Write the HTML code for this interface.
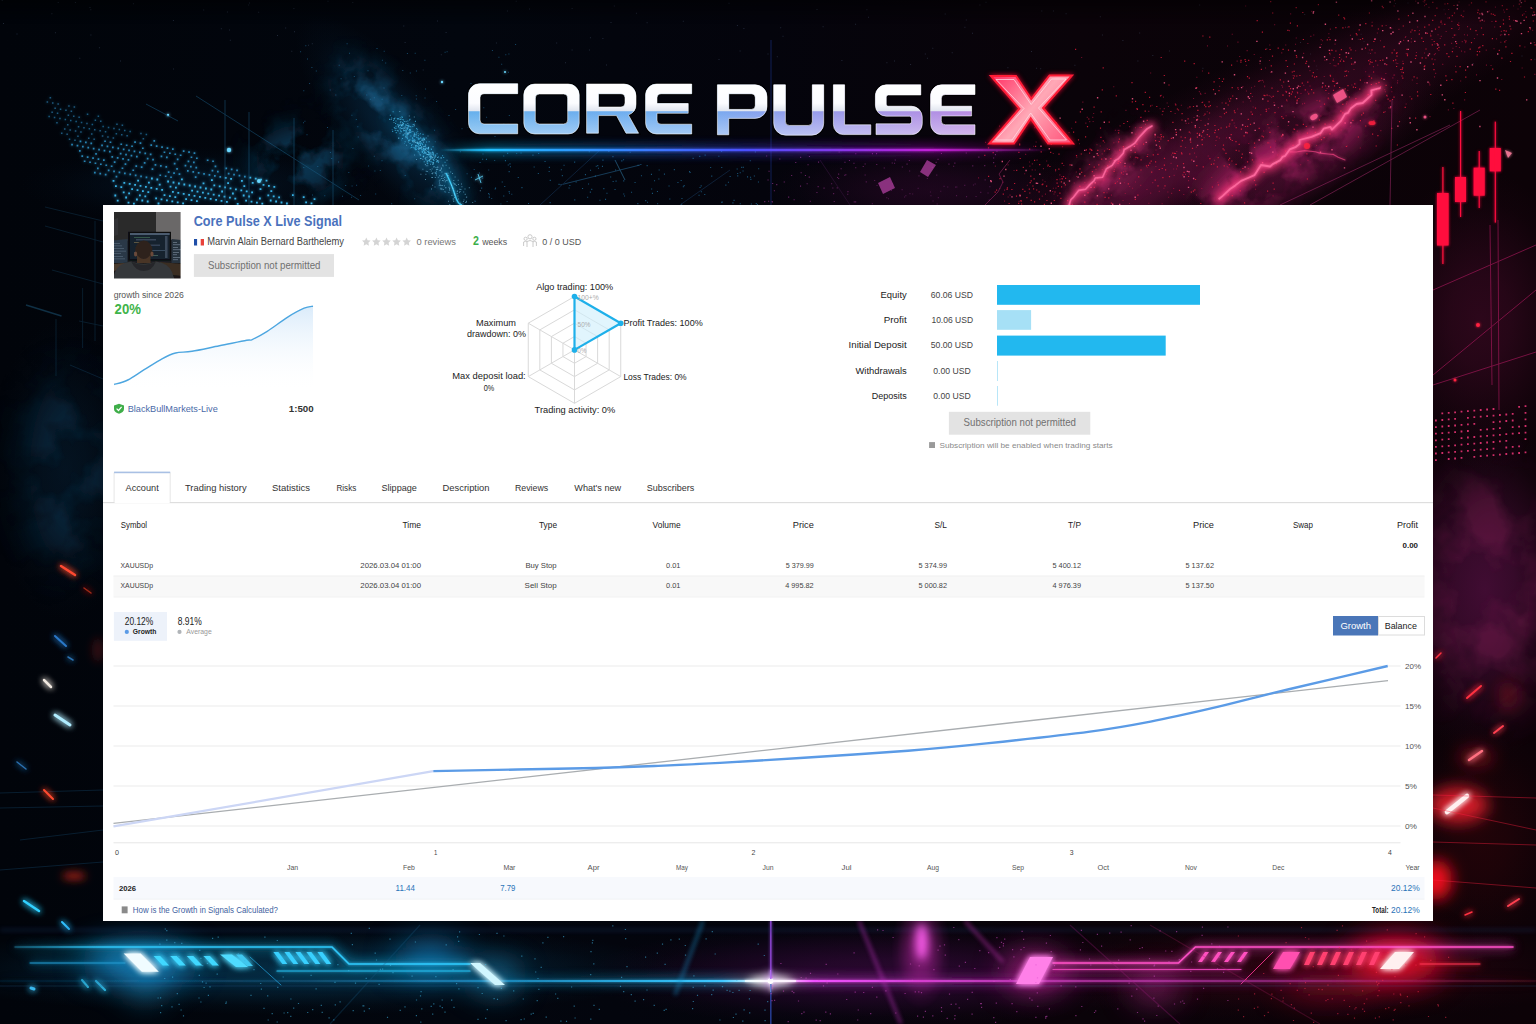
<!DOCTYPE html>
<html><head><meta charset="utf-8"><title>Core Pulse X</title>
<style>
html,body{margin:0;padding:0;width:1536px;height:1024px;overflow:hidden;background:#03050a;}
body{position:relative;font-family:"Liberation Sans", sans-serif;}
#bg{position:absolute;left:0;top:0;width:1536px;height:1024px;display:block;}
#fg{position:absolute;left:0;top:0;width:1536px;height:1024px;}
svg text{font-family:"Liberation Sans", sans-serif;}
</style></head><body>

<svg id="bg" width="1536" height="1024" viewBox="0 0 1536 1024">
<defs>
<linearGradient id="base" x1="0" y1="0" x2="1" y2="0">
 <stop offset="0" stop-color="#01040a"/><stop offset="0.3" stop-color="#02060e"/>
 <stop offset="0.5" stop-color="#04040c"/><stop offset="0.7" stop-color="#0a0309"/><stop offset="1" stop-color="#0c0207"/>
</linearGradient>
<linearGradient id="topdark" x1="0" y1="0" x2="0" y2="1">
 <stop offset="0" stop-color="#000" stop-opacity="0.45"/><stop offset="0.12" stop-color="#000" stop-opacity="0"/>
</linearGradient>
<filter id="b1" x="0" y="0" width="1536" height="1024" filterUnits="userSpaceOnUse"><feGaussianBlur stdDeviation="1"/></filter>
<filter id="b2" x="0" y="0" width="1536" height="1024" filterUnits="userSpaceOnUse"><feGaussianBlur stdDeviation="2"/></filter>
<filter id="b4" x="0" y="0" width="1536" height="1024" filterUnits="userSpaceOnUse"><feGaussianBlur stdDeviation="4"/></filter>
<filter id="b8" x="0" y="0" width="1536" height="1024" filterUnits="userSpaceOnUse"><feGaussianBlur stdDeviation="8"/></filter>
<filter id="b16" x="0" y="0" width="1536" height="1024" filterUnits="userSpaceOnUse"><feGaussianBlur stdDeviation="16"/></filter>
<filter id="b30" x="0" y="0" width="1536" height="1024" filterUnits="userSpaceOnUse"><feGaussianBlur stdDeviation="30"/></filter>
<filter id="glow" x="0" y="0" width="1536" height="1024" filterUnits="userSpaceOnUse"><feGaussianBlur stdDeviation="3" result="g"/><feMerge><feMergeNode in="g"/><feMergeNode in="g"/><feMergeNode in="SourceGraphic"/></feMerge></filter>
<filter id="glowB" x="0" y="0" width="1536" height="1024" filterUnits="userSpaceOnUse"><feGaussianBlur stdDeviation="6" result="g"/><feGaussianBlur in="SourceGraphic" stdDeviation="1.5" result="h"/><feMerge><feMergeNode in="g"/><feMergeNode in="g"/><feMergeNode in="h"/><feMergeNode in="SourceGraphic"/></feMerge></filter>
<filter id="glow2" x="0" y="0" width="1536" height="1024" filterUnits="userSpaceOnUse"><feGaussianBlur stdDeviation="1.5" result="g"/><feMerge><feMergeNode in="g"/><feMergeNode in="SourceGraphic"/></feMerge></filter>
<filter id="cloud" x="0" y="0" width="1536" height="1024" filterUnits="userSpaceOnUse">
 <feGaussianBlur in="SourceGraphic" stdDeviation="22" result="s"/>
 <feTurbulence type="fractalNoise" baseFrequency="0.018" numOctaves="4" seed="5" result="n"/>
 <feColorMatrix in="n" type="matrix" values="0 0 0 0 1  0 0 0 0 1  0 0 0 0 1  3.2 0 0 0 -1.15" result="na"/>
 <feComposite in="na" in2="s" operator="arithmetic" k1="1" k2="0" k3="0" k4="0"/>
</filter>
<filter id="cloud2" x="0" y="0" width="1536" height="1024" filterUnits="userSpaceOnUse">
 <feGaussianBlur in="SourceGraphic" stdDeviation="14" result="s"/>
 <feTurbulence type="fractalNoise" baseFrequency="0.03" numOctaves="4" seed="9" result="n"/>
 <feColorMatrix in="n" type="matrix" values="0 0 0 0 1  0 0 0 0 1  0 0 0 0 1  3.5 0 0 0 -1.3" result="na"/>
 <feComposite in="na" in2="s" operator="arithmetic" k1="1" k2="0" k3="0" k4="0"/>
</filter>
</defs>
<rect width="1536" height="1024" fill="url(#base)"/>
<radialGradient id="hz1"><stop offset="0" stop-color="#06263e" stop-opacity="0.8"/><stop offset="0.3" stop-color="#06263e" stop-opacity="0.640"/><stop offset="0.6" stop-color="#06263e" stop-opacity="0.320"/><stop offset="0.8" stop-color="#06263e" stop-opacity="0.104"/><stop offset="1" stop-color="#06263e" stop-opacity="0"/></radialGradient><ellipse cx="400" cy="135" rx="150" ry="52" fill="url(#hz1)" transform="rotate(50 400 135)"/>
<radialGradient id="hz2"><stop offset="0" stop-color="#04182a" stop-opacity="0.6"/><stop offset="0.3" stop-color="#04182a" stop-opacity="0.480"/><stop offset="0.6" stop-color="#04182a" stop-opacity="0.240"/><stop offset="0.8" stop-color="#04182a" stop-opacity="0.078"/><stop offset="1" stop-color="#04182a" stop-opacity="0"/></radialGradient><ellipse cx="200" cy="185" rx="180" ry="38" fill="url(#hz2)"/>
<radialGradient id="hz3"><stop offset="0" stop-color="#05192a" stop-opacity="0.7"/><stop offset="0.3" stop-color="#05192a" stop-opacity="0.560"/><stop offset="0.6" stop-color="#05192a" stop-opacity="0.280"/><stop offset="0.8" stop-color="#05192a" stop-opacity="0.091"/><stop offset="1" stop-color="#05192a" stop-opacity="0"/></radialGradient><ellipse cx="65" cy="470" rx="75" ry="150" fill="url(#hz3)"/>
<g filter="url(#cloud2)" opacity="0.75"><ellipse cx="395" cy="130" rx="85" ry="22" fill="#1a6a98" transform="rotate(50 395 130)"/><ellipse cx="300" cy="160" rx="45" ry="35" fill="#0e4466"/></g>
<g filter="url(#cloud)" opacity="0.5"><ellipse cx="70" cy="470" rx="40" ry="95" fill="#0c3a58"/></g>
<g filter="url(#b8)"><path d="M390,115 L434,161 Q445,172 452,185 T462,205" stroke="#1a8ac0" stroke-width="9" fill="none" opacity="0.45"/></g>
<g filter="url(#glow2)"><path d="M446,173 Q452,185 455,195 T462,205" stroke="#40d0ff" stroke-width="1.4" fill="none" opacity="0.9"/><path d="M475,180 L483,176 M478,174 L481,183" stroke="#60d8ff" stroke-width="1" opacity="0.8"/></g>
<path d="M402.5 134.6h1.1v1.1h-1.1zM407.0 138.2h1.1v1.1h-1.1zM395.4 125.7h1.1v1.1h-1.1zM430.2 154.8h1.1v1.1h-1.1zM401.4 116.3h1.1v1.1h-1.1zM409.5 118.7h1.1v1.1h-1.1zM419.0 145.2h1.1v1.1h-1.1zM393.9 118.4h1.1v1.1h-1.1zM402.7 127.4h1.1v1.1h-1.1zM404.6 141.2h1.1v1.1h-1.1zM412.0 137.2h1.1v1.1h-1.1zM417.6 148.0h1.1v1.1h-1.1zM444.5 161.7h1.1v1.1h-1.1zM421.9 151.8h1.1v1.1h-1.1zM414.3 133.6h1.1v1.1h-1.1zM413.8 132.4h1.1v1.1h-1.1zM433.4 160.0h1.1v1.1h-1.1zM408.2 124.8h1.1v1.1h-1.1zM432.7 162.1h1.1v1.1h-1.1zM420.9 142.6h1.1v1.1h-1.1zM392.1 130.8h1.1v1.1h-1.1zM428.1 153.4h1.1v1.1h-1.1zM407.3 125.1h1.1v1.1h-1.1zM397.0 124.2h1.1v1.1h-1.1zM402.3 124.3h1.1v1.1h-1.1zM424.6 149.1h1.1v1.1h-1.1zM401.9 137.9h1.1v1.1h-1.1zM423.7 161.2h1.1v1.1h-1.1zM395.7 132.1h1.1v1.1h-1.1zM432.8 153.3h1.1v1.1h-1.1zM403.1 134.3h1.1v1.1h-1.1zM407.6 134.0h1.1v1.1h-1.1zM395.4 120.5h1.1v1.1h-1.1zM415.2 147.6h1.1v1.1h-1.1zM426.9 160.7h1.1v1.1h-1.1zM430.8 158.2h1.1v1.1h-1.1zM432.9 155.2h1.1v1.1h-1.1zM401.8 116.9h1.1v1.1h-1.1zM412.7 124.1h1.1v1.1h-1.1zM417.1 145.4h1.1v1.1h-1.1zM400.1 119.0h1.1v1.1h-1.1zM422.8 156.4h1.1v1.1h-1.1zM418.0 146.6h1.1v1.1h-1.1zM427.1 150.9h1.1v1.1h-1.1zM421.5 138.2h1.1v1.1h-1.1zM409.1 129.0h1.1v1.1h-1.1zM395.0 123.0h1.1v1.1h-1.1zM399.6 124.1h1.1v1.1h-1.1zM421.1 146.0h1.1v1.1h-1.1zM437.9 156.5h1.1v1.1h-1.1zM420.3 147.3h1.1v1.1h-1.1zM407.3 120.5h1.1v1.1h-1.1zM424.0 148.7h1.1v1.1h-1.1zM412.4 146.7h1.1v1.1h-1.1zM409.7 132.0h1.1v1.1h-1.1zM416.0 133.5h1.1v1.1h-1.1zM421.9 143.6h1.1v1.1h-1.1zM427.1 163.1h1.1v1.1h-1.1zM434.6 154.6h1.1v1.1h-1.1zM430.9 148.8h1.1v1.1h-1.1zM415.1 149.1h1.1v1.1h-1.1zM425.6 147.5h1.1v1.1h-1.1zM440.6 157.3h1.1v1.1h-1.1zM409.9 129.8h1.1v1.1h-1.1zM413.7 136.0h1.1v1.1h-1.1zM431.7 152.0h1.1v1.1h-1.1zM415.2 145.3h1.1v1.1h-1.1zM406.4 133.9h1.1v1.1h-1.1zM409.5 129.5h1.1v1.1h-1.1zM423.0 150.2h1.1v1.1h-1.1zM428.3 154.2h1.1v1.1h-1.1zM427.2 162.5h1.1v1.1h-1.1zM394.7 129.8h1.1v1.1h-1.1zM435.2 155.5h1.1v1.1h-1.1zM417.2 145.6h1.1v1.1h-1.1zM419.9 133.2h1.1v1.1h-1.1zM427.3 148.3h1.1v1.1h-1.1zM397.9 126.4h1.1v1.1h-1.1zM397.6 130.3h1.1v1.1h-1.1zM410.9 146.7h1.1v1.1h-1.1zM432.4 161.7h1.1v1.1h-1.1zM397.3 118.6h1.1v1.1h-1.1zM419.5 147.7h1.1v1.1h-1.1zM429.3 153.1h1.1v1.1h-1.1zM422.5 139.2h1.1v1.1h-1.1zM405.5 129.4h1.1v1.1h-1.1zM413.5 147.5h1.1v1.1h-1.1zM425.7 137.4h1.1v1.1h-1.1zM424.2 152.4h1.1v1.1h-1.1zM407.8 126.2h1.1v1.1h-1.1zM425.3 152.3h1.1v1.1h-1.1zM406.9 128.6h1.1v1.1h-1.1zM419.8 141.0h1.1v1.1h-1.1zM428.5 151.9h1.1v1.1h-1.1zM431.8 157.0h1.1v1.1h-1.1zM405.4 131.7h1.1v1.1h-1.1zM400.7 131.1h1.1v1.1h-1.1zM432.1 151.5h1.1v1.1h-1.1zM423.3 152.8h1.1v1.1h-1.1zM422.7 149.1h1.1v1.1h-1.1zM414.9 120.8h1.1v1.1h-1.1zM425.5 159.4h1.1v1.1h-1.1zM416.1 127.9h1.1v1.1h-1.1zM413.6 135.5h1.1v1.1h-1.1zM417.7 137.6h1.1v1.1h-1.1zM396.8 117.9h1.1v1.1h-1.1zM429.1 156.4h1.1v1.1h-1.1zM428.3 154.4h1.1v1.1h-1.1zM414.1 133.2h1.1v1.1h-1.1zM428.1 146.8h1.1v1.1h-1.1zM436.0 161.2h1.1v1.1h-1.1zM414.0 147.4h1.1v1.1h-1.1zM411.0 145.0h1.1v1.1h-1.1zM415.5 146.3h1.1v1.1h-1.1zM431.6 153.6h1.1v1.1h-1.1zM435.0 154.5h1.1v1.1h-1.1zM419.8 147.9h1.1v1.1h-1.1zM414.2 139.6h1.1v1.1h-1.1zM428.7 160.2h1.1v1.1h-1.1zM421.7 151.5h1.1v1.1h-1.1zM428.3 150.4h1.1v1.1h-1.1zM422.5 133.8h1.1v1.1h-1.1zM403.2 130.2h1.1v1.1h-1.1zM416.7 129.2h1.1v1.1h-1.1zM412.7 141.3h1.1v1.1h-1.1zM422.1 144.2h1.1v1.1h-1.1zM429.4 152.7h1.1v1.1h-1.1zM402.4 124.7h1.1v1.1h-1.1zM407.5 132.3h1.1v1.1h-1.1zM428.5 153.5h1.1v1.1h-1.1zM407.0 133.7h1.1v1.1h-1.1zM408.8 140.1h1.1v1.1h-1.1zM418.0 143.6h1.1v1.1h-1.1zM416.3 142.0h1.1v1.1h-1.1zM421.5 150.4h1.1v1.1h-1.1zM403.8 121.0h1.1v1.1h-1.1zM429.4 160.9h1.1v1.1h-1.1zM435.5 172.6h1.1v1.1h-1.1zM433.0 159.3h1.1v1.1h-1.1zM423.9 151.8h1.1v1.1h-1.1zM420.5 158.0h1.1v1.1h-1.1zM393.8 127.0h1.1v1.1h-1.1zM398.0 124.6h1.1v1.1h-1.1zM433.9 157.7h1.1v1.1h-1.1zM415.5 135.5h1.1v1.1h-1.1zM423.1 149.6h1.1v1.1h-1.1zM405.4 123.9h1.1v1.1h-1.1zM413.0 139.7h1.1v1.1h-1.1zM405.1 133.5h1.1v1.1h-1.1zM436.6 160.8h1.1v1.1h-1.1zM402.8 119.4h1.1v1.1h-1.1zM423.0 155.6h1.1v1.1h-1.1zM409.5 143.0h1.1v1.1h-1.1zM392.6 111.2h1.1v1.1h-1.1zM394.4 127.8h1.1v1.1h-1.1zM412.2 138.1h1.1v1.1h-1.1zM426.0 141.4h1.1v1.1h-1.1zM424.3 145.7h1.1v1.1h-1.1zM414.6 148.7h1.1v1.1h-1.1zM424.2 139.4h1.1v1.1h-1.1zM412.3 125.9h1.1v1.1h-1.1zM428.1 148.5h1.1v1.1h-1.1zM436.5 153.2h1.1v1.1h-1.1zM426.2 147.7h1.1v1.1h-1.1zM428.0 151.4h1.1v1.1h-1.1zM418.4 138.9h1.1v1.1h-1.1zM418.0 144.1h1.1v1.1h-1.1zM430.5 156.4h1.1v1.1h-1.1zM415.8 144.9h1.1v1.1h-1.1zM417.8 135.1h1.1v1.1h-1.1zM424.1 137.7h1.1v1.1h-1.1zM389.8 114.7h1.1v1.1h-1.1zM404.0 130.0h1.1v1.1h-1.1zM401.2 127.9h1.1v1.1h-1.1zM410.3 126.2h1.1v1.1h-1.1zM421.7 139.3h1.1v1.1h-1.1zM428.9 156.2h1.1v1.1h-1.1zM391.1 117.5h1.1v1.1h-1.1zM399.5 119.0h1.1v1.1h-1.1zM416.7 142.8h1.1v1.1h-1.1zM430.7 148.4h1.1v1.1h-1.1zM405.2 135.6h1.1v1.1h-1.1zM408.0 139.8h1.1v1.1h-1.1zM415.8 148.9h1.1v1.1h-1.1zM410.6 131.3h1.1v1.1h-1.1zM401.4 125.5h1.1v1.1h-1.1zM417.2 131.2h1.1v1.1h-1.1zM409.0 119.5h1.1v1.1h-1.1zM402.3 118.9h1.1v1.1h-1.1zM417.8 138.5h1.1v1.1h-1.1zM423.3 138.6h1.1v1.1h-1.1zM422.9 137.6h1.1v1.1h-1.1zM424.4 148.3h1.1v1.1h-1.1zM413.7 139.3h1.1v1.1h-1.1zM420.0 144.3h1.1v1.1h-1.1zM418.0 148.2h1.1v1.1h-1.1zM410.7 147.0h1.1v1.1h-1.1zM428.6 141.2h1.1v1.1h-1.1zM424.6 152.3h1.1v1.1h-1.1zM432.2 151.8h1.1v1.1h-1.1zM408.3 139.8h1.1v1.1h-1.1zM411.7 139.8h1.1v1.1h-1.1zM426.5 154.0h1.1v1.1h-1.1zM443.1 157.0h1.1v1.1h-1.1zM400.3 120.9h1.1v1.1h-1.1zM410.3 135.4h1.1v1.1h-1.1zM418.6 142.6h1.1v1.1h-1.1zM415.3 146.0h1.1v1.1h-1.1zM406.5 134.8h1.1v1.1h-1.1zM408.4 125.5h1.1v1.1h-1.1zM404.6 126.2h1.1v1.1h-1.1zM420.4 142.7h1.1v1.1h-1.1zM411.5 144.0h1.1v1.1h-1.1zM401.2 124.3h1.1v1.1h-1.1zM400.1 130.3h1.1v1.1h-1.1zM427.5 160.2h1.1v1.1h-1.1zM400.3 121.1h1.1v1.1h-1.1zM393.0 119.8h1.1v1.1h-1.1zM419.8 154.7h1.1v1.1h-1.1zM399.7 127.1h1.1v1.1h-1.1zM395.6 127.7h1.1v1.1h-1.1zM422.2 150.7h1.1v1.1h-1.1zM408.6 130.0h1.1v1.1h-1.1zM398.1 118.1h1.1v1.1h-1.1zM442.0 155.2h1.1v1.1h-1.1zM413.9 134.0h1.1v1.1h-1.1zM398.3 137.5h1.1v1.1h-1.1zM430.8 161.2h1.1v1.1h-1.1zM406.3 137.1h1.1v1.1h-1.1zM412.7 139.9h1.1v1.1h-1.1zM417.7 151.2h1.1v1.1h-1.1zM421.3 148.8h1.1v1.1h-1.1zM430.0 157.6h1.1v1.1h-1.1zM409.4 139.3h1.1v1.1h-1.1zM428.4 154.6h1.1v1.1h-1.1zM389.1 118.8h1.1v1.1h-1.1zM405.5 124.9h1.1v1.1h-1.1zM437.1 160.4h1.1v1.1h-1.1zM400.6 118.5h1.1v1.1h-1.1zM406.4 135.5h1.1v1.1h-1.1zM416.3 137.0h1.1v1.1h-1.1zM415.8 131.7h1.1v1.1h-1.1zM407.0 138.2h1.1v1.1h-1.1zM427.8 147.1h1.1v1.1h-1.1zM423.2 147.6h1.1v1.1h-1.1zM432.5 146.2h1.1v1.1h-1.1zM429.4 156.4h1.1v1.1h-1.1zM425.1 145.3h1.1v1.1h-1.1zM416.8 141.7h1.1v1.1h-1.1zM432.5 163.3h1.1v1.1h-1.1zM399.5 128.5h1.1v1.1h-1.1zM437.8 161.9h1.1v1.1h-1.1zM394.4 117.5h1.1v1.1h-1.1zM407.3 127.6h1.1v1.1h-1.1zM419.5 143.1h1.1v1.1h-1.1zM400.7 125.3h1.1v1.1h-1.1zM403.0 123.1h1.1v1.1h-1.1zM405.6 130.8h1.1v1.1h-1.1zM402.1 122.1h1.1v1.1h-1.1zM419.3 138.0h1.1v1.1h-1.1z" fill="#40b8e8" opacity="0.7"/>
<path d="M413.8 123.7h1.0v1.0h-1.0zM396.7 130.1h1.0v1.0h-1.0zM414.6 140.5h1.0v1.0h-1.0zM434.5 156.0h1.0v1.0h-1.0zM412.1 140.9h1.0v1.0h-1.0zM432.6 159.1h1.0v1.0h-1.0zM390.7 119.1h1.0v1.0h-1.0zM425.3 147.7h1.0v1.0h-1.0zM403.7 127.9h1.0v1.0h-1.0zM409.5 125.9h1.0v1.0h-1.0zM424.4 145.9h1.0v1.0h-1.0zM421.4 147.1h1.0v1.0h-1.0zM399.3 111.1h1.0v1.0h-1.0zM431.3 155.7h1.0v1.0h-1.0zM428.3 152.1h1.0v1.0h-1.0zM420.1 137.2h1.0v1.0h-1.0zM426.4 162.4h1.0v1.0h-1.0zM413.6 135.5h1.0v1.0h-1.0zM429.7 159.2h1.0v1.0h-1.0zM421.2 147.4h1.0v1.0h-1.0zM406.7 133.2h1.0v1.0h-1.0zM399.5 132.7h1.0v1.0h-1.0zM408.5 132.1h1.0v1.0h-1.0zM398.1 137.8h1.0v1.0h-1.0zM427.7 154.0h1.0v1.0h-1.0zM409.2 131.7h1.0v1.0h-1.0zM416.9 143.0h1.0v1.0h-1.0zM435.7 159.0h1.0v1.0h-1.0zM418.4 148.9h1.0v1.0h-1.0zM415.2 145.2h1.0v1.0h-1.0zM408.8 132.6h1.0v1.0h-1.0zM402.5 123.2h1.0v1.0h-1.0zM425.4 157.1h1.0v1.0h-1.0zM409.3 131.0h1.0v1.0h-1.0zM406.9 127.6h1.0v1.0h-1.0zM425.5 152.8h1.0v1.0h-1.0zM426.7 153.9h1.0v1.0h-1.0zM405.5 129.7h1.0v1.0h-1.0zM421.4 139.9h1.0v1.0h-1.0zM404.9 136.4h1.0v1.0h-1.0zM427.8 148.2h1.0v1.0h-1.0zM407.5 133.0h1.0v1.0h-1.0zM406.6 124.9h1.0v1.0h-1.0zM422.9 148.1h1.0v1.0h-1.0zM393.5 122.0h1.0v1.0h-1.0zM424.9 149.0h1.0v1.0h-1.0zM417.6 133.2h1.0v1.0h-1.0zM424.1 150.6h1.0v1.0h-1.0zM426.7 156.6h1.0v1.0h-1.0zM420.0 144.9h1.0v1.0h-1.0zM426.6 160.8h1.0v1.0h-1.0zM432.3 163.9h1.0v1.0h-1.0zM420.8 147.2h1.0v1.0h-1.0zM397.9 125.9h1.0v1.0h-1.0zM412.4 130.9h1.0v1.0h-1.0zM423.1 146.0h1.0v1.0h-1.0zM405.6 121.1h1.0v1.0h-1.0zM413.8 141.5h1.0v1.0h-1.0zM440.6 157.6h1.0v1.0h-1.0zM425.8 149.7h1.0v1.0h-1.0zM409.5 128.9h1.0v1.0h-1.0zM419.5 141.0h1.0v1.0h-1.0zM418.0 142.6h1.0v1.0h-1.0zM414.0 125.2h1.0v1.0h-1.0zM418.7 152.5h1.0v1.0h-1.0zM419.6 154.1h1.0v1.0h-1.0zM430.5 153.6h1.0v1.0h-1.0zM416.8 141.7h1.0v1.0h-1.0zM420.6 147.4h1.0v1.0h-1.0zM401.5 128.1h1.0v1.0h-1.0zM427.9 147.6h1.0v1.0h-1.0zM407.3 123.0h1.0v1.0h-1.0zM407.9 141.6h1.0v1.0h-1.0zM423.0 141.7h1.0v1.0h-1.0zM424.0 139.1h1.0v1.0h-1.0zM424.7 157.9h1.0v1.0h-1.0zM422.7 140.2h1.0v1.0h-1.0zM406.1 144.7h1.0v1.0h-1.0zM415.4 134.3h1.0v1.0h-1.0zM430.2 152.2h1.0v1.0h-1.0zM422.8 156.1h1.0v1.0h-1.0zM401.7 124.1h1.0v1.0h-1.0zM413.8 140.9h1.0v1.0h-1.0zM419.1 148.1h1.0v1.0h-1.0zM404.3 133.3h1.0v1.0h-1.0zM408.8 115.5h1.0v1.0h-1.0zM425.1 144.2h1.0v1.0h-1.0zM428.7 160.0h1.0v1.0h-1.0zM419.5 141.9h1.0v1.0h-1.0zM431.1 156.4h1.0v1.0h-1.0zM436.8 159.9h1.0v1.0h-1.0zM406.2 132.5h1.0v1.0h-1.0zM432.8 153.7h1.0v1.0h-1.0zM407.9 133.1h1.0v1.0h-1.0zM399.7 117.3h1.0v1.0h-1.0zM427.5 135.5h1.0v1.0h-1.0zM415.0 142.0h1.0v1.0h-1.0zM434.5 157.0h1.0v1.0h-1.0zM425.1 158.5h1.0v1.0h-1.0zM413.8 116.6h1.0v1.0h-1.0zM400.9 125.0h1.0v1.0h-1.0zM432.5 157.3h1.0v1.0h-1.0zM419.9 157.9h1.0v1.0h-1.0zM429.2 154.2h1.0v1.0h-1.0zM427.9 147.0h1.0v1.0h-1.0zM398.9 124.9h1.0v1.0h-1.0zM424.5 151.6h1.0v1.0h-1.0zM399.9 122.3h1.0v1.0h-1.0zM404.4 127.3h1.0v1.0h-1.0zM419.2 147.3h1.0v1.0h-1.0zM430.1 156.0h1.0v1.0h-1.0zM432.7 152.3h1.0v1.0h-1.0zM406.6 136.5h1.0v1.0h-1.0zM393.5 118.1h1.0v1.0h-1.0zM405.7 127.4h1.0v1.0h-1.0zM406.5 127.5h1.0v1.0h-1.0zM403.1 129.5h1.0v1.0h-1.0zM432.2 157.4h1.0v1.0h-1.0zM413.5 134.4h1.0v1.0h-1.0zM429.0 158.9h1.0v1.0h-1.0zM444.8 181.3h1.0v1.0h-1.0zM455.0 183.7h1.0v1.0h-1.0zM454.6 176.5h1.0v1.0h-1.0zM452.9 182.5h1.0v1.0h-1.0zM462.9 201.0h1.0v1.0h-1.0zM425.4 173.7h1.0v1.0h-1.0zM459.0 191.8h1.0v1.0h-1.0zM449.0 188.5h1.0v1.0h-1.0zM458.0 183.9h1.0v1.0h-1.0zM440.4 187.7h1.0v1.0h-1.0zM437.2 168.9h1.0v1.0h-1.0zM439.4 184.5h1.0v1.0h-1.0zM440.1 170.0h1.0v1.0h-1.0zM452.7 198.2h1.0v1.0h-1.0zM458.0 198.4h1.0v1.0h-1.0zM447.6 175.1h1.0v1.0h-1.0zM445.5 187.3h1.0v1.0h-1.0zM463.2 191.4h1.0v1.0h-1.0zM435.9 170.7h1.0v1.0h-1.0zM461.0 183.4h1.0v1.0h-1.0zM425.7 165.3h1.0v1.0h-1.0zM439.9 169.5h1.0v1.0h-1.0zM448.8 167.4h1.0v1.0h-1.0zM422.4 168.8h1.0v1.0h-1.0zM432.4 172.3h1.0v1.0h-1.0zM429.7 169.0h1.0v1.0h-1.0zM446.7 179.7h1.0v1.0h-1.0zM465.9 196.7h1.0v1.0h-1.0zM437.8 176.7h1.0v1.0h-1.0zM420.4 173.7h1.0v1.0h-1.0zM431.0 188.4h1.0v1.0h-1.0zM459.3 188.7h1.0v1.0h-1.0zM459.6 190.9h1.0v1.0h-1.0zM461.4 186.2h1.0v1.0h-1.0zM453.2 201.1h1.0v1.0h-1.0zM449.3 203.9h1.0v1.0h-1.0zM434.6 172.3h1.0v1.0h-1.0zM452.0 187.6h1.0v1.0h-1.0zM430.8 170.5h1.0v1.0h-1.0zM457.7 179.8h1.0v1.0h-1.0zM462.4 203.5h1.0v1.0h-1.0zM429.8 158.8h1.0v1.0h-1.0zM444.6 172.7h1.0v1.0h-1.0zM425.0 178.9h1.0v1.0h-1.0zM454.1 196.9h1.0v1.0h-1.0zM442.3 165.1h1.0v1.0h-1.0zM453.9 183.7h1.0v1.0h-1.0zM427.3 165.3h1.0v1.0h-1.0zM438.2 160.8h1.0v1.0h-1.0zM454.3 194.5h1.0v1.0h-1.0zM444.0 179.2h1.0v1.0h-1.0zM433.6 166.1h1.0v1.0h-1.0zM432.0 176.9h1.0v1.0h-1.0zM433.1 162.4h1.0v1.0h-1.0zM453.1 190.2h1.0v1.0h-1.0zM434.8 177.0h1.0v1.0h-1.0zM432.1 184.8h1.0v1.0h-1.0zM436.0 174.6h1.0v1.0h-1.0zM439.3 170.0h1.0v1.0h-1.0zM438.7 184.7h1.0v1.0h-1.0zM468.8 187.2h1.0v1.0h-1.0zM435.9 169.0h1.0v1.0h-1.0zM442.8 180.3h1.0v1.0h-1.0zM439.0 182.4h1.0v1.0h-1.0zM444.2 176.9h1.0v1.0h-1.0zM452.5 187.8h1.0v1.0h-1.0zM444.5 173.3h1.0v1.0h-1.0zM451.0 184.4h1.0v1.0h-1.0zM442.8 189.0h1.0v1.0h-1.0zM424.9 164.0h1.0v1.0h-1.0zM430.0 163.8h1.0v1.0h-1.0zM439.6 179.4h1.0v1.0h-1.0zM441.4 175.7h1.0v1.0h-1.0zM450.2 171.6h1.0v1.0h-1.0zM436.6 169.0h1.0v1.0h-1.0zM431.5 172.9h1.0v1.0h-1.0zM425.7 170.8h1.0v1.0h-1.0zM449.2 189.7h1.0v1.0h-1.0zM438.8 180.5h1.0v1.0h-1.0zM464.7 194.0h1.0v1.0h-1.0zM466.0 201.6h1.0v1.0h-1.0zM445.0 187.2h1.0v1.0h-1.0zM435.5 167.0h1.0v1.0h-1.0zM422.3 158.7h1.0v1.0h-1.0zM426.8 171.1h1.0v1.0h-1.0zM441.9 180.1h1.0v1.0h-1.0zM466.2 196.5h1.0v1.0h-1.0zM447.4 172.8h1.0v1.0h-1.0zM451.0 185.0h1.0v1.0h-1.0zM465.9 200.7h1.0v1.0h-1.0zM441.5 188.4h1.0v1.0h-1.0zM440.0 184.7h1.0v1.0h-1.0zM449.2 187.8h1.0v1.0h-1.0zM445.6 180.0h1.0v1.0h-1.0zM437.2 166.4h1.0v1.0h-1.0zM432.5 162.3h1.0v1.0h-1.0zM447.1 174.7h1.0v1.0h-1.0zM446.5 159.8h1.0v1.0h-1.0zM431.6 168.4h1.0v1.0h-1.0zM448.0 200.8h1.0v1.0h-1.0zM437.3 167.0h1.0v1.0h-1.0zM442.6 165.4h1.0v1.0h-1.0zM451.4 195.1h1.0v1.0h-1.0zM443.9 185.2h1.0v1.0h-1.0zM463.5 199.5h1.0v1.0h-1.0zM454.0 193.3h1.0v1.0h-1.0zM414.1 154.5h1.0v1.0h-1.0zM439.2 175.2h1.0v1.0h-1.0zM465.2 201.9h1.0v1.0h-1.0zM456.7 193.1h1.0v1.0h-1.0zM437.0 157.1h1.0v1.0h-1.0zM433.3 166.4h1.0v1.0h-1.0zM441.3 184.9h1.0v1.0h-1.0zM445.6 164.8h1.0v1.0h-1.0zM431.3 177.1h1.0v1.0h-1.0zM464.7 193.8h1.0v1.0h-1.0zM440.5 188.7h1.0v1.0h-1.0zM436.9 168.7h1.0v1.0h-1.0zM433.5 166.3h1.0v1.0h-1.0zM456.8 191.0h1.0v1.0h-1.0zM440.9 178.0h1.0v1.0h-1.0zM442.6 178.1h1.0v1.0h-1.0zM437.6 160.2h1.0v1.0h-1.0zM436.5 168.8h1.0v1.0h-1.0zM434.5 186.4h1.0v1.0h-1.0zM453.3 180.1h1.0v1.0h-1.0zM448.4 186.7h1.0v1.0h-1.0zM479.8 190.2h1.0v1.0h-1.0zM452.0 173.0h1.0v1.0h-1.0zM441.0 168.4h1.0v1.0h-1.0zM440.9 167.5h1.0v1.0h-1.0zM452.8 199.5h1.0v1.0h-1.0zM435.4 172.7h1.0v1.0h-1.0zM416.0 158.9h1.0v1.0h-1.0zM457.0 190.6h1.0v1.0h-1.0zM464.5 188.6h1.0v1.0h-1.0zM442.4 174.5h1.0v1.0h-1.0zM472.2 201.9h1.0v1.0h-1.0zM432.1 173.3h1.0v1.0h-1.0zM455.8 185.1h1.0v1.0h-1.0zM448.4 191.9h1.0v1.0h-1.0zM460.1 202.7h1.0v1.0h-1.0zM441.4 171.6h1.0v1.0h-1.0zM444.4 191.3h1.0v1.0h-1.0zM439.7 169.7h1.0v1.0h-1.0zM441.3 176.1h1.0v1.0h-1.0zM441.8 185.1h1.0v1.0h-1.0zM454.0 183.2h1.0v1.0h-1.0zM442.3 164.5h1.0v1.0h-1.0zM457.5 195.4h1.0v1.0h-1.0zM460.4 189.1h1.0v1.0h-1.0z" fill="#8adcff" opacity="0.5"/>
<g filter="url(#glow2)">
<path d="M48.4 115.8h1.5v1.5h-1.5zM46.6 101.2h1.5v1.5h-1.5zM51.4 111.6h1.5v1.5h-1.5zM53.8 116.8h1.5v1.5h-1.5zM56.2 122.0h1.5v1.5h-1.5zM61.0 132.4h1.5v1.5h-1.5zM49.6 97.0h1.5v1.5h-1.5zM52.0 102.2h1.5v1.5h-1.5zM54.4 107.4h1.5v1.5h-1.5zM56.8 112.6h1.5v1.5h-1.5zM59.2 117.8h1.5v1.5h-1.5zM64.0 128.2h1.5v1.5h-1.5zM66.4 133.4h1.5v1.5h-1.5zM68.8 138.6h1.5v1.5h-1.5zM57.4 103.2h1.5v1.5h-1.5zM59.8 108.4h1.5v1.5h-1.5zM64.6 118.8h1.5v1.5h-1.5zM67.0 124.0h1.5v1.5h-1.5zM69.4 129.2h1.5v1.5h-1.5zM74.2 139.6h1.5v1.5h-1.5zM65.2 109.4h1.5v1.5h-1.5zM67.6 114.6h1.5v1.5h-1.5zM70.0 119.8h1.5v1.5h-1.5zM74.8 130.2h1.5v1.5h-1.5zM77.2 135.4h1.5v1.5h-1.5zM68.2 105.2h1.5v1.5h-1.5zM70.6 110.4h1.5v1.5h-1.5zM73.0 115.6h1.5v1.5h-1.5zM75.4 120.8h1.5v1.5h-1.5zM77.8 126.0h1.5v1.5h-1.5zM80.2 131.2h1.5v1.5h-1.5zM73.6 106.2h1.5v1.5h-1.5zM78.4 116.6h1.5v1.5h-1.5zM80.8 121.8h1.5v1.5h-1.5zM83.2 127.0h1.5v1.5h-1.5zM88.0 137.4h1.5v1.5h-1.5zM86.2 122.8h1.5v1.5h-1.5zM88.6 128.0h1.5v1.5h-1.5zM91.0 133.2h1.5v1.5h-1.5zM93.4 138.4h1.5v1.5h-1.5zM86.8 113.4h1.5v1.5h-1.5zM91.6 123.8h1.5v1.5h-1.5zM94.0 129.0h1.5v1.5h-1.5zM94.6 119.6h1.5v1.5h-1.5zM99.4 130.0h1.5v1.5h-1.5zM101.8 135.2h1.5v1.5h-1.5zM97.6 115.4h1.5v1.5h-1.5zM100.0 120.6h1.5v1.5h-1.5zM102.4 125.8h1.5v1.5h-1.5zM104.8 131.0h1.5v1.5h-1.5zM107.2 136.2h1.5v1.5h-1.5zM107.8 126.8h1.5v1.5h-1.5zM112.6 137.2h1.5v1.5h-1.5zM113.2 127.8h1.5v1.5h-1.5zM115.6 133.0h1.5v1.5h-1.5zM116.2 123.6h1.5v1.5h-1.5zM118.6 128.8h1.5v1.5h-1.5zM121.0 134.0h1.5v1.5h-1.5zM121.6 124.6h1.5v1.5h-1.5zM124.0 129.8h1.5v1.5h-1.5zM126.4 135.0h1.5v1.5h-1.5zM129.4 130.8h1.5v1.5h-1.5zM140.2 132.8h1.5v1.5h-1.5zM142.6 138.0h1.5v1.5h-1.5zM145.6 133.8h1.5v1.5h-1.5z" fill="#2a88c0" opacity="0.6"/>
<path d="M71.2 143.8h1.7v1.7h-1.7zM76.6 144.8h1.7v1.7h-1.7zM79.0 150.0h1.7v1.7h-1.7zM81.4 155.2h1.7v1.7h-1.7zM83.8 160.4h1.7v1.7h-1.7zM79.6 140.6h1.7v1.7h-1.7zM82.0 145.8h1.7v1.7h-1.7zM86.8 156.2h1.7v1.7h-1.7zM89.2 161.4h1.7v1.7h-1.7zM94.0 171.8h1.7v1.7h-1.7zM85.0 141.6h1.7v1.7h-1.7zM87.4 146.8h1.7v1.7h-1.7zM92.2 157.2h1.7v1.7h-1.7zM94.6 162.4h1.7v1.7h-1.7zM97.0 167.6h1.7v1.7h-1.7zM99.4 172.8h1.7v1.7h-1.7zM90.4 142.6h1.7v1.7h-1.7zM92.8 147.8h1.7v1.7h-1.7zM95.2 153.0h1.7v1.7h-1.7zM97.6 158.2h1.7v1.7h-1.7zM100.0 163.4h1.7v1.7h-1.7zM104.8 173.8h1.7v1.7h-1.7zM98.2 148.8h1.7v1.7h-1.7zM103.0 159.2h1.7v1.7h-1.7zM105.4 164.4h1.7v1.7h-1.7zM107.8 169.6h1.7v1.7h-1.7zM101.2 144.6h1.7v1.7h-1.7zM103.6 149.8h1.7v1.7h-1.7zM110.8 165.4h1.7v1.7h-1.7zM113.2 170.6h1.7v1.7h-1.7zM115.6 175.8h1.7v1.7h-1.7zM104.2 140.4h1.7v1.7h-1.7zM106.6 145.6h1.7v1.7h-1.7zM109.0 150.8h1.7v1.7h-1.7zM111.4 156.0h1.7v1.7h-1.7zM113.8 161.2h1.7v1.7h-1.7zM118.6 171.6h1.7v1.7h-1.7zM109.6 141.4h1.7v1.7h-1.7zM112.0 146.6h1.7v1.7h-1.7zM116.8 157.0h1.7v1.7h-1.7zM121.6 167.4h1.7v1.7h-1.7zM124.0 172.6h1.7v1.7h-1.7zM117.4 147.6h1.7v1.7h-1.7zM119.8 152.8h1.7v1.7h-1.7zM122.2 158.0h1.7v1.7h-1.7zM124.6 163.2h1.7v1.7h-1.7zM129.4 173.6h1.7v1.7h-1.7zM120.4 143.4h1.7v1.7h-1.7zM122.8 148.6h1.7v1.7h-1.7zM125.2 153.8h1.7v1.7h-1.7zM127.6 159.0h1.7v1.7h-1.7zM132.4 169.4h1.7v1.7h-1.7zM134.8 174.6h1.7v1.7h-1.7zM125.8 144.4h1.7v1.7h-1.7zM128.2 149.6h1.7v1.7h-1.7zM130.6 154.8h1.7v1.7h-1.7zM135.4 165.2h1.7v1.7h-1.7zM140.2 175.6h1.7v1.7h-1.7zM131.2 145.4h1.7v1.7h-1.7zM133.6 150.6h1.7v1.7h-1.7zM136.0 155.8h1.7v1.7h-1.7zM140.8 166.2h1.7v1.7h-1.7zM145.6 176.6h1.7v1.7h-1.7zM134.2 141.2h1.7v1.7h-1.7zM139.0 151.6h1.7v1.7h-1.7zM143.8 162.0h1.7v1.7h-1.7zM139.6 142.2h1.7v1.7h-1.7zM142.0 147.4h1.7v1.7h-1.7zM144.4 152.6h1.7v1.7h-1.7zM146.8 157.8h1.7v1.7h-1.7zM151.6 168.2h1.7v1.7h-1.7zM149.8 153.6h1.7v1.7h-1.7zM152.2 158.8h1.7v1.7h-1.7zM154.6 164.0h1.7v1.7h-1.7zM159.4 174.4h1.7v1.7h-1.7zM150.4 144.2h1.7v1.7h-1.7zM160.0 165.0h1.7v1.7h-1.7zM164.8 175.4h1.7v1.7h-1.7zM153.4 140.0h1.7v1.7h-1.7zM155.8 145.2h1.7v1.7h-1.7zM160.6 155.6h1.7v1.7h-1.7zM165.4 166.0h1.7v1.7h-1.7zM167.8 171.2h1.7v1.7h-1.7zM170.2 176.4h1.7v1.7h-1.7zM161.2 146.2h1.7v1.7h-1.7zM163.6 151.4h1.7v1.7h-1.7zM166.0 156.6h1.7v1.7h-1.7zM173.2 172.2h1.7v1.7h-1.7zM166.6 147.2h1.7v1.7h-1.7zM169.0 152.4h1.7v1.7h-1.7zM173.8 162.8h1.7v1.7h-1.7zM176.2 168.0h1.7v1.7h-1.7zM178.6 173.2h1.7v1.7h-1.7zM172.0 148.2h1.7v1.7h-1.7zM174.4 153.4h1.7v1.7h-1.7zM176.8 158.6h1.7v1.7h-1.7zM179.8 154.4h1.7v1.7h-1.7zM184.6 164.8h1.7v1.7h-1.7zM187.0 170.0h1.7v1.7h-1.7zM182.8 150.2h1.7v1.7h-1.7zM187.6 160.6h1.7v1.7h-1.7zM190.0 165.8h1.7v1.7h-1.7zM192.4 171.0h1.7v1.7h-1.7zM194.8 176.2h1.7v1.7h-1.7zM188.2 151.2h1.7v1.7h-1.7zM190.6 156.4h1.7v1.7h-1.7zM193.0 161.6h1.7v1.7h-1.7zM195.4 166.8h1.7v1.7h-1.7zM197.8 172.0h1.7v1.7h-1.7zM193.6 152.2h1.7v1.7h-1.7zM196.0 157.4h1.7v1.7h-1.7zM203.2 173.0h1.7v1.7h-1.7zM208.6 174.0h1.7v1.7h-1.7zM206.8 159.4h1.7v1.7h-1.7zM211.6 169.8h1.7v1.7h-1.7zM214.0 175.0h1.7v1.7h-1.7zM212.2 160.4h1.7v1.7h-1.7zM214.6 165.6h1.7v1.7h-1.7zM217.0 170.8h1.7v1.7h-1.7zM219.4 176.0h1.7v1.7h-1.7zM225.4 167.6h1.7v1.7h-1.7zM227.8 172.8h1.7v1.7h-1.7zM230.8 168.6h1.7v1.7h-1.7zM233.2 173.8h1.7v1.7h-1.7zM236.2 169.6h1.7v1.7h-1.7zM238.6 174.8h1.7v1.7h-1.7zM244.0 175.8h1.7v1.7h-1.7z" fill="#30a0d8" opacity="0.8"/>
<path d="M114.4 194.6h1.8v1.8h-1.8zM116.8 199.8h1.8v1.8h-1.8zM112.6 180.0h1.8v1.8h-1.8zM115.0 185.2h1.8v1.8h-1.8zM120.4 186.2h1.8v1.8h-1.8zM122.8 191.4h1.8v1.8h-1.8zM125.2 196.6h1.8v1.8h-1.8zM127.6 201.8h1.8v1.8h-1.8zM123.4 182.0h1.8v1.8h-1.8zM128.2 192.4h1.8v1.8h-1.8zM133.0 202.8h1.8v1.8h-1.8zM128.8 183.0h1.8v1.8h-1.8zM131.2 188.2h1.8v1.8h-1.8zM136.0 198.6h1.8v1.8h-1.8zM134.2 184.0h1.8v1.8h-1.8zM136.6 189.2h1.8v1.8h-1.8zM139.0 194.4h1.8v1.8h-1.8zM141.4 199.6h1.8v1.8h-1.8zM137.2 179.8h1.8v1.8h-1.8zM139.6 185.0h1.8v1.8h-1.8zM142.0 190.2h1.8v1.8h-1.8zM144.4 195.4h1.8v1.8h-1.8zM146.8 200.6h1.8v1.8h-1.8zM145.0 186.0h1.8v1.8h-1.8zM147.4 191.2h1.8v1.8h-1.8zM148.0 181.8h1.8v1.8h-1.8zM150.4 187.0h1.8v1.8h-1.8zM155.2 197.4h1.8v1.8h-1.8zM157.6 202.6h1.8v1.8h-1.8zM151.0 177.6h1.8v1.8h-1.8zM155.8 188.0h1.8v1.8h-1.8zM160.6 198.4h1.8v1.8h-1.8zM156.4 178.6h1.8v1.8h-1.8zM158.8 183.8h1.8v1.8h-1.8zM161.2 189.0h1.8v1.8h-1.8zM163.6 194.2h1.8v1.8h-1.8zM166.0 199.4h1.8v1.8h-1.8zM169.0 195.2h1.8v1.8h-1.8zM171.4 200.4h1.8v1.8h-1.8zM167.2 180.6h1.8v1.8h-1.8zM169.6 185.8h1.8v1.8h-1.8zM172.0 191.0h1.8v1.8h-1.8zM174.4 196.2h1.8v1.8h-1.8zM176.8 201.4h1.8v1.8h-1.8zM172.6 181.6h1.8v1.8h-1.8zM175.0 186.8h1.8v1.8h-1.8zM177.4 192.0h1.8v1.8h-1.8zM182.2 202.4h1.8v1.8h-1.8zM178.0 182.6h1.8v1.8h-1.8zM182.8 193.0h1.8v1.8h-1.8zM185.2 198.2h1.8v1.8h-1.8zM181.0 178.4h1.8v1.8h-1.8zM183.4 183.6h1.8v1.8h-1.8zM188.2 194.0h1.8v1.8h-1.8zM190.6 199.2h1.8v1.8h-1.8zM188.8 184.6h1.8v1.8h-1.8zM191.2 189.8h1.8v1.8h-1.8zM193.6 195.0h1.8v1.8h-1.8zM196.0 200.2h1.8v1.8h-1.8zM194.2 185.6h1.8v1.8h-1.8zM196.6 190.8h1.8v1.8h-1.8zM199.0 196.0h1.8v1.8h-1.8zM199.6 186.6h1.8v1.8h-1.8zM202.0 191.8h1.8v1.8h-1.8zM204.4 197.0h1.8v1.8h-1.8zM202.6 182.4h1.8v1.8h-1.8zM205.0 187.6h1.8v1.8h-1.8zM207.4 192.8h1.8v1.8h-1.8zM209.8 198.0h1.8v1.8h-1.8zM210.4 188.6h1.8v1.8h-1.8zM212.8 193.8h1.8v1.8h-1.8zM215.2 199.0h1.8v1.8h-1.8zM211.0 179.2h1.8v1.8h-1.8zM213.4 184.4h1.8v1.8h-1.8zM218.2 194.8h1.8v1.8h-1.8zM220.6 200.0h1.8v1.8h-1.8zM218.8 185.4h1.8v1.8h-1.8zM221.2 190.6h1.8v1.8h-1.8zM223.6 195.8h1.8v1.8h-1.8zM226.0 201.0h1.8v1.8h-1.8zM224.2 186.4h1.8v1.8h-1.8zM229.0 196.8h1.8v1.8h-1.8zM224.8 177.0h1.8v1.8h-1.8zM227.2 182.2h1.8v1.8h-1.8zM229.6 187.4h1.8v1.8h-1.8zM232.0 192.6h1.8v1.8h-1.8zM234.4 197.8h1.8v1.8h-1.8zM236.8 203.0h1.8v1.8h-1.8zM230.2 178.0h1.8v1.8h-1.8zM235.0 188.4h1.8v1.8h-1.8zM240.4 189.4h1.8v1.8h-1.8zM242.8 194.6h1.8v1.8h-1.8zM245.2 199.8h1.8v1.8h-1.8zM241.0 180.0h1.8v1.8h-1.8zM243.4 185.2h1.8v1.8h-1.8zM245.8 190.4h1.8v1.8h-1.8zM248.2 195.6h1.8v1.8h-1.8zM250.6 200.8h1.8v1.8h-1.8zM251.2 191.4h1.8v1.8h-1.8zM256.0 201.8h1.8v1.8h-1.8zM249.4 176.8h1.8v1.8h-1.8zM251.8 182.0h1.8v1.8h-1.8zM259.0 197.6h1.8v1.8h-1.8zM261.4 202.8h1.8v1.8h-1.8zM254.8 177.8h1.8v1.8h-1.8zM259.6 188.2h1.8v1.8h-1.8zM260.2 178.8h1.8v1.8h-1.8zM262.6 184.0h1.8v1.8h-1.8zM267.4 194.4h1.8v1.8h-1.8zM269.8 199.6h1.8v1.8h-1.8zM265.6 179.8h1.8v1.8h-1.8zM268.0 185.0h1.8v1.8h-1.8zM270.4 190.2h1.8v1.8h-1.8zM272.8 195.4h1.8v1.8h-1.8zM275.2 200.6h1.8v1.8h-1.8zM273.4 186.0h1.8v1.8h-1.8zM278.2 196.4h1.8v1.8h-1.8zM280.6 201.6h1.8v1.8h-1.8zM286.0 202.6h1.8v1.8h-1.8zM292.0 194.2h1.8v1.8h-1.8zM302.8 196.2h1.8v1.8h-1.8zM305.2 201.4h1.8v1.8h-1.8zM310.6 202.4h1.8v1.8h-1.8zM313.6 198.2h1.8v1.8h-1.8z" fill="#3ab8ee" opacity="0.95"/>
</g>
<g filter="url(#glow2)" fill="#6ad8ff"><circle cx="229" cy="150" r="2.2"/><circle cx="259" cy="181" r="2"/><circle cx="168" cy="115" r="1.2"/><circle cx="442" cy="82" r="1.2"/><circle cx="505" cy="72" r="1"/></g>
<g stroke="#1c6088" stroke-width="0.8" fill="none" opacity="0.6"><path d="M196,96 L359,200"/><path d="M146,104 L178,121"/><path d="M225,100 L225,205"/><path d="M249,112 L249,205"/><path d="M294,118 L294,205"/><path d="M333,130 L333,205"/></g><g stroke="#1c5a80" stroke-width="0.8" fill="none" opacity="0.35"><path d="M45,207 L103,221"/><path d="M45,226 L103,242"/><path d="M52,270 L103,284"/><path d="M79,321 L103,326"/><path d="M70,365 L103,379"/><path d="M56,319 L56,376"/><path d="M82.6,288 L82.6,348"/><path d="M95,221 L95,341"/><path d="M26,305 L61.5,316" stroke="#2a80b0" stroke-width="1.4"/></g>
<g stroke="#103a58" stroke-width="0.8" opacity="0.6"><path d="M0,793 L103,790"/><path d="M0,808 L103,806"/><path d="M20,840 L103,830"/><path d="M0,870 L103,862"/></g>
<path d="M434.1 129.7h1.0v1.0h-1.0zM461.5 128.2h1.0v1.0h-1.0zM445.2 191.7h1.0v1.0h-1.0zM470.5 82.9h1.0v1.0h-1.0zM312.0 194.5h1.0v1.0h-1.0zM379.8 169.9h1.0v1.0h-1.0zM351.4 114.7h1.0v1.0h-1.0zM381.5 160.3h1.0v1.0h-1.0zM507.6 123.4h1.0v1.0h-1.0zM424.5 97.5h1.0v1.0h-1.0zM351.1 196.7h1.0v1.0h-1.0zM324.3 195.2h1.0v1.0h-1.0zM444.6 51.8h1.0v1.0h-1.0zM498.4 56.8h1.0v1.0h-1.0zM424.4 59.8h1.0v1.0h-1.0zM517.5 91.0h1.0v1.0h-1.0zM491.9 50.1h1.0v1.0h-1.0zM446.6 51.2h1.0v1.0h-1.0zM306.5 134.2h1.0v1.0h-1.0zM516.2 153.0h1.0v1.0h-1.0zM488.2 169.5h1.0v1.0h-1.0zM414.7 52.7h1.0v1.0h-1.0zM415.9 70.5h1.0v1.0h-1.0zM415.9 98.4h1.0v1.0h-1.0zM409.8 72.6h1.0v1.0h-1.0zM455.1 108.9h1.0v1.0h-1.0zM406.9 53.0h1.0v1.0h-1.0zM407.1 132.0h1.0v1.0h-1.0zM514.0 132.6h1.0v1.0h-1.0zM329.7 89.5h1.0v1.0h-1.0zM373.8 155.8h1.0v1.0h-1.0zM506.6 201.0h1.0v1.0h-1.0zM509.0 192.7h1.0v1.0h-1.0zM488.9 194.3h1.0v1.0h-1.0zM304.4 120.8h1.0v1.0h-1.0zM429.9 153.1h1.0v1.0h-1.0zM434.8 141.2h1.0v1.0h-1.0zM505.3 54.3h1.0v1.0h-1.0zM414.2 198.3h1.0v1.0h-1.0zM307.0 58.4h1.0v1.0h-1.0zM491.2 197.9h1.0v1.0h-1.0zM305.3 45.3h1.0v1.0h-1.0zM482.5 153.6h1.0v1.0h-1.0zM414.3 135.7h1.0v1.0h-1.0zM466.6 173.3h1.0v1.0h-1.0zM300.1 51.2h1.0v1.0h-1.0zM474.7 200.9h1.0v1.0h-1.0zM483.3 107.3h1.0v1.0h-1.0zM373.8 97.2h1.0v1.0h-1.0zM303.3 167.1h1.0v1.0h-1.0zM357.7 136.6h1.0v1.0h-1.0zM415.7 95.3h1.0v1.0h-1.0zM448.5 115.1h1.0v1.0h-1.0zM351.6 185.5h1.0v1.0h-1.0zM338.7 64.7h1.0v1.0h-1.0zM355.8 119.0h1.0v1.0h-1.0zM472.4 94.9h1.0v1.0h-1.0zM352.4 148.0h1.0v1.0h-1.0zM357.3 126.3h1.0v1.0h-1.0zM356.1 184.7h1.0v1.0h-1.0zM340.6 78.3h1.0v1.0h-1.0zM366.3 94.4h1.0v1.0h-1.0zM459.8 151.2h1.0v1.0h-1.0zM473.9 129.1h1.0v1.0h-1.0zM317.3 166.0h1.0v1.0h-1.0zM353.8 75.9h1.0v1.0h-1.0zM391.2 203.3h1.0v1.0h-1.0zM381.6 98.8h1.0v1.0h-1.0zM500.4 203.4h1.0v1.0h-1.0zM385.2 62.4h1.0v1.0h-1.0zM473.7 169.1h1.0v1.0h-1.0zM374.4 170.4h1.0v1.0h-1.0zM383.5 87.4h1.0v1.0h-1.0zM430.5 162.3h1.0v1.0h-1.0zM404.7 175.0h1.0v1.0h-1.0zM303.0 122.3h1.0v1.0h-1.0zM383.7 50.7h1.0v1.0h-1.0zM501.2 63.7h1.0v1.0h-1.0zM345.2 184.9h1.0v1.0h-1.0zM511.3 193.7h1.0v1.0h-1.0zM375.2 193.6h1.0v1.0h-1.0zM331.2 157.9h1.0v1.0h-1.0zM508.0 71.8h1.0v1.0h-1.0zM329.9 151.9h1.0v1.0h-1.0zM494.2 159.9h1.0v1.0h-1.0zM508.8 114.9h1.0v1.0h-1.0zM381.9 59.8h1.0v1.0h-1.0zM360.1 194.9h1.0v1.0h-1.0zM315.8 70.5h1.0v1.0h-1.0zM376.5 48.1h1.0v1.0h-1.0zM367.5 70.2h1.0v1.0h-1.0zM327.0 126.9h1.0v1.0h-1.0zM418.9 133.7h1.0v1.0h-1.0zM467.7 126.9h1.0v1.0h-1.0zM508.4 53.4h1.0v1.0h-1.0zM349.0 52.7h1.0v1.0h-1.0zM368.1 165.5h1.0v1.0h-1.0zM503.3 123.1h1.0v1.0h-1.0zM335.3 94.5h1.0v1.0h-1.0zM425.1 88.6h1.0v1.0h-1.0zM474.4 200.5h1.0v1.0h-1.0zM401.1 139.5h1.0v1.0h-1.0zM486.1 116.7h1.0v1.0h-1.0zM342.0 195.8h1.0v1.0h-1.0zM515.1 44.0h1.0v1.0h-1.0zM467.8 106.1h1.0v1.0h-1.0zM311.4 66.9h1.0v1.0h-1.0zM338.1 161.5h1.0v1.0h-1.0zM346.6 43.2h1.0v1.0h-1.0zM348.3 171.9h1.0v1.0h-1.0zM409.8 147.7h1.0v1.0h-1.0zM402.3 70.1h1.0v1.0h-1.0zM303.3 90.2h1.0v1.0h-1.0zM309.1 83.0h1.0v1.0h-1.0zM436.1 100.9h1.0v1.0h-1.0zM404.0 142.9h1.0v1.0h-1.0zM369.8 98.8h1.0v1.0h-1.0zM494.5 135.9h1.0v1.0h-1.0zM391.7 129.1h1.0v1.0h-1.0zM401.3 94.9h1.0v1.0h-1.0z" fill="#2a8ac0" opacity="0.5"/>
<path d="M739.7 203.2h1.1v1.1h-1.1zM623.0 159.2h1.1v1.1h-1.1zM521.4 187.1h1.1v1.1h-1.1zM654.0 180.2h1.1v1.1h-1.1zM733.5 199.8h1.1v1.1h-1.1zM742.5 170.5h1.1v1.1h-1.1zM470.9 176.8h1.1v1.1h-1.1zM612.6 181.0h1.1v1.1h-1.1zM517.7 176.9h1.1v1.1h-1.1zM725.3 184.6h1.1v1.1h-1.1zM704.6 154.6h1.1v1.1h-1.1zM605.0 198.8h1.1v1.1h-1.1zM737.1 173.0h1.1v1.1h-1.1zM729.6 176.0h1.1v1.1h-1.1zM624.0 195.4h1.1v1.1h-1.1zM736.6 168.5h1.1v1.1h-1.1zM574.1 161.6h1.1v1.1h-1.1zM599.4 199.7h1.1v1.1h-1.1zM482.1 177.6h1.1v1.1h-1.1zM651.9 192.8h1.1v1.1h-1.1zM504.2 186.0h1.1v1.1h-1.1zM528.0 203.0h1.1v1.1h-1.1zM568.5 187.5h1.1v1.1h-1.1zM673.8 169.1h1.1v1.1h-1.1zM482.1 158.7h1.1v1.1h-1.1zM637.5 164.7h1.1v1.1h-1.1zM569.3 185.0h1.1v1.1h-1.1zM645.2 200.1h1.1v1.1h-1.1zM646.6 165.1h1.1v1.1h-1.1zM747.0 176.3h1.1v1.1h-1.1zM488.8 196.6h1.1v1.1h-1.1zM753.8 175.5h1.1v1.1h-1.1zM575.6 181.4h1.1v1.1h-1.1zM597.9 167.7h1.1v1.1h-1.1zM507.1 152.8h1.1v1.1h-1.1zM658.3 178.5h1.1v1.1h-1.1zM689.6 172.0h1.1v1.1h-1.1zM594.8 175.6h1.1v1.1h-1.1zM699.5 187.0h1.1v1.1h-1.1zM756.8 203.9h1.1v1.1h-1.1zM749.7 160.2h1.1v1.1h-1.1zM549.7 179.8h1.1v1.1h-1.1zM614.5 188.9h1.1v1.1h-1.1zM699.2 155.8h1.1v1.1h-1.1zM721.7 201.6h1.1v1.1h-1.1zM507.7 164.5h1.1v1.1h-1.1zM537.8 173.0h1.1v1.1h-1.1zM683.6 185.1h1.1v1.1h-1.1zM494.6 188.4h1.1v1.1h-1.1zM538.1 153.0h1.1v1.1h-1.1zM721.0 150.9h1.1v1.1h-1.1zM508.6 171.1h1.1v1.1h-1.1zM718.3 155.7h1.1v1.1h-1.1zM727.9 181.7h1.1v1.1h-1.1zM637.3 203.1h1.1v1.1h-1.1zM533.6 166.4h1.1v1.1h-1.1zM587.1 196.7h1.1v1.1h-1.1zM739.7 172.2h1.1v1.1h-1.1zM681.4 197.9h1.1v1.1h-1.1zM606.4 192.7h1.1v1.1h-1.1zM663.9 173.6h1.1v1.1h-1.1zM710.1 167.0h1.1v1.1h-1.1zM631.0 191.7h1.1v1.1h-1.1zM711.2 175.6h1.1v1.1h-1.1zM669.3 198.5h1.1v1.1h-1.1zM682.8 186.2h1.1v1.1h-1.1zM700.6 185.3h1.1v1.1h-1.1zM589.8 191.6h1.1v1.1h-1.1zM755.7 202.9h1.1v1.1h-1.1zM651.1 188.4h1.1v1.1h-1.1zM478.9 172.5h1.1v1.1h-1.1zM681.1 203.7h1.1v1.1h-1.1zM574.2 199.3h1.1v1.1h-1.1zM501.7 181.5h1.1v1.1h-1.1zM677.4 181.9h1.1v1.1h-1.1zM603.3 188.1h1.1v1.1h-1.1zM615.5 180.6h1.1v1.1h-1.1zM750.0 176.7h1.1v1.1h-1.1zM558.5 183.8h1.1v1.1h-1.1zM623.2 193.5h1.1v1.1h-1.1zM692.6 157.8h1.1v1.1h-1.1zM750.8 203.5h1.1v1.1h-1.1zM656.9 191.0h1.1v1.1h-1.1zM509.9 166.2h1.1v1.1h-1.1zM615.0 169.4h1.1v1.1h-1.1zM754.8 151.3h1.1v1.1h-1.1zM668.5 185.5h1.1v1.1h-1.1zM548.8 166.8h1.1v1.1h-1.1zM602.4 159.6h1.1v1.1h-1.1zM532.4 154.6h1.1v1.1h-1.1zM610.1 176.4h1.1v1.1h-1.1zM582.0 188.0h1.1v1.1h-1.1zM721.2 166.9h1.1v1.1h-1.1zM704.2 193.9h1.1v1.1h-1.1zM588.0 183.5h1.1v1.1h-1.1zM549.6 202.1h1.1v1.1h-1.1zM650.9 173.8h1.1v1.1h-1.1zM698.5 194.7h1.1v1.1h-1.1zM560.8 169.2h1.1v1.1h-1.1zM590.0 169.7h1.1v1.1h-1.1zM591.2 188.8h1.1v1.1h-1.1zM495.0 187.6h1.1v1.1h-1.1zM503.2 195.4h1.1v1.1h-1.1zM757.9 181.5h1.1v1.1h-1.1zM520.5 152.4h1.1v1.1h-1.1zM657.1 203.2h1.1v1.1h-1.1zM503.2 155.5h1.1v1.1h-1.1zM481.1 187.6h1.1v1.1h-1.1zM563.5 164.7h1.1v1.1h-1.1zM640.9 175.2h1.1v1.1h-1.1zM623.2 180.3h1.1v1.1h-1.1zM658.6 169.4h1.1v1.1h-1.1zM601.9 165.8h1.1v1.1h-1.1zM608.3 150.9h1.1v1.1h-1.1zM634.5 182.0h1.1v1.1h-1.1zM612.4 156.1h1.1v1.1h-1.1zM741.2 166.8h1.1v1.1h-1.1zM689.0 171.1h1.1v1.1h-1.1zM737.2 175.3h1.1v1.1h-1.1zM750.3 178.8h1.1v1.1h-1.1zM588.7 151.2h1.1v1.1h-1.1zM629.6 151.7h1.1v1.1h-1.1zM621.3 160.3h1.1v1.1h-1.1zM680.6 179.9h1.1v1.1h-1.1zM509.4 163.3h1.1v1.1h-1.1zM742.9 166.7h1.1v1.1h-1.1zM548.6 171.0h1.1v1.1h-1.1zM700.8 191.2h1.1v1.1h-1.1zM561.8 175.1h1.1v1.1h-1.1zM584.9 174.1h1.1v1.1h-1.1zM758.1 168.2h1.1v1.1h-1.1zM479.5 161.9h1.1v1.1h-1.1zM508.6 191.1h1.1v1.1h-1.1zM647.0 201.7h1.1v1.1h-1.1zM488.1 193.1h1.1v1.1h-1.1zM544.5 160.9h1.1v1.1h-1.1zM485.9 158.8h1.1v1.1h-1.1zM721.0 201.7h1.1v1.1h-1.1zM640.3 164.0h1.1v1.1h-1.1zM732.4 202.3h1.1v1.1h-1.1zM597.2 165.1h1.1v1.1h-1.1zM504.9 160.1h1.1v1.1h-1.1zM595.7 165.7h1.1v1.1h-1.1z" fill="#2a90c8" opacity="0.55"/>
<path d="M954.3 162.6h1.1v1.1h-1.1zM966.0 196.1h1.1v1.1h-1.1zM937.5 158.8h1.1v1.1h-1.1zM853.4 162.7h1.1v1.1h-1.1zM779.3 158.5h1.1v1.1h-1.1zM972.2 165.3h1.1v1.1h-1.1zM804.9 175.0h1.1v1.1h-1.1zM984.2 165.1h1.1v1.1h-1.1zM894.0 162.7h1.1v1.1h-1.1zM909.4 193.1h1.1v1.1h-1.1zM764.2 201.1h1.1v1.1h-1.1zM912.1 193.4h1.1v1.1h-1.1zM988.7 199.5h1.1v1.1h-1.1zM833.1 193.1h1.1v1.1h-1.1zM847.2 193.7h1.1v1.1h-1.1zM894.7 159.5h1.1v1.1h-1.1zM901.8 166.4h1.1v1.1h-1.1zM793.6 199.2h1.1v1.1h-1.1zM964.2 184.8h1.1v1.1h-1.1zM931.8 166.8h1.1v1.1h-1.1zM871.8 203.2h1.1v1.1h-1.1zM800.1 156.8h1.1v1.1h-1.1zM855.2 153.2h1.1v1.1h-1.1zM929.9 191.5h1.1v1.1h-1.1zM886.2 197.2h1.1v1.1h-1.1zM771.6 200.9h1.1v1.1h-1.1zM808.7 176.6h1.1v1.1h-1.1zM891.7 162.4h1.1v1.1h-1.1zM816.4 191.9h1.1v1.1h-1.1zM838.1 177.9h1.1v1.1h-1.1zM833.7 200.9h1.1v1.1h-1.1zM953.1 165.7h1.1v1.1h-1.1zM974.6 183.4h1.1v1.1h-1.1zM980.2 191.8h1.1v1.1h-1.1zM864.6 163.5h1.1v1.1h-1.1zM972.9 184.5h1.1v1.1h-1.1zM978.3 156.6h1.1v1.1h-1.1zM874.1 180.0h1.1v1.1h-1.1zM809.8 200.7h1.1v1.1h-1.1zM948.4 163.6h1.1v1.1h-1.1zM876.0 153.1h1.1v1.1h-1.1zM855.2 167.2h1.1v1.1h-1.1zM876.5 185.0h1.1v1.1h-1.1zM844.2 174.7h1.1v1.1h-1.1zM940.9 153.0h1.1v1.1h-1.1zM838.1 173.6h1.1v1.1h-1.1zM773.8 190.2h1.1v1.1h-1.1zM831.1 183.2h1.1v1.1h-1.1zM975.5 196.0h1.1v1.1h-1.1zM845.3 174.2h1.1v1.1h-1.1zM800.6 172.2h1.1v1.1h-1.1zM936.2 174.6h1.1v1.1h-1.1zM987.5 192.4h1.1v1.1h-1.1zM862.7 166.0h1.1v1.1h-1.1zM853.7 201.3h1.1v1.1h-1.1zM817.6 186.1h1.1v1.1h-1.1zM876.2 164.0h1.1v1.1h-1.1zM795.2 161.9h1.1v1.1h-1.1zM905.3 195.2h1.1v1.1h-1.1zM847.4 191.1h1.1v1.1h-1.1zM865.7 181.3h1.1v1.1h-1.1zM767.5 179.4h1.1v1.1h-1.1zM993.1 157.4h1.1v1.1h-1.1zM883.7 167.5h1.1v1.1h-1.1zM855.1 201.3h1.1v1.1h-1.1zM943.5 185.8h1.1v1.1h-1.1zM791.1 174.9h1.1v1.1h-1.1zM771.8 201.5h1.1v1.1h-1.1zM836.7 187.3h1.1v1.1h-1.1zM909.1 170.5h1.1v1.1h-1.1zM932.5 200.4h1.1v1.1h-1.1zM890.9 189.9h1.1v1.1h-1.1zM838.6 151.5h1.1v1.1h-1.1zM904.0 196.4h1.1v1.1h-1.1zM840.6 168.2h1.1v1.1h-1.1zM935.6 161.8h1.1v1.1h-1.1zM772.1 182.9h1.1v1.1h-1.1zM993.1 162.1h1.1v1.1h-1.1zM955.1 186.6h1.1v1.1h-1.1zM844.4 161.7h1.1v1.1h-1.1zM937.8 197.1h1.1v1.1h-1.1zM788.1 196.6h1.1v1.1h-1.1zM823.5 187.6h1.1v1.1h-1.1zM918.4 175.3h1.1v1.1h-1.1zM940.2 190.7h1.1v1.1h-1.1zM800.0 185.6h1.1v1.1h-1.1zM837.0 177.0h1.1v1.1h-1.1zM887.9 198.2h1.1v1.1h-1.1zM892.1 183.5h1.1v1.1h-1.1zM930.4 195.2h1.1v1.1h-1.1zM832.3 187.4h1.1v1.1h-1.1zM864.6 174.5h1.1v1.1h-1.1zM936.6 203.5h1.1v1.1h-1.1zM956.0 195.1h1.1v1.1h-1.1zM984.6 179.3h1.1v1.1h-1.1zM926.8 177.9h1.1v1.1h-1.1zM994.9 154.1h1.1v1.1h-1.1zM996.4 150.7h1.1v1.1h-1.1zM808.9 156.0h1.1v1.1h-1.1zM768.1 200.7h1.1v1.1h-1.1zM783.7 181.4h1.1v1.1h-1.1zM947.2 186.4h1.1v1.1h-1.1zM776.2 184.1h1.1v1.1h-1.1zM818.0 161.6h1.1v1.1h-1.1zM766.1 155.5h1.1v1.1h-1.1zM807.5 164.2h1.1v1.1h-1.1zM901.6 189.1h1.1v1.1h-1.1zM871.9 153.1h1.1v1.1h-1.1zM908.8 160.0h1.1v1.1h-1.1zM806.6 183.2h1.1v1.1h-1.1zM965.7 152.4h1.1v1.1h-1.1zM768.5 170.7h1.1v1.1h-1.1zM906.5 163.6h1.1v1.1h-1.1zM848.9 160.0h1.1v1.1h-1.1zM956.3 186.4h1.1v1.1h-1.1zM917.6 187.8h1.1v1.1h-1.1zM989.3 186.2h1.1v1.1h-1.1z" fill="#c040b0" opacity="0.55"/>
<path d="M964.4 26.8h1.0v1.0h-1.0zM1101.9 34.5h1.0v1.0h-1.0zM90.4 34.4h1.0v1.0h-1.0zM589.9 37.2h1.0v1.0h-1.0zM74.9 2.0h1.0v1.0h-1.0zM1509.7 26.0h1.0v1.0h-1.0zM506.9 10.4h1.0v1.0h-1.0zM910.1 64.0h1.0v1.0h-1.0zM277.0 35.0h1.0v1.0h-1.0zM767.5 53.6h1.0v1.0h-1.0zM868.0 16.7h1.0v1.0h-1.0zM291.3 50.7h1.0v1.0h-1.0zM120.0 60.5h1.0v1.0h-1.0zM51.4 13.3h1.0v1.0h-1.0zM718.5 59.1h1.0v1.0h-1.0zM951.7 52.2h1.0v1.0h-1.0zM1168.9 50.6h1.0v1.0h-1.0zM79.3 57.8h1.0v1.0h-1.0zM226.9 11.4h1.0v1.0h-1.0zM57.7 2.0h1.0v1.0h-1.0zM1347.0 26.7h1.0v1.0h-1.0zM132.9 3.3h1.0v1.0h-1.0zM1300.0 42.1h1.0v1.0h-1.0zM1407.5 2.6h1.0v1.0h-1.0zM172.9 20.1h1.0v1.0h-1.0zM293.4 7.9h1.0v1.0h-1.0zM308.0 44.8h1.0v1.0h-1.0zM258.2 11.8h1.0v1.0h-1.0zM822.6 26.3h1.0v1.0h-1.0zM229.8 39.8h1.0v1.0h-1.0zM780.2 27.2h1.0v1.0h-1.0zM728.5 2.8h1.0v1.0h-1.0zM944.7 13.5h1.0v1.0h-1.0zM515.7 0.7h1.0v1.0h-1.0zM1363.5 41.1h1.0v1.0h-1.0zM602.4 37.9h1.0v1.0h-1.0zM1443.6 9.2h1.0v1.0h-1.0zM588.9 49.6h1.0v1.0h-1.0zM571.6 49.5h1.0v1.0h-1.0zM1395.0 2.9h1.0v1.0h-1.0zM437.0 20.5h1.0v1.0h-1.0zM1152.3 54.9h1.0v1.0h-1.0zM1074.4 64.7h1.0v1.0h-1.0zM285.2 27.5h1.0v1.0h-1.0zM1310.1 53.6h1.0v1.0h-1.0zM173.1 68.6h1.0v1.0h-1.0zM1137.4 60.6h1.0v1.0h-1.0zM556.2 42.4h1.0v1.0h-1.0zM1472.6 62.9h1.0v1.0h-1.0zM886.4 62.3h1.0v1.0h-1.0zM1534.4 58.7h1.0v1.0h-1.0zM1007.4 67.2h1.0v1.0h-1.0zM220.8 28.3h1.0v1.0h-1.0zM866.4 9.2h1.0v1.0h-1.0zM1199.2 4.4h1.0v1.0h-1.0zM965.8 19.6h1.0v1.0h-1.0zM495.9 42.5h1.0v1.0h-1.0zM294.0 31.3h1.0v1.0h-1.0zM1316.7 69.1h1.0v1.0h-1.0zM403.3 25.6h1.0v1.0h-1.0zM1065.6 13.3h1.0v1.0h-1.0zM1304.2 13.9h1.0v1.0h-1.0zM855.1 23.8h1.0v1.0h-1.0zM1.7 0.1h1.0v1.0h-1.0zM3.0 23.0h1.0v1.0h-1.0zM422.7 69.4h1.0v1.0h-1.0zM979.4 4.6h1.0v1.0h-1.0zM1099.8 16.3h1.0v1.0h-1.0zM739.6 50.6h1.0v1.0h-1.0zM1315.9 65.5h1.0v1.0h-1.0zM646.6 22.2h1.0v1.0h-1.0zM610.5 21.9h1.0v1.0h-1.0zM1139.2 32.4h1.0v1.0h-1.0zM1052.9 10.6h1.0v1.0h-1.0zM1202.4 67.7h1.0v1.0h-1.0zM311.8 43.2h1.0v1.0h-1.0zM249.0 2.5h1.0v1.0h-1.0zM635.9 12.8h1.0v1.0h-1.0zM1122.4 40.1h1.0v1.0h-1.0zM1036.1 67.8h1.0v1.0h-1.0zM89.5 6.9h1.0v1.0h-1.0zM54.9 32.2h1.0v1.0h-1.0zM1266.4 47.9h1.0v1.0h-1.0zM841.4 59.9h1.0v1.0h-1.0zM571.6 7.9h1.0v1.0h-1.0zM985.5 1.8h1.0v1.0h-1.0zM352.3 2.1h1.0v1.0h-1.0zM248.2 4.5h1.0v1.0h-1.0zM816.5 9.0h1.0v1.0h-1.0zM926.9 57.7h1.0v1.0h-1.0zM529.0 8.4h1.0v1.0h-1.0zM1031.0 51.0h1.0v1.0h-1.0zM1357.8 38.8h1.0v1.0h-1.0zM894.0 60.4h1.0v1.0h-1.0zM1040.2 68.2h1.0v1.0h-1.0zM440.8 54.2h1.0v1.0h-1.0zM972.0 32.8h1.0v1.0h-1.0zM16.5 33.4h1.0v1.0h-1.0zM404.6 42.1h1.0v1.0h-1.0zM782.5 35.7h1.0v1.0h-1.0zM90.3 9.2h1.0v1.0h-1.0zM932.3 47.7h1.0v1.0h-1.0zM1521.5 55.5h1.0v1.0h-1.0zM445.6 31.9h1.0v1.0h-1.0zM776.8 56.3h1.0v1.0h-1.0zM606.0 64.4h1.0v1.0h-1.0zM743.4 27.9h1.0v1.0h-1.0zM736.9 25.0h1.0v1.0h-1.0zM1535.4 3.2h1.0v1.0h-1.0zM613.8 5.6h1.0v1.0h-1.0zM1041.3 10.5h1.0v1.0h-1.0zM229.1 29.6h1.0v1.0h-1.0zM924.8 53.5h1.0v1.0h-1.0zM682.8 20.7h1.0v1.0h-1.0zM565.0 62.2h1.0v1.0h-1.0zM327.5 0.8h1.0v1.0h-1.0zM1360.6 33.8h1.0v1.0h-1.0zM203.2 9.5h1.0v1.0h-1.0zM1367.7 52.4h1.0v1.0h-1.0zM98.9 47.3h1.0v1.0h-1.0z" fill="#5a6a8a" opacity="0.35"/>
<g stroke-width="1" fill="none" opacity="0.5"><path d="M560,185 L640,165" stroke="#2a70a0"/><path d="M615,160 L625,180" stroke="#3a90c0"/><path d="M540,205 L600,150" stroke="#183a60"/><path d="M680,205 L730,170" stroke="#183a60"/><path d="M850,205 L820,160" stroke="#40184a"/></g>
<rect x="770.5" y="40" width="1" height="165" fill="#2040b0" opacity="0.45"/>
<radialGradient id="hz4"><stop offset="0" stop-color="#3a0a24" stop-opacity="0.8"/><stop offset="0.3" stop-color="#3a0a24" stop-opacity="0.640"/><stop offset="0.6" stop-color="#3a0a24" stop-opacity="0.320"/><stop offset="0.8" stop-color="#3a0a24" stop-opacity="0.104"/><stop offset="1" stop-color="#3a0a24" stop-opacity="0"/></radialGradient><ellipse cx="1250" cy="130" rx="420" ry="68" fill="url(#hz4)" transform="rotate(-26 1250 130)"/>
<radialGradient id="hz5"><stop offset="0" stop-color="#5a1038" stop-opacity="0.7"/><stop offset="0.3" stop-color="#5a1038" stop-opacity="0.560"/><stop offset="0.6" stop-color="#5a1038" stop-opacity="0.280"/><stop offset="0.8" stop-color="#5a1038" stop-opacity="0.091"/><stop offset="1" stop-color="#5a1038" stop-opacity="0"/></radialGradient><ellipse cx="1150" cy="185" rx="180" ry="42" fill="url(#hz5)" transform="rotate(-35 1150 185)"/>
<radialGradient id="hz6"><stop offset="0" stop-color="#5a1038" stop-opacity="0.7"/><stop offset="0.3" stop-color="#5a1038" stop-opacity="0.560"/><stop offset="0.6" stop-color="#5a1038" stop-opacity="0.280"/><stop offset="0.8" stop-color="#5a1038" stop-opacity="0.091"/><stop offset="1" stop-color="#5a1038" stop-opacity="0"/></radialGradient><ellipse cx="1300" cy="165" rx="165" ry="45" fill="url(#hz6)" transform="rotate(-30 1300 165)"/>
<radialGradient id="hz7"><stop offset="0" stop-color="#2a0828" stop-opacity="0.6"/><stop offset="0.3" stop-color="#2a0828" stop-opacity="0.480"/><stop offset="0.6" stop-color="#2a0828" stop-opacity="0.240"/><stop offset="0.8" stop-color="#2a0828" stop-opacity="0.078"/><stop offset="1" stop-color="#2a0828" stop-opacity="0"/></radialGradient><ellipse cx="930" cy="190" rx="165" ry="45" fill="url(#hz7)"/>
<radialGradient id="hz8"><stop offset="0" stop-color="#4a0e3a" stop-opacity="0.85"/><stop offset="0.3" stop-color="#4a0e3a" stop-opacity="0.680"/><stop offset="0.6" stop-color="#4a0e3a" stop-opacity="0.340"/><stop offset="0.8" stop-color="#4a0e3a" stop-opacity="0.111"/><stop offset="1" stop-color="#4a0e3a" stop-opacity="0"/></radialGradient><ellipse cx="1485" cy="590" rx="100" ry="170" fill="url(#hz8)"/>
<radialGradient id="hz9"><stop offset="0" stop-color="#32081e" stop-opacity="0.85"/><stop offset="0.3" stop-color="#32081e" stop-opacity="0.680"/><stop offset="0.6" stop-color="#32081e" stop-opacity="0.340"/><stop offset="0.8" stop-color="#32081e" stop-opacity="0.111"/><stop offset="1" stop-color="#32081e" stop-opacity="0"/></radialGradient><ellipse cx="1480" cy="320" rx="100" ry="150" fill="url(#hz9)"/>
<radialGradient id="hz10"><stop offset="0" stop-color="#2a0409" stop-opacity="0.7"/><stop offset="0.3" stop-color="#2a0409" stop-opacity="0.560"/><stop offset="0.6" stop-color="#2a0409" stop-opacity="0.280"/><stop offset="0.8" stop-color="#2a0409" stop-opacity="0.091"/><stop offset="1" stop-color="#2a0409" stop-opacity="0"/></radialGradient><ellipse cx="1480" cy="840" rx="90" ry="120" fill="url(#hz10)"/>
<g filter="url(#cloud2)" opacity="0.85"><ellipse cx="1110" cy="170" rx="60" ry="16" fill="#c02a70" transform="rotate(-45 1110 170)"/><ellipse cx="1290" cy="150" rx="110" ry="26" fill="#b02468" transform="rotate(-33 1290 150)"/></g>
<g filter="url(#cloud)" opacity="0.45"><ellipse cx="1490" cy="590" rx="60" ry="120" fill="#7a1a50"/></g>
<path d="M1108.6 121.5h1.2v1.2h-1.2zM1242.3 167.9h1.2v1.2h-1.2zM999.4 178.1h1.2v1.2h-1.2zM1525.7 16.5h1.2v1.2h-1.2zM1511.3 52.7h1.2v1.2h-1.2zM1389.7 107.2h1.2v1.2h-1.2zM1494.3 14.7h1.2v1.2h-1.2zM1060.8 181.3h1.2v1.2h-1.2zM1208.5 101.3h1.2v1.2h-1.2zM1104.5 196.8h1.2v1.2h-1.2zM1107.1 165.2h1.2v1.2h-1.2zM1173.9 152.8h1.2v1.2h-1.2zM1438.4 26.5h1.2v1.2h-1.2zM1329.7 74.7h1.2v1.2h-1.2zM1455.4 71.3h1.2v1.2h-1.2zM1378.5 88.8h1.2v1.2h-1.2zM1433.6 40.9h1.2v1.2h-1.2zM1446.1 79.7h1.2v1.2h-1.2zM1451.8 51.0h1.2v1.2h-1.2zM1261.5 135.5h1.2v1.2h-1.2zM1339.1 54.1h1.2v1.2h-1.2zM1246.9 76.0h1.2v1.2h-1.2zM1189.2 153.4h1.2v1.2h-1.2zM1524.4 0.6h1.2v1.2h-1.2zM1470.9 2.3h1.2v1.2h-1.2zM1395.9 52.9h1.2v1.2h-1.2zM1146.7 155.9h1.2v1.2h-1.2zM1091.5 183.0h1.2v1.2h-1.2zM1223.6 149.4h1.2v1.2h-1.2zM1491.8 38.0h1.2v1.2h-1.2zM1321.7 86.6h1.2v1.2h-1.2zM1410.2 31.4h1.2v1.2h-1.2zM1016.1 169.8h1.2v1.2h-1.2zM1175.2 104.3h1.2v1.2h-1.2zM1018.1 202.7h1.2v1.2h-1.2zM1325.3 89.9h1.2v1.2h-1.2zM1157.3 153.7h1.2v1.2h-1.2zM1393.4 96.5h1.2v1.2h-1.2zM1011.3 188.9h1.2v1.2h-1.2zM1529.7 28.2h1.2v1.2h-1.2zM1375.7 89.0h1.2v1.2h-1.2zM1509.9 60.9h1.2v1.2h-1.2zM1182.3 174.4h1.2v1.2h-1.2zM1469.6 48.6h1.2v1.2h-1.2zM1431.5 58.4h1.2v1.2h-1.2zM1135.0 100.7h1.2v1.2h-1.2zM1372.0 133.5h1.2v1.2h-1.2zM1244.0 202.2h1.2v1.2h-1.2zM1358.6 29.2h1.2v1.2h-1.2zM1447.1 3.1h1.2v1.2h-1.2zM1373.3 40.9h1.2v1.2h-1.2zM1217.9 129.0h1.2v1.2h-1.2zM1398.3 18.5h1.2v1.2h-1.2zM1210.8 163.8h1.2v1.2h-1.2zM1385.5 84.7h1.2v1.2h-1.2zM1150.0 105.4h1.2v1.2h-1.2zM1293.9 128.7h1.2v1.2h-1.2zM1479.2 13.2h1.2v1.2h-1.2zM1134.7 198.7h1.2v1.2h-1.2zM1375.1 60.3h1.2v1.2h-1.2zM1041.6 184.1h1.2v1.2h-1.2zM1032.3 185.4h1.2v1.2h-1.2zM1160.3 138.4h1.2v1.2h-1.2zM1432.1 19.7h1.2v1.2h-1.2zM1323.9 103.6h1.2v1.2h-1.2zM1317.8 4.0h1.2v1.2h-1.2zM1120.9 172.2h1.2v1.2h-1.2zM1151.1 171.6h1.2v1.2h-1.2zM984.2 154.8h1.2v1.2h-1.2zM1505.3 46.2h1.2v1.2h-1.2zM1191.9 147.7h1.2v1.2h-1.2zM1033.0 188.3h1.2v1.2h-1.2zM1019.1 143.5h1.2v1.2h-1.2zM1022.2 188.8h1.2v1.2h-1.2zM1055.0 169.3h1.2v1.2h-1.2zM1042.2 183.5h1.2v1.2h-1.2zM1064.8 184.2h1.2v1.2h-1.2zM1448.3 56.1h1.2v1.2h-1.2zM1253.9 142.6h1.2v1.2h-1.2zM1063.0 176.1h1.2v1.2h-1.2zM1225.4 152.7h1.2v1.2h-1.2zM1348.8 96.4h1.2v1.2h-1.2zM1465.0 69.5h1.2v1.2h-1.2zM1101.5 176.7h1.2v1.2h-1.2zM1444.1 44.3h1.2v1.2h-1.2zM1426.7 32.8h1.2v1.2h-1.2zM1332.1 80.5h1.2v1.2h-1.2zM1054.4 191.4h1.2v1.2h-1.2zM1176.8 108.4h1.2v1.2h-1.2zM1340.3 110.5h1.2v1.2h-1.2zM1368.8 12.4h1.2v1.2h-1.2zM1144.6 110.5h1.2v1.2h-1.2zM1079.3 185.7h1.2v1.2h-1.2zM1147.9 164.7h1.2v1.2h-1.2zM1344.0 18.2h1.2v1.2h-1.2zM1434.9 28.6h1.2v1.2h-1.2zM1343.2 60.9h1.2v1.2h-1.2zM1286.9 65.9h1.2v1.2h-1.2zM1269.3 131.8h1.2v1.2h-1.2zM1075.0 48.8h1.2v1.2h-1.2zM1231.6 87.0h1.2v1.2h-1.2zM1193.6 63.0h1.2v1.2h-1.2zM1131.4 82.1h1.2v1.2h-1.2zM1356.4 34.3h1.2v1.2h-1.2zM1190.1 141.6h1.2v1.2h-1.2zM1396.4 55.5h1.2v1.2h-1.2zM1457.1 24.1h1.2v1.2h-1.2zM1265.6 108.8h1.2v1.2h-1.2zM1314.7 131.7h1.2v1.2h-1.2zM1136.3 143.5h1.2v1.2h-1.2zM1088.2 118.4h1.2v1.2h-1.2zM1209.3 158.0h1.2v1.2h-1.2zM1162.3 110.7h1.2v1.2h-1.2zM1057.7 185.8h1.2v1.2h-1.2zM1214.2 132.0h1.2v1.2h-1.2zM1053.7 199.9h1.2v1.2h-1.2zM1504.2 41.3h1.2v1.2h-1.2zM1329.1 52.7h1.2v1.2h-1.2zM1086.9 126.0h1.2v1.2h-1.2zM1343.3 17.0h1.2v1.2h-1.2zM1377.8 28.4h1.2v1.2h-1.2zM1335.3 50.4h1.2v1.2h-1.2zM1378.4 81.7h1.2v1.2h-1.2zM1245.0 60.9h1.2v1.2h-1.2zM1282.5 94.6h1.2v1.2h-1.2zM1143.0 143.5h1.2v1.2h-1.2zM1323.5 137.0h1.2v1.2h-1.2zM1311.0 89.1h1.2v1.2h-1.2zM1181.4 119.4h1.2v1.2h-1.2zM1390.8 86.8h1.2v1.2h-1.2zM1209.8 105.0h1.2v1.2h-1.2zM1216.8 166.3h1.2v1.2h-1.2zM1157.4 185.2h1.2v1.2h-1.2zM1269.5 48.9h1.2v1.2h-1.2zM1373.0 71.4h1.2v1.2h-1.2zM1163.8 164.5h1.2v1.2h-1.2zM992.6 152.1h1.2v1.2h-1.2zM1030.6 199.8h1.2v1.2h-1.2zM1201.7 138.9h1.2v1.2h-1.2zM1234.4 112.0h1.2v1.2h-1.2zM1034.0 201.2h1.2v1.2h-1.2zM1432.2 1.8h1.2v1.2h-1.2zM1288.6 85.8h1.2v1.2h-1.2zM1342.3 27.2h1.2v1.2h-1.2zM1371.0 77.6h1.2v1.2h-1.2zM1379.7 59.9h1.2v1.2h-1.2zM1207.2 128.9h1.2v1.2h-1.2zM1279.7 79.2h1.2v1.2h-1.2zM1085.0 136.3h1.2v1.2h-1.2zM1140.4 169.4h1.2v1.2h-1.2zM1233.8 110.3h1.2v1.2h-1.2zM1337.7 63.2h1.2v1.2h-1.2zM1406.9 55.1h1.2v1.2h-1.2zM1402.8 72.0h1.2v1.2h-1.2zM1102.7 140.3h1.2v1.2h-1.2zM1056.4 179.0h1.2v1.2h-1.2zM1270.0 146.6h1.2v1.2h-1.2zM1433.4 69.0h1.2v1.2h-1.2zM1402.2 77.6h1.2v1.2h-1.2zM1290.0 88.1h1.2v1.2h-1.2zM1202.0 131.8h1.2v1.2h-1.2zM1180.5 136.4h1.2v1.2h-1.2zM1029.1 148.5h1.2v1.2h-1.2zM1424.2 0.0h1.2v1.2h-1.2zM1099.9 127.6h1.2v1.2h-1.2zM1194.9 178.9h1.2v1.2h-1.2zM1324.9 85.3h1.2v1.2h-1.2zM1178.9 189.8h1.2v1.2h-1.2zM1247.0 161.2h1.2v1.2h-1.2zM1059.4 141.7h1.2v1.2h-1.2zM1332.8 59.4h1.2v1.2h-1.2zM1110.3 158.0h1.2v1.2h-1.2zM1292.9 77.6h1.2v1.2h-1.2zM1465.3 40.6h1.2v1.2h-1.2zM1308.1 93.3h1.2v1.2h-1.2zM1342.2 112.3h1.2v1.2h-1.2zM1162.3 177.0h1.2v1.2h-1.2zM1167.6 140.1h1.2v1.2h-1.2zM1414.3 30.0h1.2v1.2h-1.2zM1038.5 191.2h1.2v1.2h-1.2zM1165.0 169.2h1.2v1.2h-1.2zM1393.7 49.4h1.2v1.2h-1.2zM1348.3 26.2h1.2v1.2h-1.2zM1019.6 157.9h1.2v1.2h-1.2zM1272.5 182.5h1.2v1.2h-1.2zM1306.3 153.2h1.2v1.2h-1.2zM1404.6 106.8h1.2v1.2h-1.2zM1316.0 76.0h1.2v1.2h-1.2zM1402.6 63.1h1.2v1.2h-1.2zM1225.7 111.8h1.2v1.2h-1.2zM1101.1 158.5h1.2v1.2h-1.2zM1355.3 98.1h1.2v1.2h-1.2zM1091.8 171.1h1.2v1.2h-1.2zM1100.6 111.3h1.2v1.2h-1.2zM1136.8 108.7h1.2v1.2h-1.2zM1251.7 113.8h1.2v1.2h-1.2zM1093.6 166.5h1.2v1.2h-1.2zM1499.7 26.1h1.2v1.2h-1.2zM1229.0 157.7h1.2v1.2h-1.2zM1495.3 20.8h1.2v1.2h-1.2zM1479.0 51.1h1.2v1.2h-1.2zM1140.5 159.2h1.2v1.2h-1.2zM1275.9 163.0h1.2v1.2h-1.2zM1482.7 34.1h1.2v1.2h-1.2zM1531.4 7.9h1.2v1.2h-1.2zM1124.3 165.6h1.2v1.2h-1.2zM1225.3 102.6h1.2v1.2h-1.2zM1424.1 26.5h1.2v1.2h-1.2zM1097.2 149.8h1.2v1.2h-1.2zM1039.1 164.1h1.2v1.2h-1.2zM1350.4 49.3h1.2v1.2h-1.2zM1216.3 136.2h1.2v1.2h-1.2zM1448.8 17.3h1.2v1.2h-1.2zM1407.8 15.1h1.2v1.2h-1.2zM1183.5 171.7h1.2v1.2h-1.2zM1100.3 136.7h1.2v1.2h-1.2zM1019.1 144.2h1.2v1.2h-1.2zM1214.3 124.9h1.2v1.2h-1.2zM1421.6 57.3h1.2v1.2h-1.2zM1282.6 117.7h1.2v1.2h-1.2zM1181.5 113.1h1.2v1.2h-1.2zM1530.6 59.0h1.2v1.2h-1.2zM1406.9 53.6h1.2v1.2h-1.2zM1306.8 132.5h1.2v1.2h-1.2zM1228.1 159.3h1.2v1.2h-1.2zM1229.2 123.4h1.2v1.2h-1.2zM1354.2 83.3h1.2v1.2h-1.2zM1469.9 28.6h1.2v1.2h-1.2zM1359.8 120.1h1.2v1.2h-1.2zM1293.3 128.4h1.2v1.2h-1.2zM1227.6 194.3h1.2v1.2h-1.2zM1446.3 53.0h1.2v1.2h-1.2zM1453.8 34.6h1.2v1.2h-1.2zM1188.0 175.9h1.2v1.2h-1.2zM1022.7 166.7h1.2v1.2h-1.2zM1453.9 12.4h1.2v1.2h-1.2zM1438.3 46.8h1.2v1.2h-1.2zM1056.5 182.5h1.2v1.2h-1.2zM1285.5 60.0h1.2v1.2h-1.2zM1371.4 49.3h1.2v1.2h-1.2zM1284.9 150.4h1.2v1.2h-1.2zM1296.5 100.3h1.2v1.2h-1.2zM1282.2 94.4h1.2v1.2h-1.2zM1211.8 186.4h1.2v1.2h-1.2zM1084.2 175.3h1.2v1.2h-1.2zM1049.3 165.9h1.2v1.2h-1.2zM1400.1 68.9h1.2v1.2h-1.2zM1270.1 1.1h1.2v1.2h-1.2zM1118.8 138.5h1.2v1.2h-1.2zM1339.0 86.9h1.2v1.2h-1.2zM1389.5 100.2h1.2v1.2h-1.2zM1196.2 165.1h1.2v1.2h-1.2zM1291.7 71.4h1.2v1.2h-1.2zM1301.7 82.5h1.2v1.2h-1.2zM1532.7 20.4h1.2v1.2h-1.2zM1238.6 143.8h1.2v1.2h-1.2zM1293.9 75.4h1.2v1.2h-1.2zM1254.1 146.9h1.2v1.2h-1.2zM1368.1 60.1h1.2v1.2h-1.2zM1281.3 155.5h1.2v1.2h-1.2zM1161.6 167.9h1.2v1.2h-1.2zM1527.7 31.0h1.2v1.2h-1.2zM1113.5 170.7h1.2v1.2h-1.2zM1386.1 64.0h1.2v1.2h-1.2zM1425.6 3.8h1.2v1.2h-1.2zM1287.9 49.6h1.2v1.2h-1.2zM1192.9 105.9h1.2v1.2h-1.2zM1137.3 194.6h1.2v1.2h-1.2zM1377.3 135.1h1.2v1.2h-1.2zM1155.0 161.2h1.2v1.2h-1.2zM1362.0 38.0h1.2v1.2h-1.2zM1277.6 47.5h1.2v1.2h-1.2zM1302.2 11.9h1.2v1.2h-1.2zM1476.8 50.9h1.2v1.2h-1.2zM1371.4 61.8h1.2v1.2h-1.2zM1361.1 114.2h1.2v1.2h-1.2zM1477.6 9.5h1.2v1.2h-1.2zM1396.8 144.4h1.2v1.2h-1.2zM1344.6 70.8h1.2v1.2h-1.2zM1117.4 162.7h1.2v1.2h-1.2zM1371.5 25.3h1.2v1.2h-1.2zM1253.9 179.7h1.2v1.2h-1.2zM1387.5 98.6h1.2v1.2h-1.2zM1314.0 76.5h1.2v1.2h-1.2zM1312.7 72.0h1.2v1.2h-1.2zM1444.2 23.8h1.2v1.2h-1.2zM1240.3 61.6h1.2v1.2h-1.2zM1201.4 139.2h1.2v1.2h-1.2zM1177.9 109.4h1.2v1.2h-1.2zM1230.6 134.0h1.2v1.2h-1.2zM988.0 175.8h1.2v1.2h-1.2zM1079.8 111.3h1.2v1.2h-1.2zM1381.6 25.3h1.2v1.2h-1.2zM1346.0 75.1h1.2v1.2h-1.2zM1302.8 38.9h1.2v1.2h-1.2zM1181.3 153.3h1.2v1.2h-1.2zM1235.6 149.8h1.2v1.2h-1.2zM1406.3 48.8h1.2v1.2h-1.2zM1108.8 148.9h1.2v1.2h-1.2zM1416.9 91.3h1.2v1.2h-1.2zM1036.1 189.4h1.2v1.2h-1.2zM1205.2 106.0h1.2v1.2h-1.2zM1118.0 132.2h1.2v1.2h-1.2zM1383.6 46.0h1.2v1.2h-1.2zM1006.5 188.8h1.2v1.2h-1.2zM1274.4 112.1h1.2v1.2h-1.2zM1146.6 119.8h1.2v1.2h-1.2zM1110.8 202.6h1.2v1.2h-1.2zM1093.7 186.8h1.2v1.2h-1.2zM1228.8 164.0h1.2v1.2h-1.2zM1344.6 88.2h1.2v1.2h-1.2zM1402.7 25.4h1.2v1.2h-1.2zM1136.4 108.1h1.2v1.2h-1.2zM1462.5 16.1h1.2v1.2h-1.2zM1464.8 91.9h1.2v1.2h-1.2zM1174.9 152.9h1.2v1.2h-1.2zM1254.9 107.5h1.2v1.2h-1.2zM1067.1 200.1h1.2v1.2h-1.2zM1085.8 149.3h1.2v1.2h-1.2zM1240.4 59.7h1.2v1.2h-1.2zM1343.1 89.4h1.2v1.2h-1.2zM1230.0 138.8h1.2v1.2h-1.2zM1381.0 77.7h1.2v1.2h-1.2zM1534.5 44.3h1.2v1.2h-1.2zM1290.8 93.5h1.2v1.2h-1.2zM1374.2 38.9h1.2v1.2h-1.2zM1282.1 133.7h1.2v1.2h-1.2zM1097.1 177.7h1.2v1.2h-1.2zM1176.9 165.3h1.2v1.2h-1.2zM1292.5 144.7h1.2v1.2h-1.2zM1196.1 87.0h1.2v1.2h-1.2zM1160.9 136.0h1.2v1.2h-1.2zM1154.6 134.6h1.2v1.2h-1.2zM1008.5 202.9h1.2v1.2h-1.2zM1375.6 145.4h1.2v1.2h-1.2zM1451.7 15.0h1.2v1.2h-1.2zM1324.5 123.5h1.2v1.2h-1.2zM1077.9 139.3h1.2v1.2h-1.2zM1415.6 55.1h1.2v1.2h-1.2zM1069.5 164.3h1.2v1.2h-1.2zM1282.5 48.8h1.2v1.2h-1.2zM1350.7 57.7h1.2v1.2h-1.2zM1475.4 30.0h1.2v1.2h-1.2zM1258.6 127.7h1.2v1.2h-1.2zM1140.7 126.9h1.2v1.2h-1.2zM1307.2 81.6h1.2v1.2h-1.2zM1140.3 116.8h1.2v1.2h-1.2zM1352.3 119.7h1.2v1.2h-1.2zM1135.4 156.8h1.2v1.2h-1.2zM1158.7 140.9h1.2v1.2h-1.2zM1479.3 46.5h1.2v1.2h-1.2zM1478.2 47.2h1.2v1.2h-1.2zM1428.5 24.2h1.2v1.2h-1.2zM1453.4 4.9h1.2v1.2h-1.2zM1217.8 184.2h1.2v1.2h-1.2zM1338.1 14.6h1.2v1.2h-1.2zM1333.9 85.2h1.2v1.2h-1.2zM1101.7 89.3h1.2v1.2h-1.2zM1518.7 3.5h1.2v1.2h-1.2zM1298.2 97.9h1.2v1.2h-1.2zM1160.6 56.9h1.2v1.2h-1.2zM1088.9 163.9h1.2v1.2h-1.2zM1155.0 140.1h1.2v1.2h-1.2zM1411.5 29.4h1.2v1.2h-1.2zM1102.6 67.2h1.2v1.2h-1.2zM1159.9 95.3h1.2v1.2h-1.2zM1209.2 36.6h1.2v1.2h-1.2zM1204.6 124.8h1.2v1.2h-1.2zM1293.8 63.4h1.2v1.2h-1.2zM1230.1 98.1h1.2v1.2h-1.2zM1142.3 104.1h1.2v1.2h-1.2zM1073.0 131.6h1.2v1.2h-1.2zM1163.9 157.8h1.2v1.2h-1.2zM1391.5 52.3h1.2v1.2h-1.2zM1028.7 188.5h1.2v1.2h-1.2zM1189.3 106.2h1.2v1.2h-1.2zM1319.1 100.4h1.2v1.2h-1.2zM1401.4 75.4h1.2v1.2h-1.2zM1271.4 87.5h1.2v1.2h-1.2zM1451.2 27.9h1.2v1.2h-1.2zM1264.3 95.1h1.2v1.2h-1.2zM1088.5 184.2h1.2v1.2h-1.2zM1296.6 99.5h1.2v1.2h-1.2zM1371.6 91.6h1.2v1.2h-1.2zM1396.0 65.9h1.2v1.2h-1.2zM1326.7 39.2h1.2v1.2h-1.2zM1149.3 162.5h1.2v1.2h-1.2zM1267.4 100.6h1.2v1.2h-1.2zM1214.8 129.8h1.2v1.2h-1.2zM1293.5 70.8h1.2v1.2h-1.2zM1267.4 142.2h1.2v1.2h-1.2zM1492.1 68.5h1.2v1.2h-1.2zM1208.9 112.4h1.2v1.2h-1.2zM1382.6 7.0h1.2v1.2h-1.2zM1172.2 152.6h1.2v1.2h-1.2zM1338.9 56.9h1.2v1.2h-1.2zM1436.8 48.0h1.2v1.2h-1.2zM1508.7 16.0h1.2v1.2h-1.2zM1383.2 111.7h1.2v1.2h-1.2zM1260.8 68.7h1.2v1.2h-1.2zM1247.0 125.8h1.2v1.2h-1.2zM1170.3 110.9h1.2v1.2h-1.2zM1329.4 39.1h1.2v1.2h-1.2zM1267.0 190.6h1.2v1.2h-1.2zM1018.3 151.8h1.2v1.2h-1.2zM1296.2 75.4h1.2v1.2h-1.2zM1432.8 63.6h1.2v1.2h-1.2zM1040.6 151.2h1.2v1.2h-1.2zM1509.4 25.5h1.2v1.2h-1.2zM1087.4 192.1h1.2v1.2h-1.2zM1411.1 98.3h1.2v1.2h-1.2zM1134.6 151.7h1.2v1.2h-1.2zM1200.2 202.9h1.2v1.2h-1.2zM1436.5 43.1h1.2v1.2h-1.2zM1272.6 95.7h1.2v1.2h-1.2zM1297.0 92.3h1.2v1.2h-1.2zM1369.1 63.4h1.2v1.2h-1.2zM1075.1 121.5h1.2v1.2h-1.2zM1364.9 47.5h1.2v1.2h-1.2zM1510.2 28.4h1.2v1.2h-1.2zM1305.3 62.7h1.2v1.2h-1.2zM1345.8 56.2h1.2v1.2h-1.2zM1248.1 59.7h1.2v1.2h-1.2zM1204.0 104.5h1.2v1.2h-1.2zM1415.0 117.6h1.2v1.2h-1.2zM1030.2 175.5h1.2v1.2h-1.2zM1499.0 89.8h1.2v1.2h-1.2zM1223.0 78.4h1.2v1.2h-1.2zM1006.8 187.2h1.2v1.2h-1.2zM1118.9 178.0h1.2v1.2h-1.2zM1235.4 141.0h1.2v1.2h-1.2zM1271.9 55.6h1.2v1.2h-1.2zM1158.7 168.9h1.2v1.2h-1.2zM1296.8 25.3h1.2v1.2h-1.2zM1213.5 81.2h1.2v1.2h-1.2zM1042.5 122.8h1.2v1.2h-1.2zM1342.2 103.8h1.2v1.2h-1.2zM1319.8 134.2h1.2v1.2h-1.2zM1058.3 168.6h1.2v1.2h-1.2zM1521.9 14.5h1.2v1.2h-1.2zM1244.5 59.0h1.2v1.2h-1.2zM1347.4 85.1h1.2v1.2h-1.2zM1123.2 147.7h1.2v1.2h-1.2zM1240.8 128.6h1.2v1.2h-1.2zM994.6 191.6h1.2v1.2h-1.2zM1020.6 200.6h1.2v1.2h-1.2zM1208.3 106.0h1.2v1.2h-1.2zM1266.5 94.5h1.2v1.2h-1.2zM1386.2 94.7h1.2v1.2h-1.2zM1396.4 52.1h1.2v1.2h-1.2zM1425.3 57.4h1.2v1.2h-1.2zM1302.8 123.8h1.2v1.2h-1.2zM1231.5 119.6h1.2v1.2h-1.2zM1081.1 171.8h1.2v1.2h-1.2zM1192.8 190.6h1.2v1.2h-1.2zM1196.7 132.7h1.2v1.2h-1.2zM1286.0 99.4h1.2v1.2h-1.2zM1162.9 136.2h1.2v1.2h-1.2zM1061.0 186.3h1.2v1.2h-1.2zM1424.2 65.3h1.2v1.2h-1.2zM1108.2 197.3h1.2v1.2h-1.2zM1138.2 176.2h1.2v1.2h-1.2zM1223.9 113.0h1.2v1.2h-1.2zM1217.6 157.0h1.2v1.2h-1.2zM1416.5 77.4h1.2v1.2h-1.2zM1373.3 120.3h1.2v1.2h-1.2zM1222.5 148.2h1.2v1.2h-1.2zM1246.8 132.2h1.2v1.2h-1.2zM1218.7 77.9h1.2v1.2h-1.2zM1375.6 83.0h1.2v1.2h-1.2zM1240.0 171.2h1.2v1.2h-1.2zM1089.5 148.6h1.2v1.2h-1.2zM1235.5 163.7h1.2v1.2h-1.2zM1452.3 102.5h1.2v1.2h-1.2zM1118.0 141.2h1.2v1.2h-1.2zM1335.8 82.9h1.2v1.2h-1.2zM1258.3 80.8h1.2v1.2h-1.2zM1365.1 125.4h1.2v1.2h-1.2zM1243.5 135.3h1.2v1.2h-1.2zM1306.0 60.7h1.2v1.2h-1.2zM1199.0 133.2h1.2v1.2h-1.2zM1391.1 127.7h1.2v1.2h-1.2zM1359.8 79.5h1.2v1.2h-1.2zM1490.7 13.2h1.2v1.2h-1.2zM1346.0 70.4h1.2v1.2h-1.2zM1175.7 131.8h1.2v1.2h-1.2zM1375.1 99.8h1.2v1.2h-1.2zM1456.0 42.9h1.2v1.2h-1.2zM1458.2 24.9h1.2v1.2h-1.2zM1137.1 157.2h1.2v1.2h-1.2zM1202.7 166.3h1.2v1.2h-1.2zM1304.7 89.2h1.2v1.2h-1.2zM1485.4 1.3h1.2v1.2h-1.2zM1126.9 120.9h1.2v1.2h-1.2zM1231.0 64.5h1.2v1.2h-1.2zM1181.8 140.0h1.2v1.2h-1.2zM1194.7 126.8h1.2v1.2h-1.2zM1296.1 56.5h1.2v1.2h-1.2zM1349.3 47.4h1.2v1.2h-1.2zM1182.9 163.1h1.2v1.2h-1.2zM1231.7 139.9h1.2v1.2h-1.2zM1106.4 170.6h1.2v1.2h-1.2zM1482.2 45.0h1.2v1.2h-1.2zM1180.9 152.2h1.2v1.2h-1.2zM1338.2 92.3h1.2v1.2h-1.2zM1047.6 164.5h1.2v1.2h-1.2zM1021.0 203.4h1.2v1.2h-1.2zM1033.5 178.2h1.2v1.2h-1.2zM1241.7 153.6h1.2v1.2h-1.2zM996.0 189.6h1.2v1.2h-1.2zM1227.6 104.4h1.2v1.2h-1.2zM1262.9 136.2h1.2v1.2h-1.2zM1075.9 155.1h1.2v1.2h-1.2zM1235.6 127.0h1.2v1.2h-1.2zM1480.9 27.4h1.2v1.2h-1.2zM1434.6 15.0h1.2v1.2h-1.2zM1248.7 77.5h1.2v1.2h-1.2zM1265.7 110.9h1.2v1.2h-1.2zM1197.0 118.7h1.2v1.2h-1.2zM1123.3 122.9h1.2v1.2h-1.2zM1065.0 177.7h1.2v1.2h-1.2zM1505.6 30.6h1.2v1.2h-1.2zM1355.7 33.0h1.2v1.2h-1.2zM1508.2 34.1h1.2v1.2h-1.2zM1221.8 80.9h1.2v1.2h-1.2zM1127.7 183.2h1.2v1.2h-1.2zM1229.1 100.5h1.2v1.2h-1.2zM1098.2 164.3h1.2v1.2h-1.2zM1060.3 197.7h1.2v1.2h-1.2zM1038.9 198.6h1.2v1.2h-1.2zM1118.2 160.8h1.2v1.2h-1.2zM1422.8 40.9h1.2v1.2h-1.2zM1365.2 23.1h1.2v1.2h-1.2zM1423.7 66.1h1.2v1.2h-1.2zM1055.7 122.1h1.2v1.2h-1.2zM1398.9 121.1h1.2v1.2h-1.2zM1479.6 20.3h1.2v1.2h-1.2zM1370.8 83.9h1.2v1.2h-1.2zM1329.9 75.6h1.2v1.2h-1.2zM1218.4 90.1h1.2v1.2h-1.2zM1015.9 195.6h1.2v1.2h-1.2zM1093.5 106.6h1.2v1.2h-1.2zM1206.7 134.0h1.2v1.2h-1.2zM1046.3 199.9h1.2v1.2h-1.2zM1413.5 76.2h1.2v1.2h-1.2zM1501.7 5.1h1.2v1.2h-1.2zM1201.7 144.0h1.2v1.2h-1.2zM1395.1 59.2h1.2v1.2h-1.2zM1477.1 12.1h1.2v1.2h-1.2zM1508.8 18.6h1.2v1.2h-1.2zM1456.4 55.7h1.2v1.2h-1.2zM1090.8 149.3h1.2v1.2h-1.2zM1533.3 11.5h1.2v1.2h-1.2zM1097.5 154.8h1.2v1.2h-1.2zM1402.0 67.2h1.2v1.2h-1.2zM1131.7 101.2h1.2v1.2h-1.2zM1357.8 136.4h1.2v1.2h-1.2zM1263.5 94.7h1.2v1.2h-1.2zM1244.9 125.9h1.2v1.2h-1.2zM1294.8 96.2h1.2v1.2h-1.2zM1020.3 200.1h1.2v1.2h-1.2zM1255.1 184.3h1.2v1.2h-1.2zM1035.0 145.8h1.2v1.2h-1.2zM1329.4 133.3h1.2v1.2h-1.2zM1145.9 165.3h1.2v1.2h-1.2zM1430.2 93.9h1.2v1.2h-1.2zM1241.0 157.1h1.2v1.2h-1.2zM1495.2 88.6h1.2v1.2h-1.2zM1079.4 168.3h1.2v1.2h-1.2zM1050.7 143.7h1.2v1.2h-1.2zM1383.3 46.4h1.2v1.2h-1.2zM1172.3 121.8h1.2v1.2h-1.2zM1204.4 113.5h1.2v1.2h-1.2zM1476.7 54.3h1.2v1.2h-1.2zM1414.9 57.9h1.2v1.2h-1.2zM1339.8 60.5h1.2v1.2h-1.2zM1163.7 74.9h1.2v1.2h-1.2zM1295.8 54.9h1.2v1.2h-1.2zM1251.9 159.2h1.2v1.2h-1.2zM1492.7 13.7h1.2v1.2h-1.2zM1359.7 38.9h1.2v1.2h-1.2zM1026.3 197.0h1.2v1.2h-1.2zM1436.3 7.5h1.2v1.2h-1.2zM1265.2 48.8h1.2v1.2h-1.2zM1440.4 21.6h1.2v1.2h-1.2zM1287.3 29.8h1.2v1.2h-1.2zM1040.8 100.6h1.2v1.2h-1.2zM1038.4 110.1h1.2v1.2h-1.2zM1250.5 111.4h1.2v1.2h-1.2zM1519.3 45.2h1.2v1.2h-1.2zM1220.5 127.4h1.2v1.2h-1.2zM1354.9 86.9h1.2v1.2h-1.2zM1352.8 86.5h1.2v1.2h-1.2zM1305.7 125.9h1.2v1.2h-1.2zM1392.9 60.0h1.2v1.2h-1.2zM1180.4 145.8h1.2v1.2h-1.2zM1222.9 144.5h1.2v1.2h-1.2zM1444.4 3.4h1.2v1.2h-1.2zM1080.7 153.4h1.2v1.2h-1.2zM1201.6 101.9h1.2v1.2h-1.2zM1445.3 75.3h1.2v1.2h-1.2zM1465.2 76.6h1.2v1.2h-1.2zM1295.6 7.1h1.2v1.2h-1.2zM1197.3 109.8h1.2v1.2h-1.2zM1333.2 80.7h1.2v1.2h-1.2zM1277.3 90.7h1.2v1.2h-1.2zM1281.1 135.5h1.2v1.2h-1.2zM1115.7 95.3h1.2v1.2h-1.2zM1281.2 116.0h1.2v1.2h-1.2zM1202.3 35.4h1.2v1.2h-1.2zM1091.2 149.8h1.2v1.2h-1.2zM1024.3 190.7h1.2v1.2h-1.2zM1335.3 27.0h1.2v1.2h-1.2zM1421.2 37.5h1.2v1.2h-1.2zM1288.8 95.2h1.2v1.2h-1.2zM1367.6 94.1h1.2v1.2h-1.2zM1345.8 145.9h1.2v1.2h-1.2zM1119.9 161.9h1.2v1.2h-1.2zM1239.6 190.3h1.2v1.2h-1.2zM1159.1 145.8h1.2v1.2h-1.2zM1019.3 194.2h1.2v1.2h-1.2zM1096.5 203.7h1.2v1.2h-1.2zM1168.9 176.0h1.2v1.2h-1.2zM1250.1 92.9h1.2v1.2h-1.2zM1502.9 23.3h1.2v1.2h-1.2zM1417.1 95.3h1.2v1.2h-1.2zM1291.8 91.2h1.2v1.2h-1.2zM1247.7 118.8h1.2v1.2h-1.2zM1359.1 88.6h1.2v1.2h-1.2zM1340.8 49.0h1.2v1.2h-1.2zM1160.4 134.1h1.2v1.2h-1.2zM1213.2 163.2h1.2v1.2h-1.2zM1231.6 195.0h1.2v1.2h-1.2zM1168.4 84.4h1.2v1.2h-1.2zM1191.2 159.4h1.2v1.2h-1.2zM1150.6 160.6h1.2v1.2h-1.2zM1043.8 203.7h1.2v1.2h-1.2zM1146.5 128.9h1.2v1.2h-1.2zM1338.9 92.4h1.2v1.2h-1.2zM1103.9 150.4h1.2v1.2h-1.2zM1380.0 85.9h1.2v1.2h-1.2zM1164.4 185.3h1.2v1.2h-1.2zM1002.7 193.5h1.2v1.2h-1.2zM1318.8 119.4h1.2v1.2h-1.2zM1313.1 92.2h1.2v1.2h-1.2zM1270.7 65.3h1.2v1.2h-1.2zM1430.2 35.2h1.2v1.2h-1.2zM1119.1 149.5h1.2v1.2h-1.2zM1190.7 191.5h1.2v1.2h-1.2zM1320.9 139.1h1.2v1.2h-1.2zM1156.2 105.9h1.2v1.2h-1.2zM1351.1 63.6h1.2v1.2h-1.2zM1044.9 91.9h1.2v1.2h-1.2zM1362.8 112.6h1.2v1.2h-1.2zM1014.0 182.9h1.2v1.2h-1.2zM1368.6 75.7h1.2v1.2h-1.2zM1391.9 98.9h1.2v1.2h-1.2zM1232.1 95.4h1.2v1.2h-1.2zM1299.3 74.9h1.2v1.2h-1.2zM1154.6 179.5h1.2v1.2h-1.2zM1144.7 91.7h1.2v1.2h-1.2zM1149.0 96.7h1.2v1.2h-1.2zM1059.3 192.5h1.2v1.2h-1.2zM1190.0 137.8h1.2v1.2h-1.2zM1401.6 68.8h1.2v1.2h-1.2zM1103.4 192.1h1.2v1.2h-1.2zM1058.4 153.6h1.2v1.2h-1.2zM1152.7 154.2h1.2v1.2h-1.2zM1327.7 97.6h1.2v1.2h-1.2zM1034.0 159.8h1.2v1.2h-1.2zM1237.3 87.2h1.2v1.2h-1.2zM1228.6 125.6h1.2v1.2h-1.2zM1188.7 131.5h1.2v1.2h-1.2zM1451.3 79.1h1.2v1.2h-1.2zM1249.9 123.7h1.2v1.2h-1.2zM1022.7 124.2h1.2v1.2h-1.2zM1306.8 178.4h1.2v1.2h-1.2zM1208.8 135.7h1.2v1.2h-1.2zM1029.6 182.0h1.2v1.2h-1.2zM1226.0 126.5h1.2v1.2h-1.2zM1196.8 136.6h1.2v1.2h-1.2zM1238.4 150.4h1.2v1.2h-1.2zM1187.5 118.3h1.2v1.2h-1.2zM1061.6 178.3h1.2v1.2h-1.2zM1331.4 49.8h1.2v1.2h-1.2zM1506.3 8.8h1.2v1.2h-1.2zM1285.8 91.5h1.2v1.2h-1.2zM1089.0 152.5h1.2v1.2h-1.2zM1256.6 20.0h1.2v1.2h-1.2zM1272.1 12.4h1.2v1.2h-1.2zM1299.5 85.9h1.2v1.2h-1.2zM1030.6 180.2h1.2v1.2h-1.2zM1061.6 162.8h1.2v1.2h-1.2zM1122.8 145.9h1.2v1.2h-1.2zM1263.5 171.8h1.2v1.2h-1.2zM1523.9 76.4h1.2v1.2h-1.2zM1170.8 137.8h1.2v1.2h-1.2zM1311.8 75.4h1.2v1.2h-1.2zM1184.1 60.6h1.2v1.2h-1.2zM1289.8 22.5h1.2v1.2h-1.2zM1460.7 14.7h1.2v1.2h-1.2zM1046.0 185.6h1.2v1.2h-1.2zM1498.7 49.8h1.2v1.2h-1.2zM1194.2 189.2h1.2v1.2h-1.2zM1425.4 48.4h1.2v1.2h-1.2zM1332.6 120.1h1.2v1.2h-1.2zM1431.7 44.2h1.2v1.2h-1.2zM1212.9 89.1h1.2v1.2h-1.2zM1267.2 123.9h1.2v1.2h-1.2zM1332.9 89.8h1.2v1.2h-1.2zM1184.6 137.1h1.2v1.2h-1.2zM1501.3 57.6h1.2v1.2h-1.2zM1470.9 42.0h1.2v1.2h-1.2zM1502.8 19.4h1.2v1.2h-1.2zM1381.7 5.8h1.2v1.2h-1.2zM1029.2 192.4h1.2v1.2h-1.2zM1114.7 182.9h1.2v1.2h-1.2zM1283.1 81.4h1.2v1.2h-1.2zM1208.1 72.5h1.2v1.2h-1.2zM1459.5 66.0h1.2v1.2h-1.2zM1084.2 201.6h1.2v1.2h-1.2zM1273.6 188.6h1.2v1.2h-1.2zM987.9 147.2h1.2v1.2h-1.2zM1369.8 61.2h1.2v1.2h-1.2zM1050.1 151.8h1.2v1.2h-1.2zM1382.2 59.5h1.2v1.2h-1.2zM1223.6 165.3h1.2v1.2h-1.2zM1201.0 135.5h1.2v1.2h-1.2zM1231.3 160.4h1.2v1.2h-1.2zM1069.4 203.7h1.2v1.2h-1.2zM1503.5 30.1h1.2v1.2h-1.2zM1418.7 33.6h1.2v1.2h-1.2zM1261.8 31.5h1.2v1.2h-1.2z" fill="#ff2040" opacity="0.7"/>
<path d="M1434.3 43.5h1.1v1.1h-1.1zM1342.5 120.5h1.1v1.1h-1.1zM1202.2 101.5h1.1v1.1h-1.1zM1200.0 92.8h1.1v1.1h-1.1zM1364.0 82.2h1.1v1.1h-1.1zM1129.9 156.4h1.1v1.1h-1.1zM1501.2 34.2h1.1v1.1h-1.1zM1405.6 103.5h1.1v1.1h-1.1zM1300.1 164.2h1.1v1.1h-1.1zM1264.1 85.4h1.1v1.1h-1.1zM1163.7 108.1h1.1v1.1h-1.1zM1133.3 163.4h1.1v1.1h-1.1zM1496.0 38.3h1.1v1.1h-1.1zM1313.7 60.5h1.1v1.1h-1.1zM1099.7 145.5h1.1v1.1h-1.1zM1468.6 4.4h1.1v1.1h-1.1zM1368.8 49.5h1.1v1.1h-1.1zM1198.9 127.0h1.1v1.1h-1.1zM1251.0 87.2h1.1v1.1h-1.1zM1110.9 194.6h1.1v1.1h-1.1zM1309.5 85.5h1.1v1.1h-1.1zM1285.6 115.2h1.1v1.1h-1.1zM1303.1 52.8h1.1v1.1h-1.1zM1391.1 27.7h1.1v1.1h-1.1zM1195.8 156.3h1.1v1.1h-1.1zM1052.1 191.0h1.1v1.1h-1.1zM1125.4 109.8h1.1v1.1h-1.1zM1237.1 108.5h1.1v1.1h-1.1zM1500.3 41.7h1.1v1.1h-1.1zM1316.0 144.9h1.1v1.1h-1.1zM1466.9 34.6h1.1v1.1h-1.1zM1359.8 147.4h1.1v1.1h-1.1zM1200.3 93.9h1.1v1.1h-1.1zM1018.5 200.8h1.1v1.1h-1.1zM1247.8 168.0h1.1v1.1h-1.1zM1046.1 160.5h1.1v1.1h-1.1zM1176.0 168.4h1.1v1.1h-1.1zM1437.5 34.2h1.1v1.1h-1.1zM1388.3 107.3h1.1v1.1h-1.1zM1065.8 135.5h1.1v1.1h-1.1zM1123.0 171.1h1.1v1.1h-1.1zM1447.8 109.3h1.1v1.1h-1.1zM1268.6 95.1h1.1v1.1h-1.1zM999.0 125.6h1.1v1.1h-1.1zM1422.6 0.7h1.1v1.1h-1.1zM1402.3 60.7h1.1v1.1h-1.1zM1333.6 65.1h1.1v1.1h-1.1zM1467.0 26.1h1.1v1.1h-1.1zM978.0 177.3h1.1v1.1h-1.1zM1096.4 144.2h1.1v1.1h-1.1zM1310.3 35.8h1.1v1.1h-1.1zM994.8 165.6h1.1v1.1h-1.1zM1035.6 141.4h1.1v1.1h-1.1zM1129.1 186.0h1.1v1.1h-1.1zM1440.7 35.8h1.1v1.1h-1.1zM1324.6 129.2h1.1v1.1h-1.1zM1004.0 189.6h1.1v1.1h-1.1zM1295.7 37.5h1.1v1.1h-1.1zM1296.3 124.5h1.1v1.1h-1.1zM1242.6 101.5h1.1v1.1h-1.1zM1317.4 137.0h1.1v1.1h-1.1zM1309.4 70.1h1.1v1.1h-1.1zM1219.4 116.0h1.1v1.1h-1.1zM1071.9 203.8h1.1v1.1h-1.1zM1295.0 43.7h1.1v1.1h-1.1zM1349.9 34.7h1.1v1.1h-1.1zM1118.4 129.8h1.1v1.1h-1.1zM1129.1 126.1h1.1v1.1h-1.1zM1473.9 37.9h1.1v1.1h-1.1zM1313.2 34.4h1.1v1.1h-1.1zM1271.1 121.7h1.1v1.1h-1.1zM1173.1 187.9h1.1v1.1h-1.1zM1302.0 103.3h1.1v1.1h-1.1zM1345.0 26.7h1.1v1.1h-1.1zM1458.8 27.5h1.1v1.1h-1.1zM1033.1 145.7h1.1v1.1h-1.1zM1428.7 82.6h1.1v1.1h-1.1zM1117.6 129.9h1.1v1.1h-1.1zM1252.6 106.5h1.1v1.1h-1.1zM1403.1 39.8h1.1v1.1h-1.1zM1436.8 42.9h1.1v1.1h-1.1zM1377.2 64.6h1.1v1.1h-1.1zM1245.8 64.8h1.1v1.1h-1.1zM1452.3 36.9h1.1v1.1h-1.1zM1042.9 168.1h1.1v1.1h-1.1zM1007.5 164.3h1.1v1.1h-1.1zM1217.3 181.8h1.1v1.1h-1.1zM1494.1 26.4h1.1v1.1h-1.1zM1075.8 171.5h1.1v1.1h-1.1zM1505.5 39.9h1.1v1.1h-1.1zM1026.8 184.7h1.1v1.1h-1.1zM1227.0 45.5h1.1v1.1h-1.1zM1059.3 174.3h1.1v1.1h-1.1zM1159.5 136.9h1.1v1.1h-1.1zM1281.3 85.0h1.1v1.1h-1.1zM1285.2 90.8h1.1v1.1h-1.1zM1524.3 46.5h1.1v1.1h-1.1zM1329.6 54.2h1.1v1.1h-1.1zM1287.7 124.9h1.1v1.1h-1.1zM1081.1 57.0h1.1v1.1h-1.1zM1270.2 95.7h1.1v1.1h-1.1zM1440.6 20.3h1.1v1.1h-1.1zM1231.7 33.7h1.1v1.1h-1.1zM1004.0 200.6h1.1v1.1h-1.1zM1041.7 195.6h1.1v1.1h-1.1zM1394.0 0.1h1.1v1.1h-1.1zM1183.2 194.0h1.1v1.1h-1.1zM1114.8 166.5h1.1v1.1h-1.1zM1303.2 84.7h1.1v1.1h-1.1zM1145.0 123.8h1.1v1.1h-1.1zM1329.6 63.0h1.1v1.1h-1.1zM1270.1 71.7h1.1v1.1h-1.1zM1135.3 133.6h1.1v1.1h-1.1zM1089.2 121.1h1.1v1.1h-1.1zM1272.5 195.3h1.1v1.1h-1.1zM1196.0 194.5h1.1v1.1h-1.1zM1429.5 116.1h1.1v1.1h-1.1zM1146.7 166.7h1.1v1.1h-1.1zM1332.8 78.5h1.1v1.1h-1.1zM1151.6 104.7h1.1v1.1h-1.1zM1385.6 25.0h1.1v1.1h-1.1zM1328.3 33.2h1.1v1.1h-1.1zM1113.2 86.2h1.1v1.1h-1.1zM1438.3 49.8h1.1v1.1h-1.1zM1372.9 66.1h1.1v1.1h-1.1zM1453.3 107.9h1.1v1.1h-1.1zM1234.3 125.4h1.1v1.1h-1.1zM1047.2 165.6h1.1v1.1h-1.1zM1061.2 175.9h1.1v1.1h-1.1zM1500.8 30.8h1.1v1.1h-1.1zM1044.5 181.2h1.1v1.1h-1.1zM1044.9 193.6h1.1v1.1h-1.1zM1150.1 192.6h1.1v1.1h-1.1zM1170.9 154.4h1.1v1.1h-1.1zM1221.6 102.3h1.1v1.1h-1.1zM1533.7 42.0h1.1v1.1h-1.1zM1460.1 80.4h1.1v1.1h-1.1zM1371.6 21.7h1.1v1.1h-1.1zM1147.2 154.0h1.1v1.1h-1.1zM1346.4 101.3h1.1v1.1h-1.1zM1335.3 65.3h1.1v1.1h-1.1zM1488.7 10.5h1.1v1.1h-1.1zM1116.9 181.1h1.1v1.1h-1.1zM1188.7 173.4h1.1v1.1h-1.1zM1385.3 72.9h1.1v1.1h-1.1zM1170.5 162.8h1.1v1.1h-1.1zM1424.0 52.5h1.1v1.1h-1.1zM1461.7 41.1h1.1v1.1h-1.1zM1396.9 82.3h1.1v1.1h-1.1zM1423.7 1.6h1.1v1.1h-1.1zM1292.6 74.9h1.1v1.1h-1.1zM1259.4 63.1h1.1v1.1h-1.1zM1078.9 143.2h1.1v1.1h-1.1zM1520.2 6.1h1.1v1.1h-1.1zM1245.1 5.4h1.1v1.1h-1.1zM1119.5 125.3h1.1v1.1h-1.1zM1160.7 94.8h1.1v1.1h-1.1zM1493.5 48.2h1.1v1.1h-1.1zM1268.9 59.9h1.1v1.1h-1.1zM1034.7 169.5h1.1v1.1h-1.1zM1297.2 124.6h1.1v1.1h-1.1zM1428.4 6.8h1.1v1.1h-1.1zM1329.8 28.6h1.1v1.1h-1.1zM1322.0 85.7h1.1v1.1h-1.1zM1263.1 130.5h1.1v1.1h-1.1zM1532.1 29.7h1.1v1.1h-1.1zM1028.9 161.4h1.1v1.1h-1.1zM1465.1 42.1h1.1v1.1h-1.1zM1002.3 181.7h1.1v1.1h-1.1zM1198.8 91.1h1.1v1.1h-1.1zM1174.8 103.3h1.1v1.1h-1.1zM1087.4 192.3h1.1v1.1h-1.1zM1458.5 1.4h1.1v1.1h-1.1zM1376.8 32.4h1.1v1.1h-1.1zM1320.3 115.5h1.1v1.1h-1.1zM1206.9 45.3h1.1v1.1h-1.1zM1122.5 200.0h1.1v1.1h-1.1zM1227.5 167.2h1.1v1.1h-1.1zM1134.9 127.2h1.1v1.1h-1.1zM1455.2 34.5h1.1v1.1h-1.1zM1260.2 114.2h1.1v1.1h-1.1zM1397.1 80.2h1.1v1.1h-1.1zM1398.4 28.8h1.1v1.1h-1.1zM1269.2 142.4h1.1v1.1h-1.1zM1501.2 78.9h1.1v1.1h-1.1zM1410.9 38.1h1.1v1.1h-1.1zM1123.7 182.2h1.1v1.1h-1.1zM1140.2 184.8h1.1v1.1h-1.1zM1162.9 96.6h1.1v1.1h-1.1zM1463.9 34.2h1.1v1.1h-1.1zM1059.5 178.6h1.1v1.1h-1.1zM1525.2 10.9h1.1v1.1h-1.1zM1451.3 20.8h1.1v1.1h-1.1zM1251.9 113.6h1.1v1.1h-1.1zM1006.1 123.6h1.1v1.1h-1.1zM1523.5 13.3h1.1v1.1h-1.1zM1134.9 181.5h1.1v1.1h-1.1zM1125.2 170.7h1.1v1.1h-1.1zM1369.9 53.0h1.1v1.1h-1.1zM1188.0 180.1h1.1v1.1h-1.1zM1063.2 164.9h1.1v1.1h-1.1zM1292.4 131.5h1.1v1.1h-1.1zM1106.0 173.7h1.1v1.1h-1.1zM1340.6 129.4h1.1v1.1h-1.1zM1053.5 193.4h1.1v1.1h-1.1zM1393.6 5.5h1.1v1.1h-1.1zM1295.4 124.4h1.1v1.1h-1.1zM1307.4 159.8h1.1v1.1h-1.1zM1057.0 140.8h1.1v1.1h-1.1zM1364.4 82.2h1.1v1.1h-1.1zM1185.0 147.0h1.1v1.1h-1.1zM1009.5 194.6h1.1v1.1h-1.1zM1452.4 47.7h1.1v1.1h-1.1zM1347.2 89.8h1.1v1.1h-1.1zM1007.6 196.5h1.1v1.1h-1.1zM1320.3 106.1h1.1v1.1h-1.1zM1458.2 22.5h1.1v1.1h-1.1zM1076.3 156.7h1.1v1.1h-1.1zM1128.9 202.9h1.1v1.1h-1.1zM1237.4 41.6h1.1v1.1h-1.1zM1148.2 110.8h1.1v1.1h-1.1zM1334.5 43.6h1.1v1.1h-1.1zM1273.5 102.0h1.1v1.1h-1.1zM1206.7 111.2h1.1v1.1h-1.1zM1242.3 86.0h1.1v1.1h-1.1zM1082.3 101.6h1.1v1.1h-1.1zM1307.2 91.4h1.1v1.1h-1.1zM1253.7 53.9h1.1v1.1h-1.1zM1513.3 19.8h1.1v1.1h-1.1zM1439.7 37.9h1.1v1.1h-1.1zM1418.9 29.9h1.1v1.1h-1.1zM1282.0 86.6h1.1v1.1h-1.1zM1304.0 102.8h1.1v1.1h-1.1zM1380.3 130.1h1.1v1.1h-1.1zM1328.3 36.9h1.1v1.1h-1.1zM1260.4 80.1h1.1v1.1h-1.1zM1076.0 176.0h1.1v1.1h-1.1zM1255.0 188.7h1.1v1.1h-1.1zM1288.9 30.1h1.1v1.1h-1.1zM1463.3 10.6h1.1v1.1h-1.1zM1124.7 192.9h1.1v1.1h-1.1zM1168.1 196.7h1.1v1.1h-1.1zM1485.9 64.6h1.1v1.1h-1.1zM1455.6 45.9h1.1v1.1h-1.1zM1132.0 187.7h1.1v1.1h-1.1zM1095.4 168.8h1.1v1.1h-1.1zM1286.1 90.9h1.1v1.1h-1.1zM1346.6 145.4h1.1v1.1h-1.1zM1259.2 79.9h1.1v1.1h-1.1zM1394.0 74.5h1.1v1.1h-1.1zM1286.6 100.5h1.1v1.1h-1.1zM1233.6 122.5h1.1v1.1h-1.1zM1447.3 17.4h1.1v1.1h-1.1zM1513.0 5.3h1.1v1.1h-1.1zM1435.1 72.8h1.1v1.1h-1.1zM1328.2 92.9h1.1v1.1h-1.1zM1404.8 36.9h1.1v1.1h-1.1zM1129.3 166.3h1.1v1.1h-1.1zM1085.3 122.6h1.1v1.1h-1.1zM1296.7 91.6h1.1v1.1h-1.1zM1379.9 40.2h1.1v1.1h-1.1zM1429.9 33.4h1.1v1.1h-1.1zM1103.7 157.4h1.1v1.1h-1.1zM1391.3 91.2h1.1v1.1h-1.1zM1203.4 115.0h1.1v1.1h-1.1zM1415.9 52.0h1.1v1.1h-1.1zM1433.8 54.1h1.1v1.1h-1.1zM1311.2 10.8h1.1v1.1h-1.1zM1355.1 50.2h1.1v1.1h-1.1zM1121.5 160.2h1.1v1.1h-1.1zM1113.8 169.0h1.1v1.1h-1.1zM1187.4 107.5h1.1v1.1h-1.1zM1122.7 174.0h1.1v1.1h-1.1zM1424.0 5.1h1.1v1.1h-1.1zM1159.6 108.2h1.1v1.1h-1.1zM1434.4 59.1h1.1v1.1h-1.1zM1031.7 169.3h1.1v1.1h-1.1zM1139.4 126.9h1.1v1.1h-1.1zM1073.1 143.7h1.1v1.1h-1.1zM1173.1 168.4h1.1v1.1h-1.1zM1319.2 149.5h1.1v1.1h-1.1zM1300.4 93.0h1.1v1.1h-1.1zM1322.0 40.2h1.1v1.1h-1.1zM1158.7 190.8h1.1v1.1h-1.1zM1494.9 6.6h1.1v1.1h-1.1zM1155.4 149.5h1.1v1.1h-1.1zM999.2 188.0h1.1v1.1h-1.1zM1277.5 125.9h1.1v1.1h-1.1zM1245.9 90.4h1.1v1.1h-1.1zM1434.8 53.1h1.1v1.1h-1.1zM1341.0 58.7h1.1v1.1h-1.1zM1476.0 74.3h1.1v1.1h-1.1zM1351.3 84.4h1.1v1.1h-1.1zM1521.6 67.4h1.1v1.1h-1.1zM1392.3 77.3h1.1v1.1h-1.1zM1174.6 112.9h1.1v1.1h-1.1zM1320.6 39.1h1.1v1.1h-1.1zM1183.4 168.2h1.1v1.1h-1.1zM1431.5 38.9h1.1v1.1h-1.1zM1384.2 89.2h1.1v1.1h-1.1zM1344.1 75.8h1.1v1.1h-1.1zM1071.1 127.7h1.1v1.1h-1.1zM1251.9 96.0h1.1v1.1h-1.1zM1405.2 35.9h1.1v1.1h-1.1zM1036.5 159.6h1.1v1.1h-1.1zM1025.1 153.8h1.1v1.1h-1.1zM1296.7 130.6h1.1v1.1h-1.1zM1034.2 127.1h1.1v1.1h-1.1zM1215.5 140.0h1.1v1.1h-1.1zM1365.1 71.2h1.1v1.1h-1.1zM1448.1 8.9h1.1v1.1h-1.1zM1103.4 175.9h1.1v1.1h-1.1zM1052.7 153.0h1.1v1.1h-1.1zM1268.3 108.1h1.1v1.1h-1.1zM1137.9 176.2h1.1v1.1h-1.1zM1349.8 125.8h1.1v1.1h-1.1zM1384.6 111.1h1.1v1.1h-1.1zM1476.7 34.1h1.1v1.1h-1.1zM1227.9 98.5h1.1v1.1h-1.1zM1503.0 9.4h1.1v1.1h-1.1zM1348.0 71.1h1.1v1.1h-1.1zM1216.5 106.2h1.1v1.1h-1.1zM1415.2 0.6h1.1v1.1h-1.1zM1250.1 100.4h1.1v1.1h-1.1zM1324.3 59.7h1.1v1.1h-1.1zM1409.5 96.2h1.1v1.1h-1.1zM1115.2 182.0h1.1v1.1h-1.1zM1352.8 63.5h1.1v1.1h-1.1zM1155.3 166.0h1.1v1.1h-1.1zM1031.8 163.3h1.1v1.1h-1.1zM1369.6 59.0h1.1v1.1h-1.1zM1086.7 116.8h1.1v1.1h-1.1zM1195.8 146.6h1.1v1.1h-1.1zM1483.7 20.6h1.1v1.1h-1.1zM1167.3 191.5h1.1v1.1h-1.1zM1042.2 179.4h1.1v1.1h-1.1zM1185.6 122.8h1.1v1.1h-1.1zM1055.4 187.6h1.1v1.1h-1.1zM1106.4 192.2h1.1v1.1h-1.1zM1201.2 187.9h1.1v1.1h-1.1zM1146.4 188.9h1.1v1.1h-1.1zM1271.1 97.0h1.1v1.1h-1.1zM1490.5 64.9h1.1v1.1h-1.1zM1103.3 179.3h1.1v1.1h-1.1zM1458.2 29.0h1.1v1.1h-1.1zM1214.0 159.8h1.1v1.1h-1.1zM1277.8 107.1h1.1v1.1h-1.1zM1173.6 174.8h1.1v1.1h-1.1zM1326.5 87.9h1.1v1.1h-1.1zM1130.0 147.5h1.1v1.1h-1.1zM1246.3 132.2h1.1v1.1h-1.1zM1093.1 113.0h1.1v1.1h-1.1zM1196.3 76.7h1.1v1.1h-1.1zM1333.6 56.9h1.1v1.1h-1.1zM1455.0 65.8h1.1v1.1h-1.1zM1157.4 136.6h1.1v1.1h-1.1zM1410.7 41.5h1.1v1.1h-1.1zM1285.2 44.5h1.1v1.1h-1.1zM1411.8 79.4h1.1v1.1h-1.1zM1330.8 49.4h1.1v1.1h-1.1zM1374.5 52.3h1.1v1.1h-1.1zM1353.4 69.0h1.1v1.1h-1.1zM1464.0 39.7h1.1v1.1h-1.1zM1264.1 86.1h1.1v1.1h-1.1zM1417.1 26.5h1.1v1.1h-1.1zM1152.2 182.1h1.1v1.1h-1.1zM1401.2 71.6h1.1v1.1h-1.1zM1485.7 49.6h1.1v1.1h-1.1zM1101.6 153.3h1.1v1.1h-1.1zM1343.0 60.1h1.1v1.1h-1.1zM1262.1 79.8h1.1v1.1h-1.1zM1442.2 63.8h1.1v1.1h-1.1zM1117.7 158.9h1.1v1.1h-1.1zM1274.8 140.6h1.1v1.1h-1.1zM1013.5 170.0h1.1v1.1h-1.1zM1346.0 103.3h1.1v1.1h-1.1zM1061.5 178.0h1.1v1.1h-1.1zM1248.2 142.9h1.1v1.1h-1.1zM1150.1 72.5h1.1v1.1h-1.1zM1073.7 182.4h1.1v1.1h-1.1zM1434.0 76.3h1.1v1.1h-1.1zM1384.8 91.2h1.1v1.1h-1.1zM1277.0 154.4h1.1v1.1h-1.1zM1378.3 82.5h1.1v1.1h-1.1zM1445.6 31.0h1.1v1.1h-1.1zM1226.7 165.9h1.1v1.1h-1.1zM1354.3 63.2h1.1v1.1h-1.1zM1214.9 144.9h1.1v1.1h-1.1zM1218.8 137.6h1.1v1.1h-1.1zM1232.1 119.4h1.1v1.1h-1.1zM1092.6 120.9h1.1v1.1h-1.1zM1055.0 170.5h1.1v1.1h-1.1zM1351.0 104.4h1.1v1.1h-1.1zM1193.0 97.9h1.1v1.1h-1.1zM1200.4 119.9h1.1v1.1h-1.1zM1111.0 166.4h1.1v1.1h-1.1zM1307.3 43.0h1.1v1.1h-1.1zM1461.0 50.6h1.1v1.1h-1.1zM1328.3 98.4h1.1v1.1h-1.1zM1188.1 122.8h1.1v1.1h-1.1zM1281.2 52.3h1.1v1.1h-1.1zM1464.1 99.3h1.1v1.1h-1.1zM1203.6 137.2h1.1v1.1h-1.1zM1266.1 109.7h1.1v1.1h-1.1zM1148.3 202.7h1.1v1.1h-1.1zM1084.3 182.0h1.1v1.1h-1.1zM1198.5 116.2h1.1v1.1h-1.1zM1101.7 169.1h1.1v1.1h-1.1zM1491.4 20.9h1.1v1.1h-1.1zM985.0 141.8h1.1v1.1h-1.1zM1194.0 152.6h1.1v1.1h-1.1zM1189.9 132.4h1.1v1.1h-1.1zM1416.4 83.0h1.1v1.1h-1.1zM1057.2 195.2h1.1v1.1h-1.1zM1236.6 60.6h1.1v1.1h-1.1zM1237.9 88.9h1.1v1.1h-1.1zM1062.0 146.1h1.1v1.1h-1.1zM1246.6 50.1h1.1v1.1h-1.1zM1464.2 51.3h1.1v1.1h-1.1zM1429.3 84.3h1.1v1.1h-1.1zM1167.9 105.9h1.1v1.1h-1.1zM1395.7 62.6h1.1v1.1h-1.1zM1191.2 121.8h1.1v1.1h-1.1zM1316.5 99.9h1.1v1.1h-1.1zM1208.1 118.4h1.1v1.1h-1.1zM1441.5 23.4h1.1v1.1h-1.1zM1161.6 203.2h1.1v1.1h-1.1zM1052.8 187.7h1.1v1.1h-1.1zM1024.1 173.2h1.1v1.1h-1.1zM1274.1 24.2h1.1v1.1h-1.1zM1196.8 119.5h1.1v1.1h-1.1zM1332.4 153.6h1.1v1.1h-1.1zM1397.2 62.9h1.1v1.1h-1.1zM1220.7 116.5h1.1v1.1h-1.1zM1239.1 55.9h1.1v1.1h-1.1zM1180.8 104.7h1.1v1.1h-1.1zM1254.1 85.7h1.1v1.1h-1.1zM1161.7 114.1h1.1v1.1h-1.1zM1499.9 34.6h1.1v1.1h-1.1zM1503.8 11.6h1.1v1.1h-1.1zM1253.2 161.4h1.1v1.1h-1.1zM1219.1 85.8h1.1v1.1h-1.1zM1260.3 56.9h1.1v1.1h-1.1zM1113.3 142.2h1.1v1.1h-1.1zM1405.7 53.1h1.1v1.1h-1.1zM1534.3 73.8h1.1v1.1h-1.1zM1068.5 132.1h1.1v1.1h-1.1zM1204.6 92.8h1.1v1.1h-1.1zM1166.6 102.5h1.1v1.1h-1.1zM1451.1 42.8h1.1v1.1h-1.1zM1393.4 74.6h1.1v1.1h-1.1zM1226.0 137.3h1.1v1.1h-1.1zM1323.7 76.0h1.1v1.1h-1.1zM1444.8 13.5h1.1v1.1h-1.1zM1207.7 155.4h1.1v1.1h-1.1zM1106.8 148.3h1.1v1.1h-1.1zM1185.0 173.8h1.1v1.1h-1.1zM1092.2 116.8h1.1v1.1h-1.1zM1495.1 20.7h1.1v1.1h-1.1zM1386.6 95.8h1.1v1.1h-1.1zM1268.5 127.3h1.1v1.1h-1.1zM1104.0 141.7h1.1v1.1h-1.1zM1201.9 70.5h1.1v1.1h-1.1zM1265.0 67.5h1.1v1.1h-1.1zM1458.9 47.0h1.1v1.1h-1.1zM1293.8 116.4h1.1v1.1h-1.1zM1320.8 43.9h1.1v1.1h-1.1zM1154.4 136.4h1.1v1.1h-1.1zM1269.2 44.4h1.1v1.1h-1.1zM1193.5 117.0h1.1v1.1h-1.1zM1176.2 151.0h1.1v1.1h-1.1zM1171.1 192.8h1.1v1.1h-1.1zM1517.5 8.5h1.1v1.1h-1.1zM1029.3 165.6h1.1v1.1h-1.1zM1163.4 187.7h1.1v1.1h-1.1zM1263.0 81.5h1.1v1.1h-1.1zM1211.2 177.0h1.1v1.1h-1.1zM1108.9 161.2h1.1v1.1h-1.1zM1290.1 13.3h1.1v1.1h-1.1zM1114.8 129.7h1.1v1.1h-1.1z" fill="#d01848" opacity="0.5"/>
<path d="M1282.1 134.3h1.4v1.4h-1.4zM1196.0 119.3h1.4v1.4h-1.4zM1322.1 82.4h1.4v1.4h-1.4zM1183.4 176.1h1.4v1.4h-1.4zM1036.8 182.7h1.4v1.4h-1.4zM1288.7 92.5h1.4v1.4h-1.4zM1096.7 195.0h1.4v1.4h-1.4zM1534.0 14.0h1.4v1.4h-1.4zM1155.7 144.4h1.4v1.4h-1.4zM1253.5 122.4h1.4v1.4h-1.4zM1312.9 10.9h1.4v1.4h-1.4zM1262.1 98.3h1.4v1.4h-1.4zM1259.5 60.4h1.4v1.4h-1.4zM1444.1 99.0h1.4v1.4h-1.4zM1427.3 81.4h1.4v1.4h-1.4zM1112.0 203.6h1.4v1.4h-1.4zM1345.5 52.0h1.4v1.4h-1.4zM1271.0 71.2h1.4v1.4h-1.4zM1407.6 48.7h1.4v1.4h-1.4zM1479.3 79.9h1.4v1.4h-1.4zM1003.3 175.4h1.4v1.4h-1.4zM1328.0 85.8h1.4v1.4h-1.4zM1504.2 33.8h1.4v1.4h-1.4zM1059.4 117.4h1.4v1.4h-1.4zM1399.8 41.1h1.4v1.4h-1.4zM1361.4 48.4h1.4v1.4h-1.4zM1479.2 125.8h1.4v1.4h-1.4zM1261.9 162.1h1.4v1.4h-1.4zM1196.6 115.2h1.4v1.4h-1.4zM1370.9 0.0h1.4v1.4h-1.4zM1250.9 152.6h1.4v1.4h-1.4zM1084.0 149.7h1.4v1.4h-1.4zM1273.8 104.5h1.4v1.4h-1.4zM1410.3 61.3h1.4v1.4h-1.4zM1254.5 129.7h1.4v1.4h-1.4zM1326.0 58.9h1.4v1.4h-1.4zM1175.6 157.1h1.4v1.4h-1.4zM1174.9 128.9h1.4v1.4h-1.4zM1296.2 102.4h1.4v1.4h-1.4zM1529.2 26.9h1.4v1.4h-1.4zM1131.8 98.0h1.4v1.4h-1.4zM1456.6 8.0h1.4v1.4h-1.4zM1347.8 52.5h1.4v1.4h-1.4zM1336.7 82.4h1.4v1.4h-1.4zM1486.9 11.1h1.4v1.4h-1.4zM1189.7 139.2h1.4v1.4h-1.4zM1145.5 141.7h1.4v1.4h-1.4zM1011.3 196.2h1.4v1.4h-1.4zM1240.9 86.9h1.4v1.4h-1.4zM1425.0 32.3h1.4v1.4h-1.4zM1416.7 20.0h1.4v1.4h-1.4zM1350.2 122.1h1.4v1.4h-1.4zM1312.6 12.3h1.4v1.4h-1.4zM1258.5 139.3h1.4v1.4h-1.4zM1005.1 168.8h1.4v1.4h-1.4zM1407.6 40.1h1.4v1.4h-1.4zM1292.6 88.1h1.4v1.4h-1.4zM1124.3 162.7h1.4v1.4h-1.4zM1312.3 126.4h1.4v1.4h-1.4zM1244.4 166.3h1.4v1.4h-1.4zM1416.2 129.0h1.4v1.4h-1.4zM1025.4 169.8h1.4v1.4h-1.4zM1478.3 17.3h1.4v1.4h-1.4zM1481.8 13.8h1.4v1.4h-1.4zM1334.8 39.5h1.4v1.4h-1.4zM1515.0 20.0h1.4v1.4h-1.4zM1397.2 125.4h1.4v1.4h-1.4zM1386.0 57.3h1.4v1.4h-1.4zM1196.9 144.7h1.4v1.4h-1.4zM1384.2 63.2h1.4v1.4h-1.4zM1108.0 188.2h1.4v1.4h-1.4zM1134.5 196.6h1.4v1.4h-1.4zM1196.2 105.4h1.4v1.4h-1.4zM1412.2 12.5h1.4v1.4h-1.4zM1256.2 40.7h1.4v1.4h-1.4zM1077.4 176.4h1.4v1.4h-1.4zM1052.7 130.2h1.4v1.4h-1.4zM1192.9 177.8h1.4v1.4h-1.4zM1390.4 33.0h1.4v1.4h-1.4zM1319.4 46.7h1.4v1.4h-1.4zM1398.6 42.8h1.4v1.4h-1.4zM1383.4 78.7h1.4v1.4h-1.4zM1423.7 68.5h1.4v1.4h-1.4zM1343.8 167.2h1.4v1.4h-1.4zM1520.7 1.9h1.4v1.4h-1.4zM1389.7 27.1h1.4v1.4h-1.4zM1382.0 29.9h1.4v1.4h-1.4zM990.0 180.0h1.4v1.4h-1.4zM1223.4 108.0h1.4v1.4h-1.4zM1172.6 137.0h1.4v1.4h-1.4zM1249.1 151.9h1.4v1.4h-1.4zM1287.7 80.5h1.4v1.4h-1.4zM1103.6 121.5h1.4v1.4h-1.4zM1328.7 49.7h1.4v1.4h-1.4zM1084.1 194.6h1.4v1.4h-1.4zM1455.0 40.9h1.4v1.4h-1.4zM1414.1 40.7h1.4v1.4h-1.4zM1417.4 2.3h1.4v1.4h-1.4zM1202.8 130.2h1.4v1.4h-1.4zM1093.3 156.0h1.4v1.4h-1.4zM1235.9 97.9h1.4v1.4h-1.4zM1048.6 148.1h1.4v1.4h-1.4zM1481.3 12.8h1.4v1.4h-1.4zM1366.9 43.8h1.4v1.4h-1.4zM1324.7 23.5h1.4v1.4h-1.4zM1296.6 87.0h1.4v1.4h-1.4zM1183.3 166.7h1.4v1.4h-1.4zM1040.3 145.6h1.4v1.4h-1.4zM1248.7 97.7h1.4v1.4h-1.4zM1344.4 122.3h1.4v1.4h-1.4zM1496.8 77.3h1.4v1.4h-1.4zM1390.0 106.2h1.4v1.4h-1.4zM1119.7 182.6h1.4v1.4h-1.4zM1154.4 133.8h1.4v1.4h-1.4zM1119.0 203.7h1.4v1.4h-1.4zM1188.3 171.1h1.4v1.4h-1.4zM1301.9 56.8h1.4v1.4h-1.4zM1193.1 160.6h1.4v1.4h-1.4zM1428.8 53.2h1.4v1.4h-1.4zM1159.6 147.4h1.4v1.4h-1.4zM1068.8 180.3h1.4v1.4h-1.4zM1093.4 175.1h1.4v1.4h-1.4zM1292.3 110.9h1.4v1.4h-1.4zM1105.2 158.3h1.4v1.4h-1.4zM1241.9 124.3h1.4v1.4h-1.4zM1184.8 120.2h1.4v1.4h-1.4zM1523.4 19.7h1.4v1.4h-1.4zM1520.8 32.9h1.4v1.4h-1.4zM1281.2 105.4h1.4v1.4h-1.4zM1096.5 152.9h1.4v1.4h-1.4zM1424.3 15.8h1.4v1.4h-1.4zM1071.1 164.4h1.4v1.4h-1.4zM1354.3 61.6h1.4v1.4h-1.4zM1335.7 1.6h1.4v1.4h-1.4zM1195.3 87.5h1.4v1.4h-1.4zM1351.6 38.3h1.4v1.4h-1.4zM1207.4 123.2h1.4v1.4h-1.4zM1409.0 21.4h1.4v1.4h-1.4zM1366.4 82.0h1.4v1.4h-1.4zM1374.3 38.3h1.4v1.4h-1.4zM1294.2 50.0h1.4v1.4h-1.4zM1497.0 53.3h1.4v1.4h-1.4zM1186.7 170.7h1.4v1.4h-1.4zM1175.6 134.0h1.4v1.4h-1.4zM1187.8 186.7h1.4v1.4h-1.4zM1397.2 10.3h1.4v1.4h-1.4zM1272.2 151.4h1.4v1.4h-1.4zM1392.3 31.5h1.4v1.4h-1.4zM1090.3 186.7h1.4v1.4h-1.4zM1530.5 7.1h1.4v1.4h-1.4zM1221.5 61.2h1.4v1.4h-1.4zM1214.6 93.2h1.4v1.4h-1.4zM1049.6 190.0h1.4v1.4h-1.4zM1163.7 82.2h1.4v1.4h-1.4zM1131.3 132.1h1.4v1.4h-1.4zM1308.0 65.8h1.4v1.4h-1.4zM1284.7 72.4h1.4v1.4h-1.4zM1228.9 137.0h1.4v1.4h-1.4zM1019.4 195.0h1.4v1.4h-1.4zM1319.8 151.6h1.4v1.4h-1.4zM1431.2 30.4h1.4v1.4h-1.4zM1467.0 66.0h1.4v1.4h-1.4zM1409.1 117.4h1.4v1.4h-1.4zM1172.9 156.3h1.4v1.4h-1.4zM1530.1 42.6h1.4v1.4h-1.4zM1063.5 182.4h1.4v1.4h-1.4zM1440.1 84.6h1.4v1.4h-1.4zM1001.6 160.8h1.4v1.4h-1.4zM990.6 180.8h1.4v1.4h-1.4zM1039.1 173.6h1.4v1.4h-1.4zM1389.4 1.3h1.4v1.4h-1.4zM1009.5 122.3h1.4v1.4h-1.4zM1240.6 113.2h1.4v1.4h-1.4zM1532.2 14.5h1.4v1.4h-1.4zM1526.0 99.2h1.4v1.4h-1.4zM1233.8 74.0h1.4v1.4h-1.4zM1198.8 134.6h1.4v1.4h-1.4zM1247.6 96.0h1.4v1.4h-1.4zM1419.7 62.3h1.4v1.4h-1.4zM1456.8 4.6h1.4v1.4h-1.4zM1297.7 85.4h1.4v1.4h-1.4zM1331.3 149.1h1.4v1.4h-1.4zM1287.9 121.1h1.4v1.4h-1.4zM1040.9 114.1h1.4v1.4h-1.4zM1519.4 0.2h1.4v1.4h-1.4zM1516.3 20.5h1.4v1.4h-1.4zM1079.1 173.3h1.4v1.4h-1.4zM1050.6 202.5h1.4v1.4h-1.4zM1323.9 56.1h1.4v1.4h-1.4zM1081.5 108.6h1.4v1.4h-1.4zM1481.5 19.4h1.4v1.4h-1.4zM1471.7 64.2h1.4v1.4h-1.4zM1179.7 129.1h1.4v1.4h-1.4zM1006.0 141.5h1.4v1.4h-1.4zM1096.9 97.1h1.4v1.4h-1.4zM1194.6 125.0h1.4v1.4h-1.4zM1427.6 54.8h1.4v1.4h-1.4zM1094.5 182.1h1.4v1.4h-1.4zM1133.7 145.7h1.4v1.4h-1.4zM1130.3 149.6h1.4v1.4h-1.4zM1437.2 44.3h1.4v1.4h-1.4zM1401.4 94.4h1.4v1.4h-1.4zM1359.4 24.3h1.4v1.4h-1.4zM1113.7 160.0h1.4v1.4h-1.4zM1126.2 173.4h1.4v1.4h-1.4zM1520.1 22.4h1.4v1.4h-1.4zM1245.1 131.8h1.4v1.4h-1.4zM1142.9 120.5h1.4v1.4h-1.4zM1409.6 122.0h1.4v1.4h-1.4zM1441.6 94.2h1.4v1.4h-1.4zM1035.7 182.5h1.4v1.4h-1.4z" fill="#ff5a8a" opacity="0.8"/>
<g fill="none" stroke-linejoin="round" stroke-linecap="round" filter="url(#b4)">
<path d="M1068.3,207.6 L1070.9,199.6 L1073.6,197.1 L1078.6,190.4 L1085.6,189.2 L1091.0,183.4 L1094.0,180.9 L1095.3,178.0 L1102.6,177.3 L1106.4,168.7 L1112.2,165.4 L1115.6,160.3 L1118.4,158.8 L1123.3,153.2 L1124.1,149.8 L1130.1,146.3 L1134.8,143.2 L1138.7,137.8 L1144.4,131.6 L1146.9,128.9 L1152.0,126.0" stroke="#ff3a7a" stroke-width="8" opacity="0.8"/>
<path d="M1219.2,198.8 L1222.7,195.9 L1230.5,188.7 L1235.3,185.4 L1241.1,180.9 L1249.1,177.5 L1254.4,175.2 L1261.0,165.0 L1270.1,166.5 L1272.7,164.1 L1280.4,160.1 L1282.5,156.9 L1285.2,155.8 L1289.7,149.4 L1296.0,146.8 L1299.6,143.9 L1299.5,140.0 L1311.5,136.8 L1320.5,133.2 L1323.6,128.7 L1330.3,126.8 L1331.9,129.6 L1341.0,120.9 L1345.1,113.9 L1347.9,112.9 L1350.9,108.3 L1356.6,104.0 L1362.7,103.0 L1371.6,94.8 L1371.3,90.3 L1380.0,88.0" stroke="#ff3a7a" stroke-width="10" opacity="0.8"/>
</g>
<g fill="none" stroke-linejoin="round" stroke-linecap="round" filter="url(#glow2)">
<path d="M1068.3,207.6 L1070.9,199.6 L1073.6,197.1 L1078.6,190.4 L1085.6,189.2 L1091.0,183.4 L1094.0,180.9 L1095.3,178.0 L1102.6,177.3 L1106.4,168.7 L1112.2,165.4 L1115.6,160.3 L1118.4,158.8 L1123.3,153.2 L1124.1,149.8 L1130.1,146.3 L1134.8,143.2 L1138.7,137.8 L1144.4,131.6 L1146.9,128.9 L1152.0,126.0" stroke="#ff6aa0" stroke-width="1.6" opacity="0.85"/>
<path d="M1219.2,198.8 L1222.7,195.9 L1230.5,188.7 L1235.3,185.4 L1241.1,180.9 L1249.1,177.5 L1254.4,175.2 L1261.0,165.0 L1270.1,166.5 L1272.7,164.1 L1280.4,160.1 L1282.5,156.9 L1285.2,155.8 L1289.7,149.4 L1296.0,146.8 L1299.6,143.9 L1299.5,140.0 L1311.5,136.8 L1320.5,133.2 L1323.6,128.7 L1330.3,126.8 L1331.9,129.6 L1341.0,120.9 L1345.1,113.9 L1347.9,112.9 L1350.9,108.3 L1356.6,104.0 L1362.7,103.0 L1371.6,94.8 L1371.3,90.3 L1380.0,88.0" stroke="#ff6aa0" stroke-width="1.8" opacity="0.9"/>
<path d="M1290.1,151.9 L1296.1,152.0 L1304.6,150.6 L1315.3,151.7 L1319.9,153.1 L1327.9,154.0 L1333.4,154.5 L1338.2,157.3 L1345.0,160.0" stroke="#ff4a8a" stroke-width="1.1" opacity="0.6"/>
</g>
<g fill="none" stroke="#a02a6a" stroke-width="0.9" opacity="0.6"><path d="M985,205 L998,192 L1003,182 L999,174 L1010,160"/><path d="M1310,205 L1480,110"/><path d="M1280,205 L1450,125"/><path d="M1390,205 L1392,100"/></g>
<g fill="#b040a0" opacity="0.75"><path d="M878,183 L890,177 L895,188 L883,194 Z"/><path d="M920,172 L927,160 L936,165 L928,177 Z"/></g>
<g fill="#ff5a90" filter="url(#glow2)" opacity="0.9"><path d="M1333,95 L1343,89 L1347,97 L1337,103 Z"/><ellipse cx="1314" cy="117" rx="4" ry="2.5" transform="rotate(-30 1314 117)"/><circle cx="1425" cy="117" r="1.5"/><ellipse cx="1372" cy="123" rx="3.5" ry="2" fill="#ff2040"/><ellipse cx="1307" cy="146" rx="3" ry="3" fill="#ff2040"/><path d="M1505,150 L1512,153 L1508,158 Z" fill="#ff80a0"/></g>
<g fill="#ff0f3c" filter="url(#glow2)"><rect x="1437" y="193" width="11.6" height="52.5"/><rect x="1442.3" y="167" width="1.2" height="97"/><rect x="1455" y="177" width="11" height="25"/><rect x="1460" y="111" width="1.2" height="106"/><rect x="1473.6" y="167.6" width="11.1" height="28.1"/><rect x="1478.6" y="151" width="1.2" height="57"/><rect x="1489.7" y="148" width="11.1" height="23.4"/><rect x="1494.7" y="121.6" width="1.2" height="101"/></g>
<g stroke="#b01a60" stroke-width="1" opacity="0.6" fill="none"><path d="M1433,290 L1536,245"/><path d="M1433,375 L1536,290"/><path d="M1433,385 L1536,352"/><path d="M1490,225 L1492,385"/><path d="M1498,220 L1499,410"/></g>
<g fill="#ff2040" filter="url(#glow2)"><circle cx="1478" cy="325" r="2"/><circle cx="1455" cy="380" r="1.5"/></g>
<path d="M1435.0 419.6h1.8v1.8h-1.8zM1435.0 426.2h1.8v1.8h-1.8zM1435.0 432.8h1.8v1.8h-1.8zM1435.0 439.4h1.8v1.8h-1.8zM1435.0 446.0h1.8v1.8h-1.8zM1435.0 452.6h1.8v1.8h-1.8zM1435.0 459.2h1.8v1.8h-1.8zM1441.4 412.4h1.8v1.8h-1.8zM1441.4 419.1h1.8v1.8h-1.8zM1441.4 425.6h1.8v1.8h-1.8zM1441.4 432.2h1.8v1.8h-1.8zM1441.4 438.8h1.8v1.8h-1.8zM1441.4 445.4h1.8v1.8h-1.8zM1441.4 452.1h1.8v1.8h-1.8zM1447.8 411.9h1.8v1.8h-1.8zM1447.8 418.5h1.8v1.8h-1.8zM1447.8 425.1h1.8v1.8h-1.8zM1447.8 431.7h1.8v1.8h-1.8zM1447.8 438.3h1.8v1.8h-1.8zM1447.8 444.9h1.8v1.8h-1.8zM1447.8 451.5h1.8v1.8h-1.8zM1447.8 458.1h1.8v1.8h-1.8zM1454.2 411.4h1.8v1.8h-1.8zM1454.2 418.0h1.8v1.8h-1.8zM1454.2 424.6h1.8v1.8h-1.8zM1454.2 431.2h1.8v1.8h-1.8zM1454.2 444.4h1.8v1.8h-1.8zM1454.2 451.0h1.8v1.8h-1.8zM1454.2 457.6h1.8v1.8h-1.8zM1460.6 410.8h1.8v1.8h-1.8zM1460.6 424.0h1.8v1.8h-1.8zM1460.6 430.6h1.8v1.8h-1.8zM1460.6 437.2h1.8v1.8h-1.8zM1460.6 443.8h1.8v1.8h-1.8zM1460.6 450.4h1.8v1.8h-1.8zM1460.6 457.0h1.8v1.8h-1.8zM1467.0 410.2h1.8v1.8h-1.8zM1467.0 416.9h1.8v1.8h-1.8zM1467.0 423.4h1.8v1.8h-1.8zM1467.0 430.1h1.8v1.8h-1.8zM1467.0 436.6h1.8v1.8h-1.8zM1467.0 443.2h1.8v1.8h-1.8zM1467.0 449.9h1.8v1.8h-1.8zM1473.4 409.7h1.8v1.8h-1.8zM1473.4 416.3h1.8v1.8h-1.8zM1473.4 422.9h1.8v1.8h-1.8zM1473.4 436.1h1.8v1.8h-1.8zM1473.4 442.7h1.8v1.8h-1.8zM1473.4 449.3h1.8v1.8h-1.8zM1473.4 455.9h1.8v1.8h-1.8zM1479.8 409.1h1.8v1.8h-1.8zM1479.8 415.8h1.8v1.8h-1.8zM1479.8 428.9h1.8v1.8h-1.8zM1479.8 435.5h1.8v1.8h-1.8zM1479.8 442.1h1.8v1.8h-1.8zM1479.8 448.8h1.8v1.8h-1.8zM1479.8 455.3h1.8v1.8h-1.8zM1486.2 408.6h1.8v1.8h-1.8zM1486.2 415.2h1.8v1.8h-1.8zM1486.2 428.4h1.8v1.8h-1.8zM1486.2 435.0h1.8v1.8h-1.8zM1486.2 441.6h1.8v1.8h-1.8zM1486.2 448.2h1.8v1.8h-1.8zM1486.2 454.8h1.8v1.8h-1.8zM1492.6 408.1h1.8v1.8h-1.8zM1492.6 414.7h1.8v1.8h-1.8zM1492.6 421.2h1.8v1.8h-1.8zM1492.6 427.9h1.8v1.8h-1.8zM1492.6 434.4h1.8v1.8h-1.8zM1492.6 441.1h1.8v1.8h-1.8zM1492.6 447.7h1.8v1.8h-1.8zM1492.6 454.2h1.8v1.8h-1.8zM1499.0 414.1h1.8v1.8h-1.8zM1499.0 420.7h1.8v1.8h-1.8zM1499.0 427.3h1.8v1.8h-1.8zM1499.0 433.9h1.8v1.8h-1.8zM1499.0 440.5h1.8v1.8h-1.8zM1499.0 453.7h1.8v1.8h-1.8zM1505.4 413.6h1.8v1.8h-1.8zM1505.4 420.1h1.8v1.8h-1.8zM1505.4 433.3h1.8v1.8h-1.8zM1505.4 439.9h1.8v1.8h-1.8zM1505.4 446.6h1.8v1.8h-1.8zM1505.4 453.1h1.8v1.8h-1.8zM1511.8 413.0h1.8v1.8h-1.8zM1511.8 419.6h1.8v1.8h-1.8zM1511.8 426.2h1.8v1.8h-1.8zM1511.8 432.8h1.8v1.8h-1.8zM1511.8 446.0h1.8v1.8h-1.8zM1511.8 452.6h1.8v1.8h-1.8zM1518.2 405.9h1.8v1.8h-1.8zM1518.2 425.7h1.8v1.8h-1.8zM1518.2 432.2h1.8v1.8h-1.8zM1518.2 445.5h1.8v1.8h-1.8zM1518.2 452.1h1.8v1.8h-1.8zM1524.6 405.3h1.8v1.8h-1.8zM1524.6 411.9h1.8v1.8h-1.8zM1524.6 418.5h1.8v1.8h-1.8zM1524.6 425.1h1.8v1.8h-1.8zM1524.6 431.7h1.8v1.8h-1.8zM1524.6 438.3h1.8v1.8h-1.8zM1524.6 451.5h1.8v1.8h-1.8z" fill="#ff3a80" opacity="0.8"/>
<g filter="url(#b8)"><ellipse cx="1436" cy="880" rx="16" ry="20" fill="#ff1020" opacity="0.95"/><ellipse cx="1458" cy="805" rx="30" ry="18" fill="#ff2030" opacity="0.8"/><ellipse cx="1476" cy="757" rx="18" ry="10" fill="#ff2030" opacity="0.35"/><ellipse cx="1508" cy="695" rx="10" ry="14" fill="#ff2030" opacity="0.25"/></g>
<line x1="1436" y1="658" x2="1441" y2="653" stroke="#ff3040" stroke-width="1.5" stroke-linecap="round" opacity="1.0" filter="url(#glow)"/>
<line x1="1467" y1="698" x2="1481" y2="686" stroke="#ff3040" stroke-width="2" stroke-linecap="round" opacity="1.0" filter="url(#glow)"/>
<line x1="1494" y1="733" x2="1503" y2="726" stroke="#ff4050" stroke-width="2" stroke-linecap="round" opacity="1.0" filter="url(#glow)"/>
<line x1="1469" y1="760" x2="1482" y2="751" stroke="#ff7080" stroke-width="2.5" stroke-linecap="round" opacity="1.0" filter="url(#glow)"/>
<line x1="1447" y1="812" x2="1467" y2="796" stroke="#fff0f0" stroke-width="4.5" stroke-linecap="round" opacity="1.0" filter="url(#glow)"/>
<line x1="1508" y1="906" x2="1519" y2="899" stroke="#ff4050" stroke-width="2" stroke-linecap="round" opacity="1.0" filter="url(#glow)"/>
<line x1="1465" y1="915" x2="1472" y2="912" stroke="#ff3040" stroke-width="1.5" stroke-linecap="round" opacity="1.0" filter="url(#glow)"/>
<g stroke="#ff2040" stroke-width="0.8" opacity="0.5"><path d="M1433,795 L1536,798"/><path d="M1433,808 L1536,830"/><path d="M1433,842 L1536,845"/><path d="M1433,880 L1536,888"/></g>
<line x1="61" y1="566" x2="75" y2="575" stroke="#ff4a30" stroke-width="2.5" stroke-linecap="round" opacity="1.0" filter="url(#glow)"/>
<line x1="84" y1="588" x2="91" y2="593" stroke="#a02818" stroke-width="1.5" stroke-linecap="round" opacity="1.0" filter="url(#glow)"/>
<line x1="55" y1="636" x2="66" y2="646" stroke="#2a78c8" stroke-width="2" stroke-linecap="round" opacity="1.0" filter="url(#glow)"/>
<line x1="68" y1="657" x2="73" y2="660" stroke="#2a70b0" stroke-width="1.5" stroke-linecap="round" opacity="1.0" filter="url(#glow)"/>
<line x1="44" y1="680" x2="51" y2="687" stroke="#f0e8e0" stroke-width="2.5" stroke-linecap="round" opacity="1.0" filter="url(#glow)"/>
<line x1="55" y1="715" x2="70" y2="725" stroke="#b0ecff" stroke-width="3" stroke-linecap="round" opacity="1.0" filter="url(#glow)"/>
<line x1="17" y1="762" x2="26" y2="769" stroke="#2a70b0" stroke-width="1.5" stroke-linecap="round" opacity="1.0" filter="url(#glow)"/>
<line x1="44" y1="790" x2="53" y2="799" stroke="#ff4a30" stroke-width="2" stroke-linecap="round" opacity="1.0" filter="url(#glow)"/>
<line x1="24" y1="901" x2="39" y2="911" stroke="#30d0ff" stroke-width="2.5" stroke-linecap="round" opacity="1.0" filter="url(#glow)"/>
<line x1="62" y1="922" x2="69" y2="929" stroke="#30c0ff" stroke-width="2" stroke-linecap="round" opacity="1.0" filter="url(#glow)"/>
<line x1="82" y1="980" x2="88" y2="987" stroke="#40d8ff" stroke-width="2" stroke-linecap="round" opacity="1.0" filter="url(#glow)"/>
<line x1="96" y1="981" x2="105" y2="990" stroke="#40d8ff" stroke-width="2.2" stroke-linecap="round" opacity="1.0" filter="url(#glow)"/>
<line x1="31" y1="988" x2="34" y2="989" stroke="#40c8ff" stroke-width="3" stroke-linecap="round" opacity="1.0" filter="url(#glow)"/>
<g filter="url(#b4)"><ellipse cx="74" cy="876" rx="12" ry="3.5" fill="#ff3020" opacity="0.7"/><ellipse cx="98" cy="650" rx="6" ry="12" fill="#a02020" opacity="0.3"/></g>
<radialGradient id="hz11"><stop offset="0" stop-color="#063550" stop-opacity="0.8"/><stop offset="0.3" stop-color="#063550" stop-opacity="0.640"/><stop offset="0.6" stop-color="#063550" stop-opacity="0.320"/><stop offset="0.8" stop-color="#063550" stop-opacity="0.104"/><stop offset="1" stop-color="#063550" stop-opacity="0"/></radialGradient><ellipse cx="300" cy="970" rx="390" ry="45" fill="url(#hz11)"/>
<radialGradient id="hz12"><stop offset="0" stop-color="#3a0a40" stop-opacity="0.7"/><stop offset="0.3" stop-color="#3a0a40" stop-opacity="0.560"/><stop offset="0.6" stop-color="#3a0a40" stop-opacity="0.280"/><stop offset="0.8" stop-color="#3a0a40" stop-opacity="0.091"/><stop offset="1" stop-color="#3a0a40" stop-opacity="0"/></radialGradient><ellipse cx="880" cy="975" rx="300" ry="52" fill="url(#hz12)"/>
<radialGradient id="hz13"><stop offset="0" stop-color="#3a0515" stop-opacity="0.7"/><stop offset="0.3" stop-color="#3a0515" stop-opacity="0.560"/><stop offset="0.6" stop-color="#3a0515" stop-opacity="0.280"/><stop offset="0.8" stop-color="#3a0515" stop-opacity="0.091"/><stop offset="1" stop-color="#3a0515" stop-opacity="0"/></radialGradient><ellipse cx="1300" cy="970" rx="300" ry="52" fill="url(#hz13)"/>
<g filter="url(#b16)"><ellipse cx="140" cy="962" rx="55" ry="16" fill="#20b0ff" opacity="0.8"/><ellipse cx="430" cy="958" rx="35" ry="14" fill="#20a0f0" opacity="0.7"/><ellipse cx="146" cy="989" rx="16" ry="8" fill="#30c0ff" opacity="0.7"/><ellipse cx="495" cy="978" rx="22" ry="12" fill="#30c0ff" opacity="0.7"/><ellipse cx="1035" cy="972" rx="30" ry="16" fill="#ff30c0" opacity="0.75"/><ellipse cx="1155" cy="988" rx="25" ry="10" fill="#ff40d0" opacity="0.6"/><ellipse cx="1397" cy="960" rx="45" ry="22" fill="#ff1030" opacity="1"/><ellipse cx="1330" cy="985" rx="50" ry="14" fill="#c01030" opacity="0.5"/></g>
<defs><linearGradient id="tl1" gradientUnits="userSpaceOnUse" x1="15" y1="0" x2="470" y2="0"><stop offset="0" stop-color="#30ccff" stop-opacity="0.3"/><stop offset="0.2" stop-color="#30ccff" stop-opacity="0.9"/><stop offset="1" stop-color="#30ccff"/></linearGradient></defs>
<g fill="none" stroke-linecap="round" filter="url(#glowB)"><path d="M15,947 L332,947 L349,964 L470,964" stroke="url(#tl1)" stroke-width="1.6"/><path d="M30,963 L125,963" stroke="#1a9ad0" stroke-width="1"/><path d="M277,971 L470,971" stroke="#28c0f0" stroke-width="1.2"/><path d="M1053,963 L1178.5,963 L1195.4,947 L1513,947" stroke="#ff50c8" stroke-width="1.6"/><path d="M1053,969.5 L1241,969.5" stroke="#e040b0" stroke-width="1.1"/><path d="M1420,964 L1480,964" stroke="#ff3050" stroke-width="1"/></g>
<g fill="none" stroke-linecap="round"><path d="M250,957 L281,985" stroke="#1a80b0" stroke-width="1"/><path d="M1241,984 L1273,952" stroke="#e03080" stroke-width="1"/><path d="M0,986 L1536,986" stroke="#2a6a9a" stroke-width="0.8" opacity="0.3"/></g>
<defs><linearGradient id="hl" gradientUnits="userSpaceOnUse" x1="0" y1="0" x2="1536" y2="0"><stop offset="0" stop-color="#1a80c0" stop-opacity="0.08"/><stop offset="0.2" stop-color="#28b0f0" stop-opacity="0.15"/><stop offset="0.33" stop-color="#28b0f0" stop-opacity="0.5"/><stop offset="0.42" stop-color="#30c0f8" stop-opacity="0.85"/><stop offset="0.47" stop-color="#40c8ff"/><stop offset="0.5" stop-color="#ffffff"/><stop offset="0.53" stop-color="#f050ff"/><stop offset="0.7" stop-color="#c03ab0" stop-opacity="0.7"/><stop offset="0.85" stop-color="#c03ab0" stop-opacity="0.4"/><stop offset="1" stop-color="#a02040" stop-opacity="0.15"/></linearGradient></defs>
<rect x="0" y="980" width="1536" height="2" fill="url(#hl)" filter="url(#glowB)"/>
<g filter="url(#glow)">
<path d="M123.7,953.4 L140.6,953.4 L158.8,971.7 L141.9,971.7 Z" fill="#f0fcff"/>
<path d="M153.6,956 L160.1,956 L169.2,965.5 L162.7,965.5 Z" fill="#40d8ff"/>
<path d="M170.2,956 L176.7,956 L185.8,965.5 L179.3,965.5 Z" fill="#40d8ff"/>
<path d="M186.8,956 L193.3,956 L202.4,965.5 L195.9,965.5 Z" fill="#40d8ff"/>
<path d="M203.4,956 L209.9,956 L219.0,965.5 L212.5,965.5 Z" fill="#40d8ff"/>
<path d="M220,954.5 L232,954.5 L248,967 L236,967 Z" fill="#50dcff"/><path d="M236,954.5 L242,954.5 L253,966 L247,966 Z" fill="#40c8f0"/>
<path d="M273.4,952 L278.4,952 L287.4,964 L282.4,964 Z" fill="#38d0ff"/>
<path d="M284.4,952 L289.4,952 L298.4,964 L293.4,964 Z" fill="#38d0ff"/>
<path d="M295.4,952 L300.4,952 L309.4,964 L304.4,964 Z" fill="#38d0ff"/>
<path d="M306.4,952 L311.4,952 L320.4,964 L315.4,964 Z" fill="#38d0ff"/>
<path d="M317.4,952 L322.4,952 L331.4,964 L326.4,964 Z" fill="#38d0ff"/>
<path d="M470,963 L480,963 L505,985 L495,985 Z" fill="#d0f6ff"/>
<path d="M1016,984 L1030,957 L1053,957 L1039,984 Z" fill="#ff80e8"/>
<path d="M1205,952 L1209,952 L1202,962 L1198,962 Z" fill="#ff50c0"/>
<path d="M1218,952 L1222,952 L1215,962 L1211,962 Z" fill="#ff50c0"/>
<path d="M1231,952 L1235,952 L1228,962 L1224,962 Z" fill="#ff50c0"/>
<path d="M1244,952 L1248,952 L1241,962 L1237,962 Z" fill="#ff50c0"/>
<path d="M1273,969 L1283,952 L1300,952 L1290,969 Z" fill="#ff50b0"/>
<path d="M1310,952 L1315,952 L1309,965 L1304,965 Z" fill="#ff4070"/>
<path d="M1323,952 L1328,952 L1322,965 L1317,965 Z" fill="#ff4070"/>
<path d="M1336,952 L1341,952 L1335,965 L1330,965 Z" fill="#ff4070"/>
<path d="M1349,952 L1354,952 L1348,965 L1343,965 Z" fill="#ff4070"/>
<path d="M1362,952 L1367,952 L1361,965 L1356,965 Z" fill="#ff4070"/>
<path d="M1375,952 L1380,952 L1374,965 L1369,965 Z" fill="#ff4070"/>
<path d="M1380,969 L1395,952 L1414,952 L1399,969 Z" fill="#fff0f0"/>
</g>
<g filter="url(#b4)"><ellipse cx="770.5" cy="981" rx="22" ry="5" fill="#ffffff" opacity="0.8"/><ellipse cx="770.5" cy="981" rx="6" ry="10" fill="#e0a0ff" opacity="0.6"/></g>
<g filter="url(#glow2)"><circle cx="770.5" cy="981" r="2.8" fill="#ffffff"/><rect x="745" y="980.4" width="51" height="1.2" fill="#ffffff"/><rect x="770" y="970" width="1" height="22" fill="#ffffff" opacity="0.8"/></g>
<rect x="770" y="921" width="1.6" height="58" fill="#a050f0" opacity="0.8" filter="url(#glow2)"/><rect x="770" y="984" width="1.6" height="40" fill="#3050c0" opacity="0.7"/>
<rect x="0" y="928" width="1536" height="4" fill="#203a70" opacity="0.25" filter="url(#b2)"/>
<radialGradient id="hz14"><stop offset="0" stop-color="#e030c0" stop-opacity="0.5"/><stop offset="0.3" stop-color="#e030c0" stop-opacity="0.400"/><stop offset="0.6" stop-color="#e030c0" stop-opacity="0.200"/><stop offset="0.8" stop-color="#e030c0" stop-opacity="0.065"/><stop offset="1" stop-color="#e030c0" stop-opacity="0"/></radialGradient><ellipse cx="921" cy="950" rx="30" ry="60" fill="url(#hz14)"/>
<g filter="url(#b4)"><ellipse cx="921.7" cy="942" rx="6" ry="18" fill="#ff60f0" opacity="0.95"/></g>
<g filter="url(#b2)" stroke-width="3" opacity="0.55" fill="none"><path d="M859,921 L901,1024" stroke="#c030c0"/><path d="M965,921 L1003,962" stroke="#c030b0"/><path d="M703,921 L675,995" stroke="#1a8ac0"/></g>
<path d="M421.2 1008.3h1.2v1.2h-1.2zM485.1 1017.8h1.2v1.2h-1.2zM748.8 998.2h1.2v1.2h-1.2zM178.3 955.9h1.2v1.2h-1.2zM663.6 1009.7h1.2v1.2h-1.2zM365.6 977.7h1.2v1.2h-1.2zM735.4 1013.6h1.2v1.2h-1.2zM534.4 958.2h1.2v1.2h-1.2zM560.3 1020.6h1.2v1.2h-1.2zM237.7 953.3h1.2v1.2h-1.2zM181.2 942.7h1.2v1.2h-1.2zM457.0 936.3h1.2v1.2h-1.2zM333.2 1019.2h1.2v1.2h-1.2zM711.1 994.0h1.2v1.2h-1.2zM696.9 994.8h1.2v1.2h-1.2zM375.9 959.4h1.2v1.2h-1.2zM451.1 999.6h1.2v1.2h-1.2zM206.8 962.9h1.2v1.2h-1.2zM684.7 944.9h1.2v1.2h-1.2zM557.2 997.8h1.2v1.2h-1.2zM309.2 961.3h1.2v1.2h-1.2zM661.9 943.6h1.2v1.2h-1.2zM711.7 931.1h1.2v1.2h-1.2zM374.6 952.5h1.2v1.2h-1.2zM378.5 983.8h1.2v1.2h-1.2zM738.5 989.7h1.2v1.2h-1.2zM161.1 1005.1h1.2v1.2h-1.2zM386.9 1016.7h1.2v1.2h-1.2zM287.1 1012.0h1.2v1.2h-1.2zM645.0 956.6h1.2v1.2h-1.2zM653.6 1004.8h1.2v1.2h-1.2zM646.4 989.4h1.2v1.2h-1.2zM315.5 988.3h1.2v1.2h-1.2zM574.5 1017.4h1.2v1.2h-1.2zM432.1 1013.6h1.2v1.2h-1.2zM712.6 989.6h1.2v1.2h-1.2zM180.5 1009.4h1.2v1.2h-1.2zM334.4 981.7h1.2v1.2h-1.2zM458.3 988.3h1.2v1.2h-1.2zM705.5 938.2h1.2v1.2h-1.2zM382.0 968.6h1.2v1.2h-1.2zM283.5 1012.4h1.2v1.2h-1.2zM433.2 1003.2h1.2v1.2h-1.2zM598.7 1008.8h1.2v1.2h-1.2zM200.3 957.8h1.2v1.2h-1.2zM538.3 988.7h1.2v1.2h-1.2zM540.6 966.8h1.2v1.2h-1.2zM198.7 974.8h1.2v1.2h-1.2zM530.6 1013.6h1.2v1.2h-1.2zM363.7 1010.5h1.2v1.2h-1.2zM743.5 1009.3h1.2v1.2h-1.2zM764.4 1009.6h1.2v1.2h-1.2zM320.7 1004.8h1.2v1.2h-1.2zM767.1 1001.0h1.2v1.2h-1.2zM337.3 964.1h1.2v1.2h-1.2zM665.5 1008.8h1.2v1.2h-1.2zM198.4 997.4h1.2v1.2h-1.2zM260.1 982.9h1.2v1.2h-1.2zM172.0 976.6h1.2v1.2h-1.2zM264.3 936.5h1.2v1.2h-1.2zM591.8 942.3h1.2v1.2h-1.2zM547.3 936.7h1.2v1.2h-1.2zM171.4 1006.2h1.2v1.2h-1.2zM742.2 1020.5h1.2v1.2h-1.2zM420.2 1021.5h1.2v1.2h-1.2zM496.4 932.8h1.2v1.2h-1.2zM692.6 986.8h1.2v1.2h-1.2zM271.6 1013.1h1.2v1.2h-1.2zM441.6 999.4h1.2v1.2h-1.2zM399.6 1009.8h1.2v1.2h-1.2zM445.6 944.3h1.2v1.2h-1.2zM200.3 1001.4h1.2v1.2h-1.2zM415.8 1015.1h1.2v1.2h-1.2zM469.7 962.9h1.2v1.2h-1.2zM626.4 966.1h1.2v1.2h-1.2zM496.9 998.8h1.2v1.2h-1.2zM726.5 989.8h1.2v1.2h-1.2zM253.4 969.0h1.2v1.2h-1.2zM478.8 933.9h1.2v1.2h-1.2zM563.0 936.0h1.2v1.2h-1.2zM542.3 942.2h1.2v1.2h-1.2zM368.7 927.8h1.2v1.2h-1.2zM545.6 1016.5h1.2v1.2h-1.2zM389.9 964.9h1.2v1.2h-1.2zM453.4 1006.8h1.2v1.2h-1.2zM267.6 1019.4h1.2v1.2h-1.2zM160.0 997.2h1.2v1.2h-1.2zM532.6 1012.7h1.2v1.2h-1.2zM310.5 974.7h1.2v1.2h-1.2zM764.5 1020.0h1.2v1.2h-1.2zM392.4 972.1h1.2v1.2h-1.2zM368.7 1008.0h1.2v1.2h-1.2zM362.4 1005.2h1.2v1.2h-1.2zM339.5 1001.3h1.2v1.2h-1.2zM565.9 1020.7h1.2v1.2h-1.2zM276.6 1021.4h1.2v1.2h-1.2zM590.4 951.0h1.2v1.2h-1.2zM244.1 960.0h1.2v1.2h-1.2zM729.3 990.5h1.2v1.2h-1.2zM430.6 1005.7h1.2v1.2h-1.2zM523.7 1018.4h1.2v1.2h-1.2zM643.0 999.0h1.2v1.2h-1.2zM522.7 998.4h1.2v1.2h-1.2zM749.1 1012.3h1.2v1.2h-1.2zM212.0 937.8h1.2v1.2h-1.2zM404.4 1006.3h1.2v1.2h-1.2zM452.5 969.1h1.2v1.2h-1.2zM444.4 1011.5h1.2v1.2h-1.2zM419.9 995.3h1.2v1.2h-1.2zM481.6 992.9h1.2v1.2h-1.2zM297.9 1002.9h1.2v1.2h-1.2zM503.3 935.4h1.2v1.2h-1.2zM485.0 963.9h1.2v1.2h-1.2zM621.0 976.7h1.2v1.2h-1.2zM207.8 994.8h1.2v1.2h-1.2zM290.2 1015.7h1.2v1.2h-1.2zM537.4 977.9h1.2v1.2h-1.2zM500.8 987.8h1.2v1.2h-1.2zM513.1 990.3h1.2v1.2h-1.2zM592.2 939.8h1.2v1.2h-1.2zM176.7 993.1h1.2v1.2h-1.2zM573.6 1005.5h1.2v1.2h-1.2zM352.6 1010.1h1.2v1.2h-1.2zM293.1 1007.5h1.2v1.2h-1.2zM281.5 958.8h1.2v1.2h-1.2zM593.2 963.2h1.2v1.2h-1.2zM749.5 989.9h1.2v1.2h-1.2zM164.1 977.9h1.2v1.2h-1.2zM178.5 1003.8h1.2v1.2h-1.2zM486.7 1009.0h1.2v1.2h-1.2zM441.7 1007.1h1.2v1.2h-1.2zM692.0 1008.0h1.2v1.2h-1.2zM350.7 932.8h1.2v1.2h-1.2zM656.7 952.5h1.2v1.2h-1.2zM199.2 949.7h1.2v1.2h-1.2zM520.5 1019.1h1.2v1.2h-1.2zM477.4 987.1h1.2v1.2h-1.2zM202.1 965.1h1.2v1.2h-1.2zM389.4 938.5h1.2v1.2h-1.2zM250.4 994.8h1.2v1.2h-1.2zM225.3 1002.7h1.2v1.2h-1.2zM207.7 959.3h1.2v1.2h-1.2zM664.5 963.8h1.2v1.2h-1.2zM477.4 1018.8h1.2v1.2h-1.2zM334.7 1004.2h1.2v1.2h-1.2zM290.3 998.4h1.2v1.2h-1.2zM348.1 970.0h1.2v1.2h-1.2zM719.3 1019.4h1.2v1.2h-1.2zM363.2 1005.2h1.2v1.2h-1.2zM260.8 988.5h1.2v1.2h-1.2zM205.5 982.5h1.2v1.2h-1.2zM415.9 999.4h1.2v1.2h-1.2zM536.6 1000.1h1.2v1.2h-1.2zM693.3 975.3h1.2v1.2h-1.2zM166.2 930.1h1.2v1.2h-1.2zM757.6 943.6h1.2v1.2h-1.2zM763.7 954.9h1.2v1.2h-1.2zM571.0 986.4h1.2v1.2h-1.2zM217.6 936.5h1.2v1.2h-1.2zM590.2 1018.6h1.2v1.2h-1.2zM732.3 991.9h1.2v1.2h-1.2zM160.0 1012.0h1.2v1.2h-1.2zM157.5 997.4h1.2v1.2h-1.2zM625.1 938.0h1.2v1.2h-1.2zM439.5 1005.6h1.2v1.2h-1.2zM282.6 976.4h1.2v1.2h-1.2zM209.4 986.2h1.2v1.2h-1.2zM182.9 1015.2h1.2v1.2h-1.2zM714.6 953.4h1.2v1.2h-1.2zM411.5 975.6h1.2v1.2h-1.2zM692.7 1000.9h1.2v1.2h-1.2zM505.5 1020.0h1.2v1.2h-1.2zM590.1 974.0h1.2v1.2h-1.2zM414.8 941.4h1.2v1.2h-1.2zM623.1 991.1h1.2v1.2h-1.2zM201.9 981.3h1.2v1.2h-1.2zM721.9 986.1h1.2v1.2h-1.2zM456.0 983.1h1.2v1.2h-1.2zM630.7 994.1h1.2v1.2h-1.2zM354.9 982.5h1.2v1.2h-1.2zM593.4 1004.8h1.2v1.2h-1.2zM624.8 928.9h1.2v1.2h-1.2zM164.7 928.4h1.2v1.2h-1.2zM732.8 1016.9h1.2v1.2h-1.2zM619.9 985.7h1.2v1.2h-1.2zM684.9 954.5h1.2v1.2h-1.2zM612.2 925.2h1.2v1.2h-1.2zM225.7 1001.4h1.2v1.2h-1.2zM535.1 971.4h1.2v1.2h-1.2zM379.8 968.7h1.2v1.2h-1.2zM555.0 993.4h1.2v1.2h-1.2zM459.0 931.3h1.2v1.2h-1.2zM736.2 979.9h1.2v1.2h-1.2zM267.1 995.2h1.2v1.2h-1.2zM263.4 1007.8h1.2v1.2h-1.2zM276.7 939.9h1.2v1.2h-1.2zM174.2 942.1h1.2v1.2h-1.2zM321.6 1011.8h1.2v1.2h-1.2zM159.3 943.5h1.2v1.2h-1.2zM277.2 986.8h1.2v1.2h-1.2zM458.1 940.7h1.2v1.2h-1.2zM351.8 944.0h1.2v1.2h-1.2zM435.3 976.0h1.2v1.2h-1.2zM634.5 1000.6h1.2v1.2h-1.2zM521.2 955.6h1.2v1.2h-1.2zM307.1 1011.9h1.2v1.2h-1.2zM328.5 1017.2h1.2v1.2h-1.2zM203.5 986.9h1.2v1.2h-1.2zM493.5 998.1h1.2v1.2h-1.2zM670.3 939.3h1.2v1.2h-1.2zM216.6 973.5h1.2v1.2h-1.2zM420.5 991.0h1.2v1.2h-1.2zM312.1 1009.0h1.2v1.2h-1.2zM704.2 985.3h1.2v1.2h-1.2zM678.7 938.6h1.2v1.2h-1.2zM166.2 939.5h1.2v1.2h-1.2z" fill="#40b8e8" opacity="0.55"/>
<path d="M954.1 1018.3h1.2v1.2h-1.2zM772.1 985.0h1.2v1.2h-1.2zM1045.2 1016.0h1.2v1.2h-1.2zM918.6 965.3h1.2v1.2h-1.2zM1120.5 931.5h1.2v1.2h-1.2zM1153.5 965.2h1.2v1.2h-1.2zM882.4 929.9h1.2v1.2h-1.2zM1048.8 1008.2h1.2v1.2h-1.2zM1142.4 1018.3h1.2v1.2h-1.2zM1023.0 938.7h1.2v1.2h-1.2zM1075.3 1015.0h1.2v1.2h-1.2zM870.1 1013.1h1.2v1.2h-1.2zM892.5 936.9h1.2v1.2h-1.2zM871.8 986.7h1.2v1.2h-1.2zM782.9 990.6h1.2v1.2h-1.2zM980.0 1003.1h1.2v1.2h-1.2zM857.1 1019.4h1.2v1.2h-1.2zM1004.1 938.5h1.2v1.2h-1.2zM822.9 985.2h1.2v1.2h-1.2zM825.7 980.4h1.2v1.2h-1.2zM1136.9 1011.9h1.2v1.2h-1.2zM1035.4 964.3h1.2v1.2h-1.2zM1159.5 930.2h1.2v1.2h-1.2zM826.5 982.2h1.2v1.2h-1.2zM1182.1 1000.4h1.2v1.2h-1.2zM771.4 1000.0h1.2v1.2h-1.2zM967.0 998.7h1.2v1.2h-1.2zM1118.1 959.6h1.2v1.2h-1.2zM1141.7 947.0h1.2v1.2h-1.2zM857.7 1009.4h1.2v1.2h-1.2zM853.5 952.3h1.2v1.2h-1.2zM1031.4 999.5h1.2v1.2h-1.2zM981.0 1006.8h1.2v1.2h-1.2zM995.7 1002.5h1.2v1.2h-1.2zM876.2 996.6h1.2v1.2h-1.2zM1046.2 1015.7h1.2v1.2h-1.2zM932.2 1015.3h1.2v1.2h-1.2zM911.7 979.8h1.2v1.2h-1.2zM1227.3 926.4h1.2v1.2h-1.2zM980.8 1003.1h1.2v1.2h-1.2zM953.2 926.9h1.2v1.2h-1.2zM800.6 976.9h1.2v1.2h-1.2zM770.5 993.1h1.2v1.2h-1.2zM914.7 991.2h1.2v1.2h-1.2zM1129.6 939.2h1.2v1.2h-1.2zM993.2 1017.1h1.2v1.2h-1.2zM1178.7 959.0h1.2v1.2h-1.2zM997.8 967.5h1.2v1.2h-1.2zM979.2 950.1h1.2v1.2h-1.2zM950.6 1003.7h1.2v1.2h-1.2zM1037.2 1005.8h1.2v1.2h-1.2zM933.3 969.1h1.2v1.2h-1.2zM1216.9 968.2h1.2v1.2h-1.2zM1050.6 951.0h1.2v1.2h-1.2zM1211.2 943.3h1.2v1.2h-1.2zM943.9 944.3h1.2v1.2h-1.2zM971.6 991.8h1.2v1.2h-1.2zM971.5 1013.5h1.2v1.2h-1.2zM940.9 1007.0h1.2v1.2h-1.2zM1045.1 1017.5h1.2v1.2h-1.2zM1012.0 949.1h1.2v1.2h-1.2zM1036.9 977.3h1.2v1.2h-1.2zM941.0 1010.7h1.2v1.2h-1.2zM1020.4 949.0h1.2v1.2h-1.2zM854.6 991.5h1.2v1.2h-1.2zM1049.8 934.9h1.2v1.2h-1.2zM846.1 998.9h1.2v1.2h-1.2zM801.2 1013.0h1.2v1.2h-1.2zM829.8 1013.3h1.2v1.2h-1.2zM958.2 939.1h1.2v1.2h-1.2zM1095.1 1010.2h1.2v1.2h-1.2zM1023.4 946.9h1.2v1.2h-1.2zM918.2 991.2h1.2v1.2h-1.2zM917.0 1015.6h1.2v1.2h-1.2zM1045.8 942.5h1.2v1.2h-1.2zM996.3 937.1h1.2v1.2h-1.2zM1168.4 961.3h1.2v1.2h-1.2zM1021.5 930.7h1.2v1.2h-1.2zM791.6 990.8h1.2v1.2h-1.2zM954.4 1015.0h1.2v1.2h-1.2zM1080.8 929.8h1.2v1.2h-1.2zM1153.7 975.5h1.2v1.2h-1.2zM1082.2 941.9h1.2v1.2h-1.2zM974.2 967.9h1.2v1.2h-1.2zM1176.0 931.0h1.2v1.2h-1.2zM1101.0 945.5h1.2v1.2h-1.2zM988.0 952.0h1.2v1.2h-1.2zM1093.9 1011.9h1.2v1.2h-1.2zM1000.9 941.8h1.2v1.2h-1.2zM1183.5 1002.7h1.2v1.2h-1.2zM1190.2 970.8h1.2v1.2h-1.2zM793.2 992.1h1.2v1.2h-1.2zM1196.9 998.5h1.2v1.2h-1.2zM1081.2 1005.9h1.2v1.2h-1.2zM1002.8 945.3h1.2v1.2h-1.2zM1171.3 950.7h1.2v1.2h-1.2zM1203.0 987.8h1.2v1.2h-1.2zM1128.5 982.5h1.2v1.2h-1.2zM809.9 972.8h1.2v1.2h-1.2zM774.0 999.7h1.2v1.2h-1.2zM1154.0 964.6h1.2v1.2h-1.2zM1148.9 958.0h1.2v1.2h-1.2zM1157.6 1005.5h1.2v1.2h-1.2zM1036.7 992.2h1.2v1.2h-1.2zM1053.9 965.0h1.2v1.2h-1.2zM1109.1 932.6h1.2v1.2h-1.2zM922.8 1016.6h1.2v1.2h-1.2zM877.0 929.3h1.2v1.2h-1.2zM895.2 1012.4h1.2v1.2h-1.2zM1009.6 978.9h1.2v1.2h-1.2zM818.3 979.9h1.2v1.2h-1.2zM1180.1 1001.4h1.2v1.2h-1.2zM948.9 993.6h1.2v1.2h-1.2zM1090.2 964.4h1.2v1.2h-1.2zM1130.6 925.1h1.2v1.2h-1.2zM955.3 1003.6h1.2v1.2h-1.2zM1060.5 985.3h1.2v1.2h-1.2zM1156.2 1014.9h1.2v1.2h-1.2zM1153.3 997.5h1.2v1.2h-1.2zM780.3 962.9h1.2v1.2h-1.2zM1139.2 947.9h1.2v1.2h-1.2zM819.6 1020.0h1.2v1.2h-1.2zM1016.2 1011.1h1.2v1.2h-1.2zM1165.1 950.4h1.2v1.2h-1.2zM825.2 1011.6h1.2v1.2h-1.2zM964.8 961.8h1.2v1.2h-1.2zM999.1 946.8h1.2v1.2h-1.2zM995.0 1021.8h1.2v1.2h-1.2zM825.6 963.7h1.2v1.2h-1.2zM958.7 965.5h1.2v1.2h-1.2zM937.5 949.5h1.2v1.2h-1.2zM924.8 1010.8h1.2v1.2h-1.2zM944.7 954.5h1.2v1.2h-1.2zM771.5 987.5h1.2v1.2h-1.2zM771.7 976.5h1.2v1.2h-1.2zM909.9 963.4h1.2v1.2h-1.2zM797.9 1000.4h1.2v1.2h-1.2zM803.4 1011.6h1.2v1.2h-1.2zM958.6 1007.2h1.2v1.2h-1.2zM1117.2 1008.2h1.2v1.2h-1.2zM885.3 990.3h1.2v1.2h-1.2zM1029.1 997.6h1.2v1.2h-1.2zM787.6 1021.1h1.2v1.2h-1.2zM1136.2 988.5h1.2v1.2h-1.2zM1013.3 956.3h1.2v1.2h-1.2zM1144.0 1020.6h1.2v1.2h-1.2zM1079.8 949.2h1.2v1.2h-1.2zM1201.5 934.7h1.2v1.2h-1.2zM1088.9 958.4h1.2v1.2h-1.2zM904.5 992.9h1.2v1.2h-1.2zM805.5 977.5h1.2v1.2h-1.2zM1191.0 961.4h1.2v1.2h-1.2zM815.6 1019.6h1.2v1.2h-1.2zM1201.8 926.6h1.2v1.2h-1.2zM1035.3 1016.8h1.2v1.2h-1.2zM946.6 1017.7h1.2v1.2h-1.2zM1002.9 943.1h1.2v1.2h-1.2zM1035.3 981.9h1.2v1.2h-1.2zM863.1 991.9h1.2v1.2h-1.2zM1011.5 1003.0h1.2v1.2h-1.2zM1218.5 956.5h1.2v1.2h-1.2zM1131.2 995.5h1.2v1.2h-1.2zM1218.9 945.7h1.2v1.2h-1.2zM993.4 980.7h1.2v1.2h-1.2zM920.9 992.1h1.2v1.2h-1.2zM1096.8 933.7h1.2v1.2h-1.2zM1223.0 971.7h1.2v1.2h-1.2zM1173.9 1003.4h1.2v1.2h-1.2zM1075.2 986.3h1.2v1.2h-1.2zM1227.3 999.9h1.2v1.2h-1.2zM837.2 973.4h1.2v1.2h-1.2zM939.4 945.5h1.2v1.2h-1.2z" fill="#e050d0" opacity="0.5"/>
<path d="M1378.2 982.8h1.2v1.2h-1.2zM1267.6 1011.7h1.2v1.2h-1.2zM1347.3 1013.7h1.2v1.2h-1.2zM1341.9 925.2h1.2v1.2h-1.2zM1362.1 1008.5h1.2v1.2h-1.2zM1263.1 972.9h1.2v1.2h-1.2zM1430.2 959.7h1.2v1.2h-1.2zM1437.8 1005.3h1.2v1.2h-1.2zM1382.1 979.7h1.2v1.2h-1.2zM1366.0 940.6h1.2v1.2h-1.2zM1385.1 1008.0h1.2v1.2h-1.2zM1393.2 993.4h1.2v1.2h-1.2zM1376.9 984.3h1.2v1.2h-1.2zM1445.1 1016.7h1.2v1.2h-1.2zM1290.8 1004.0h1.2v1.2h-1.2zM1308.2 938.4h1.2v1.2h-1.2zM1351.1 949.4h1.2v1.2h-1.2zM1393.6 1009.7h1.2v1.2h-1.2zM1293.8 1007.6h1.2v1.2h-1.2zM1378.5 990.1h1.2v1.2h-1.2zM1270.8 998.1h1.2v1.2h-1.2zM1391.3 969.1h1.2v1.2h-1.2zM1323.5 955.7h1.2v1.2h-1.2zM1337.2 1013.0h1.2v1.2h-1.2zM1405.2 963.7h1.2v1.2h-1.2zM1363.9 1010.8h1.2v1.2h-1.2zM1282.8 997.4h1.2v1.2h-1.2zM1253.8 1007.7h1.2v1.2h-1.2zM1387.5 952.0h1.2v1.2h-1.2zM1357.8 956.6h1.2v1.2h-1.2zM1300.9 927.1h1.2v1.2h-1.2zM1424.0 936.3h1.2v1.2h-1.2zM1304.4 987.9h1.2v1.2h-1.2zM1406.8 996.1h1.2v1.2h-1.2zM1427.9 1015.9h1.2v1.2h-1.2zM1243.0 1016.1h1.2v1.2h-1.2zM1271.3 993.6h1.2v1.2h-1.2zM1378.7 1016.3h1.2v1.2h-1.2zM1366.2 998.4h1.2v1.2h-1.2zM1318.2 988.7h1.2v1.2h-1.2zM1238.0 998.4h1.2v1.2h-1.2zM1338.8 947.1h1.2v1.2h-1.2zM1257.2 1006.5h1.2v1.2h-1.2zM1321.6 989.1h1.2v1.2h-1.2zM1237.8 935.4h1.2v1.2h-1.2zM1448.0 956.8h1.2v1.2h-1.2zM1415.4 964.5h1.2v1.2h-1.2zM1337.8 974.7h1.2v1.2h-1.2zM1415.5 933.0h1.2v1.2h-1.2zM1313.0 1021.7h1.2v1.2h-1.2zM1296.7 989.8h1.2v1.2h-1.2zM1394.5 1008.8h1.2v1.2h-1.2zM1310.7 1012.6h1.2v1.2h-1.2zM1349.0 1005.9h1.2v1.2h-1.2zM1388.2 1007.1h1.2v1.2h-1.2zM1394.4 976.1h1.2v1.2h-1.2zM1437.3 1004.0h1.2v1.2h-1.2zM1342.8 989.2h1.2v1.2h-1.2zM1308.5 994.2h1.2v1.2h-1.2zM1241.9 958.6h1.2v1.2h-1.2zM1392.6 1019.3h1.2v1.2h-1.2zM1353.9 1017.6h1.2v1.2h-1.2zM1280.5 989.8h1.2v1.2h-1.2zM1399.7 993.5h1.2v1.2h-1.2zM1289.5 983.1h1.2v1.2h-1.2zM1343.6 999.7h1.2v1.2h-1.2zM1331.7 998.2h1.2v1.2h-1.2zM1400.1 994.5h1.2v1.2h-1.2zM1285.5 942.0h1.2v1.2h-1.2zM1417.6 991.0h1.2v1.2h-1.2zM1374.8 1017.5h1.2v1.2h-1.2zM1355.4 1007.0h1.2v1.2h-1.2zM1363.7 1003.1h1.2v1.2h-1.2zM1312.7 966.0h1.2v1.2h-1.2zM1304.9 936.9h1.2v1.2h-1.2zM1292.9 1019.9h1.2v1.2h-1.2zM1400.2 1002.1h1.2v1.2h-1.2zM1254.0 993.3h1.2v1.2h-1.2zM1237.7 1009.5h1.2v1.2h-1.2zM1327.3 998.9h1.2v1.2h-1.2zM1263.9 1015.0h1.2v1.2h-1.2zM1327.4 984.5h1.2v1.2h-1.2zM1362.0 990.2h1.2v1.2h-1.2zM1282.4 1000.4h1.2v1.2h-1.2zM1314.1 951.6h1.2v1.2h-1.2zM1325.4 1000.0h1.2v1.2h-1.2zM1336.5 929.8h1.2v1.2h-1.2zM1304.9 982.1h1.2v1.2h-1.2zM1408.4 1005.2h1.2v1.2h-1.2zM1376.0 981.2h1.2v1.2h-1.2zM1354.3 1008.4h1.2v1.2h-1.2zM1377.3 995.0h1.2v1.2h-1.2zM1386.7 929.3h1.2v1.2h-1.2zM1375.8 971.7h1.2v1.2h-1.2zM1245.5 979.1h1.2v1.2h-1.2z" fill="#ff3050" opacity="0.5"/>
<g stroke-width="1.2" fill="none" opacity="0.28"><path d="M1070,925 L1180,1024" stroke="#a02080"/><path d="M1150,925 L1320,1024" stroke="#a02060"/><path d="M420,925 L330,1024" stroke="#1a5a80"/></g>
<rect width="1536" height="205" fill="url(#topdark)"/>
<defs>
<linearGradient id="tcol" gradientUnits="userSpaceOnUse" x1="468" y1="0" x2="975" y2="0">
 <stop offset="0" stop-color="#62aeec"/><stop offset="0.45" stop-color="#6eaaf0"/><stop offset="0.62" stop-color="#8c9cec"/><stop offset="1" stop-color="#b888e0"/>
</linearGradient>
<linearGradient id="tlow" gradientUnits="userSpaceOnUse" x1="0" y1="110" x2="0" y2="136">
 <stop offset="0" stop-color="#ffffff" stop-opacity="0"/><stop offset="1" stop-color="#ffffff" stop-opacity="0.4"/>
</linearGradient>
<linearGradient id="ttop" gradientUnits="userSpaceOnUse" x1="0" y1="84" x2="0" y2="111.3">
 <stop offset="0" stop-color="#ffffff"/><stop offset="0.7" stop-color="#fbfcff"/><stop offset="1" stop-color="#dfe4ee"/>
</linearGradient>
<filter id="xglow" x="900" y="40" width="250" height="150" filterUnits="userSpaceOnUse"><feGaussianBlur in="SourceAlpha" stdDeviation="2.5" result="a"/><feFlood flood-color="#ff1030" flood-opacity="0.9"/><feComposite in2="a" operator="in" result="g"/><feMerge><feMergeNode in="g"/><feMergeNode in="SourceGraphic"/></feMerge></filter>
<clipPath id="ctop"><rect x="0" y="0" width="1536" height="111.3"/></clipPath>
<linearGradient id="uline" gradientUnits="userSpaceOnUse" x1="440" y1="0" x2="1050" y2="0">
 <stop offset="0" stop-color="#20c8ff" stop-opacity="0"/><stop offset="0.08" stop-color="#20c0ff"/><stop offset="0.5" stop-color="#4a50ff"/><stop offset="0.8" stop-color="#c020d8"/><stop offset="1" stop-color="#c020c0" stop-opacity="0"/>
</linearGradient>
<linearGradient id="xfill" gradientUnits="userSpaceOnUse" x1="990" y1="76" x2="1072" y2="144">
 <stop offset="0" stop-color="#ff2e62"/><stop offset="0.5" stop-color="#ffa8b6"/><stop offset="1" stop-color="#ff5078"/>
</linearGradient>
</defs>
<rect x="440" y="148.9" width="610" height="2.2" fill="url(#uline)" filter="url(#glowB)"/>
<path d="M517.7,83.7 L479.5,83.7 A11,11 0 0 0 468.5,94.7 L468.5,122.8 A11,11 0 0 0 479.5,133.8 L517.7,133.8 L517.7,124 L484,124 A4,4 0 0 1 480,120 L480,97.7 A4,4 0 0 1 484,93.7 L517.7,93.7 Z M534.8,84 L568.2,84 A11,11 0 0 1 579.2,95 L579.2,123 A11,11 0 0 1 568.2,134 L534.8,134 A11,11 0 0 1 523.8,123 L523.8,95 A11,11 0 0 1 534.8,84 Z M539.3,94 A4,4 0 0 0 535.3,98 L535.3,120 A4,4 0 0 0 539.3,124 L563.7,124 A4,4 0 0 0 567.7,120 L567.7,98 A4,4 0 0 0 563.7,94 Z M586.6,133.2 L586.6,84 L624,84 A12,12 0 0 1 636,96 L636,104 A11.6,11.6 0 0 1 628.4,115 L638.6,133.2 L626,133.2 L616.5,115.6 L598.4,115.6 L598.4,133.2 Z M598.4,93.75 L621,93.75 A4,4 0 0 1 625,97.75 L625,103 A4,4 0 0 1 621,107 L598.4,107 Z M691.7,84 L656.6,84 A11,11 0 0 0 645.6,95 L645.6,123 A11,11 0 0 0 656.6,134 L691.7,134 L691.7,124.2 L661,124.2 A4,4 0 0 1 657,120.2 L657,113.3 L688.2,113.3 L688.2,103.5 L657,103.5 L657,97.75 A4,4 0 0 1 661,93.75 L691.7,93.75 Z M717.4,134.8 L717.4,84.8 L755,84.8 A12,12 0 0 1 767,96.8 L767,106.4 A12,12 0 0 1 755,118.4 L728.75,118.4 L728.75,134.8 Z M728.75,93.75 L751.3,93.75 A4,4 0 0 1 755.3,97.75 L755.3,105.4 A4,4 0 0 1 751.3,109.4 L728.75,109.4 Z M773.7,84.8 L785.4,84.8 L785.4,121.4 A4,4 0 0 0 789.4,125.4 L808.3,125.4 A4,4 0 0 0 812.3,121.4 L812.3,84.8 L823.7,84.8 L823.7,123.2 A12,12 0 0 1 811.7,135.2 L785.7,135.2 A12,12 0 0 1 773.7,123.2 Z M833.4,84.8 L844.6,84.8 L844.6,124.8 L870.8,124.8 L870.8,134.6 L843.4,134.6 A10,10 0 0 1 833.4,124.6 Z M920.8,84.8 L886.4,84.8 A11,11 0 0 0 875.4,95.8 L875.4,105.2 A11,11 0 0 0 886.4,116.2 L909.5,116.2 A2,2 0 0 1 911.5,118.2 L911.5,121.8 A2,2 0 0 1 909.5,123.8 L876,123.8 L876,134.6 L911.3,134.6 A11,11 0 0 0 922.3,123.6 L922.3,117.2 A11,11 0 0 0 911.3,106.2 L888.2,106.2 A2,2 0 0 1 886.2,104.2 L886.2,97 A2,2 0 0 1 888.2,95 L920.8,95 Z M975,84.8 L941.6,84.8 A11,11 0 0 0 930.6,95.8 L930.6,123.6 A11,11 0 0 0 941.6,134.6 L975,134.6 L975,124.8 L945.3,124.8 A4,4 0 0 1 941.3,120.8 L941.3,116 L971.6,116 L971.6,106.2 L941.3,106.2 L941.3,98.5 A4,4 0 0 1 945.3,94.5 L975,94.5 Z" fill="none" stroke="#000" stroke-opacity="0.75" stroke-width="3" fill-rule="evenodd"/>
<path d="M517.7,83.7 L479.5,83.7 A11,11 0 0 0 468.5,94.7 L468.5,122.8 A11,11 0 0 0 479.5,133.8 L517.7,133.8 L517.7,124 L484,124 A4,4 0 0 1 480,120 L480,97.7 A4,4 0 0 1 484,93.7 L517.7,93.7 Z M534.8,84 L568.2,84 A11,11 0 0 1 579.2,95 L579.2,123 A11,11 0 0 1 568.2,134 L534.8,134 A11,11 0 0 1 523.8,123 L523.8,95 A11,11 0 0 1 534.8,84 Z M539.3,94 A4,4 0 0 0 535.3,98 L535.3,120 A4,4 0 0 0 539.3,124 L563.7,124 A4,4 0 0 0 567.7,120 L567.7,98 A4,4 0 0 0 563.7,94 Z M586.6,133.2 L586.6,84 L624,84 A12,12 0 0 1 636,96 L636,104 A11.6,11.6 0 0 1 628.4,115 L638.6,133.2 L626,133.2 L616.5,115.6 L598.4,115.6 L598.4,133.2 Z M598.4,93.75 L621,93.75 A4,4 0 0 1 625,97.75 L625,103 A4,4 0 0 1 621,107 L598.4,107 Z M691.7,84 L656.6,84 A11,11 0 0 0 645.6,95 L645.6,123 A11,11 0 0 0 656.6,134 L691.7,134 L691.7,124.2 L661,124.2 A4,4 0 0 1 657,120.2 L657,113.3 L688.2,113.3 L688.2,103.5 L657,103.5 L657,97.75 A4,4 0 0 1 661,93.75 L691.7,93.75 Z M717.4,134.8 L717.4,84.8 L755,84.8 A12,12 0 0 1 767,96.8 L767,106.4 A12,12 0 0 1 755,118.4 L728.75,118.4 L728.75,134.8 Z M728.75,93.75 L751.3,93.75 A4,4 0 0 1 755.3,97.75 L755.3,105.4 A4,4 0 0 1 751.3,109.4 L728.75,109.4 Z M773.7,84.8 L785.4,84.8 L785.4,121.4 A4,4 0 0 0 789.4,125.4 L808.3,125.4 A4,4 0 0 0 812.3,121.4 L812.3,84.8 L823.7,84.8 L823.7,123.2 A12,12 0 0 1 811.7,135.2 L785.7,135.2 A12,12 0 0 1 773.7,123.2 Z M833.4,84.8 L844.6,84.8 L844.6,124.8 L870.8,124.8 L870.8,134.6 L843.4,134.6 A10,10 0 0 1 833.4,124.6 Z M920.8,84.8 L886.4,84.8 A11,11 0 0 0 875.4,95.8 L875.4,105.2 A11,11 0 0 0 886.4,116.2 L909.5,116.2 A2,2 0 0 1 911.5,118.2 L911.5,121.8 A2,2 0 0 1 909.5,123.8 L876,123.8 L876,134.6 L911.3,134.6 A11,11 0 0 0 922.3,123.6 L922.3,117.2 A11,11 0 0 0 911.3,106.2 L888.2,106.2 A2,2 0 0 1 886.2,104.2 L886.2,97 A2,2 0 0 1 888.2,95 L920.8,95 Z M975,84.8 L941.6,84.8 A11,11 0 0 0 930.6,95.8 L930.6,123.6 A11,11 0 0 0 941.6,134.6 L975,134.6 L975,124.8 L945.3,124.8 A4,4 0 0 1 941.3,120.8 L941.3,116 L971.6,116 L971.6,106.2 L941.3,106.2 L941.3,98.5 A4,4 0 0 1 945.3,94.5 L975,94.5 Z" fill="url(#tcol)" fill-rule="evenodd"/>
<path d="M517.7,83.7 L479.5,83.7 A11,11 0 0 0 468.5,94.7 L468.5,122.8 A11,11 0 0 0 479.5,133.8 L517.7,133.8 L517.7,124 L484,124 A4,4 0 0 1 480,120 L480,97.7 A4,4 0 0 1 484,93.7 L517.7,93.7 Z M534.8,84 L568.2,84 A11,11 0 0 1 579.2,95 L579.2,123 A11,11 0 0 1 568.2,134 L534.8,134 A11,11 0 0 1 523.8,123 L523.8,95 A11,11 0 0 1 534.8,84 Z M539.3,94 A4,4 0 0 0 535.3,98 L535.3,120 A4,4 0 0 0 539.3,124 L563.7,124 A4,4 0 0 0 567.7,120 L567.7,98 A4,4 0 0 0 563.7,94 Z M586.6,133.2 L586.6,84 L624,84 A12,12 0 0 1 636,96 L636,104 A11.6,11.6 0 0 1 628.4,115 L638.6,133.2 L626,133.2 L616.5,115.6 L598.4,115.6 L598.4,133.2 Z M598.4,93.75 L621,93.75 A4,4 0 0 1 625,97.75 L625,103 A4,4 0 0 1 621,107 L598.4,107 Z M691.7,84 L656.6,84 A11,11 0 0 0 645.6,95 L645.6,123 A11,11 0 0 0 656.6,134 L691.7,134 L691.7,124.2 L661,124.2 A4,4 0 0 1 657,120.2 L657,113.3 L688.2,113.3 L688.2,103.5 L657,103.5 L657,97.75 A4,4 0 0 1 661,93.75 L691.7,93.75 Z M717.4,134.8 L717.4,84.8 L755,84.8 A12,12 0 0 1 767,96.8 L767,106.4 A12,12 0 0 1 755,118.4 L728.75,118.4 L728.75,134.8 Z M728.75,93.75 L751.3,93.75 A4,4 0 0 1 755.3,97.75 L755.3,105.4 A4,4 0 0 1 751.3,109.4 L728.75,109.4 Z M773.7,84.8 L785.4,84.8 L785.4,121.4 A4,4 0 0 0 789.4,125.4 L808.3,125.4 A4,4 0 0 0 812.3,121.4 L812.3,84.8 L823.7,84.8 L823.7,123.2 A12,12 0 0 1 811.7,135.2 L785.7,135.2 A12,12 0 0 1 773.7,123.2 Z M833.4,84.8 L844.6,84.8 L844.6,124.8 L870.8,124.8 L870.8,134.6 L843.4,134.6 A10,10 0 0 1 833.4,124.6 Z M920.8,84.8 L886.4,84.8 A11,11 0 0 0 875.4,95.8 L875.4,105.2 A11,11 0 0 0 886.4,116.2 L909.5,116.2 A2,2 0 0 1 911.5,118.2 L911.5,121.8 A2,2 0 0 1 909.5,123.8 L876,123.8 L876,134.6 L911.3,134.6 A11,11 0 0 0 922.3,123.6 L922.3,117.2 A11,11 0 0 0 911.3,106.2 L888.2,106.2 A2,2 0 0 1 886.2,104.2 L886.2,97 A2,2 0 0 1 888.2,95 L920.8,95 Z M975,84.8 L941.6,84.8 A11,11 0 0 0 930.6,95.8 L930.6,123.6 A11,11 0 0 0 941.6,134.6 L975,134.6 L975,124.8 L945.3,124.8 A4,4 0 0 1 941.3,120.8 L941.3,116 L971.6,116 L971.6,106.2 L941.3,106.2 L941.3,98.5 A4,4 0 0 1 945.3,94.5 L975,94.5 Z" fill="url(#tlow)" fill-rule="evenodd"/>
<path d="M517.7,83.7 L479.5,83.7 A11,11 0 0 0 468.5,94.7 L468.5,122.8 A11,11 0 0 0 479.5,133.8 L517.7,133.8 L517.7,124 L484,124 A4,4 0 0 1 480,120 L480,97.7 A4,4 0 0 1 484,93.7 L517.7,93.7 Z M534.8,84 L568.2,84 A11,11 0 0 1 579.2,95 L579.2,123 A11,11 0 0 1 568.2,134 L534.8,134 A11,11 0 0 1 523.8,123 L523.8,95 A11,11 0 0 1 534.8,84 Z M539.3,94 A4,4 0 0 0 535.3,98 L535.3,120 A4,4 0 0 0 539.3,124 L563.7,124 A4,4 0 0 0 567.7,120 L567.7,98 A4,4 0 0 0 563.7,94 Z M586.6,133.2 L586.6,84 L624,84 A12,12 0 0 1 636,96 L636,104 A11.6,11.6 0 0 1 628.4,115 L638.6,133.2 L626,133.2 L616.5,115.6 L598.4,115.6 L598.4,133.2 Z M598.4,93.75 L621,93.75 A4,4 0 0 1 625,97.75 L625,103 A4,4 0 0 1 621,107 L598.4,107 Z M691.7,84 L656.6,84 A11,11 0 0 0 645.6,95 L645.6,123 A11,11 0 0 0 656.6,134 L691.7,134 L691.7,124.2 L661,124.2 A4,4 0 0 1 657,120.2 L657,113.3 L688.2,113.3 L688.2,103.5 L657,103.5 L657,97.75 A4,4 0 0 1 661,93.75 L691.7,93.75 Z M717.4,134.8 L717.4,84.8 L755,84.8 A12,12 0 0 1 767,96.8 L767,106.4 A12,12 0 0 1 755,118.4 L728.75,118.4 L728.75,134.8 Z M728.75,93.75 L751.3,93.75 A4,4 0 0 1 755.3,97.75 L755.3,105.4 A4,4 0 0 1 751.3,109.4 L728.75,109.4 Z M773.7,84.8 L785.4,84.8 L785.4,121.4 A4,4 0 0 0 789.4,125.4 L808.3,125.4 A4,4 0 0 0 812.3,121.4 L812.3,84.8 L823.7,84.8 L823.7,123.2 A12,12 0 0 1 811.7,135.2 L785.7,135.2 A12,12 0 0 1 773.7,123.2 Z M833.4,84.8 L844.6,84.8 L844.6,124.8 L870.8,124.8 L870.8,134.6 L843.4,134.6 A10,10 0 0 1 833.4,124.6 Z M920.8,84.8 L886.4,84.8 A11,11 0 0 0 875.4,95.8 L875.4,105.2 A11,11 0 0 0 886.4,116.2 L909.5,116.2 A2,2 0 0 1 911.5,118.2 L911.5,121.8 A2,2 0 0 1 909.5,123.8 L876,123.8 L876,134.6 L911.3,134.6 A11,11 0 0 0 922.3,123.6 L922.3,117.2 A11,11 0 0 0 911.3,106.2 L888.2,106.2 A2,2 0 0 1 886.2,104.2 L886.2,97 A2,2 0 0 1 888.2,95 L920.8,95 Z M975,84.8 L941.6,84.8 A11,11 0 0 0 930.6,95.8 L930.6,123.6 A11,11 0 0 0 941.6,134.6 L975,134.6 L975,124.8 L945.3,124.8 A4,4 0 0 1 941.3,120.8 L941.3,116 L971.6,116 L971.6,106.2 L941.3,106.2 L941.3,98.5 A4,4 0 0 1 945.3,94.5 L975,94.5 Z" fill="url(#ttop)" fill-rule="evenodd" clip-path="url(#ctop)"/>
<path d="M517.7,83.7 L479.5,83.7 A11,11 0 0 0 468.5,94.7 L468.5,122.8 A11,11 0 0 0 479.5,133.8 L517.7,133.8 L517.7,124 L484,124 A4,4 0 0 1 480,120 L480,97.7 A4,4 0 0 1 484,93.7 L517.7,93.7 Z M534.8,84 L568.2,84 A11,11 0 0 1 579.2,95 L579.2,123 A11,11 0 0 1 568.2,134 L534.8,134 A11,11 0 0 1 523.8,123 L523.8,95 A11,11 0 0 1 534.8,84 Z M539.3,94 A4,4 0 0 0 535.3,98 L535.3,120 A4,4 0 0 0 539.3,124 L563.7,124 A4,4 0 0 0 567.7,120 L567.7,98 A4,4 0 0 0 563.7,94 Z M586.6,133.2 L586.6,84 L624,84 A12,12 0 0 1 636,96 L636,104 A11.6,11.6 0 0 1 628.4,115 L638.6,133.2 L626,133.2 L616.5,115.6 L598.4,115.6 L598.4,133.2 Z M598.4,93.75 L621,93.75 A4,4 0 0 1 625,97.75 L625,103 A4,4 0 0 1 621,107 L598.4,107 Z M691.7,84 L656.6,84 A11,11 0 0 0 645.6,95 L645.6,123 A11,11 0 0 0 656.6,134 L691.7,134 L691.7,124.2 L661,124.2 A4,4 0 0 1 657,120.2 L657,113.3 L688.2,113.3 L688.2,103.5 L657,103.5 L657,97.75 A4,4 0 0 1 661,93.75 L691.7,93.75 Z M717.4,134.8 L717.4,84.8 L755,84.8 A12,12 0 0 1 767,96.8 L767,106.4 A12,12 0 0 1 755,118.4 L728.75,118.4 L728.75,134.8 Z M728.75,93.75 L751.3,93.75 A4,4 0 0 1 755.3,97.75 L755.3,105.4 A4,4 0 0 1 751.3,109.4 L728.75,109.4 Z M773.7,84.8 L785.4,84.8 L785.4,121.4 A4,4 0 0 0 789.4,125.4 L808.3,125.4 A4,4 0 0 0 812.3,121.4 L812.3,84.8 L823.7,84.8 L823.7,123.2 A12,12 0 0 1 811.7,135.2 L785.7,135.2 A12,12 0 0 1 773.7,123.2 Z M833.4,84.8 L844.6,84.8 L844.6,124.8 L870.8,124.8 L870.8,134.6 L843.4,134.6 A10,10 0 0 1 833.4,124.6 Z M920.8,84.8 L886.4,84.8 A11,11 0 0 0 875.4,95.8 L875.4,105.2 A11,11 0 0 0 886.4,116.2 L909.5,116.2 A2,2 0 0 1 911.5,118.2 L911.5,121.8 A2,2 0 0 1 909.5,123.8 L876,123.8 L876,134.6 L911.3,134.6 A11,11 0 0 0 922.3,123.6 L922.3,117.2 A11,11 0 0 0 911.3,106.2 L888.2,106.2 A2,2 0 0 1 886.2,104.2 L886.2,97 A2,2 0 0 1 888.2,95 L920.8,95 Z M975,84.8 L941.6,84.8 A11,11 0 0 0 930.6,95.8 L930.6,123.6 A11,11 0 0 0 941.6,134.6 L975,134.6 L975,124.8 L945.3,124.8 A4,4 0 0 1 941.3,120.8 L941.3,116 L971.6,116 L971.6,106.2 L941.3,106.2 L941.3,98.5 A4,4 0 0 1 945.3,94.5 L975,94.5 Z" fill="none" stroke="#ffffff" stroke-opacity="0.7" stroke-width="0.8" fill-rule="evenodd"/>
<g filter="url(#xglow)"><path d="M990.9,76 L1016,76 L1031.2,99 L1049.5,75.4 L1072,75.4 L1043,108 L1073,143.6 L1048,143.6 L1030.7,118.4 L1014,143.6 L989.3,143.6 L1019.4,108.7 Z" fill="url(#xfill)" stroke="#ff1a36" stroke-width="2.0" stroke-linejoin="miter"/></g>
<path d="M996,79.5 L1014,79.5 L1031.2,104.5 L1051.5,79 L1066,79 L1038.5,108 L1066.5,140 L1050,140 L1030.7,113 L1012,140 L995.5,140 L1024,108.5 Z" fill="none" stroke="#ffe0e8" stroke-width="0.9" opacity="0.8"/>
</svg>
<svg id="fg" width="1536" height="1024" viewBox="0 0 1536 1024">
<rect x="103" y="205" width="1330" height="716" fill="#ffffff"/>
<defs><clipPath id="avc"><rect x="114" y="212" width="66.6" height="66.6"/></clipPath><filter id="avb" x="-10%" y="-10%" width="120%" height="120%"><feGaussianBlur stdDeviation="0.6"/></filter></defs>
<g clip-path="url(#avc)"><g filter="url(#avb)">
<rect x="113" y="211" width="69" height="69" fill="#1e1e20"/>
<rect x="113" y="211" width="43" height="30" fill="#2a2a2c"/>
<rect x="156" y="211" width="26" height="29" fill="#6a6868"/>
<path d="M113,220 L118,218 L118,235 L113,236 Z" fill="#3a3a3a" opacity="0.6"/>
<path d="M113,240.5 L127.5,239 L127.5,262.5 L113,264 Z" fill="#2a3846"/>
<rect x="114" y="243.0" width="6" height="0.6" fill="#5a7080"/>
<rect x="114" y="245.6" width="8" height="0.6" fill="#5a7080"/>
<rect x="114" y="248.2" width="10" height="0.6" fill="#5a7080"/>
<rect x="114" y="250.8" width="12" height="0.6" fill="#5a7080"/>
<rect x="114" y="253.4" width="7" height="0.6" fill="#5a7080"/>
<rect x="114" y="256.0" width="9" height="0.6" fill="#5a7080"/>
<rect x="114" y="258.6" width="11" height="0.6" fill="#5a7080"/>
<path d="M171.5,239 L181,240 L181,264 L171.5,263 Z" fill="#26323e"/>
<rect x="173" y="242.0" width="4" height="0.6" fill="#8090a0"/>
<rect x="173" y="244.5" width="7" height="0.6" fill="#8090a0"/>
<rect x="173" y="247.0" width="5" height="0.6" fill="#8090a0"/>
<rect x="173" y="249.5" width="8" height="0.6" fill="#8090a0"/>
<rect x="173" y="252.0" width="6" height="0.6" fill="#8090a0"/>
<rect x="173" y="254.5" width="4" height="0.6" fill="#8090a0"/>
<rect x="173" y="257.0" width="7" height="0.6" fill="#8090a0"/>
<rect x="173" y="259.5" width="5" height="0.6" fill="#8090a0"/>
<rect x="113" y="263" width="69" height="17" fill="#1a1816"/>
<path d="M160,262 L182,264 L182,276 L165,274 Z" fill="#3a2e24"/>
<path d="M113,264 L125,263 L122,270 L113,271 Z" fill="#4a3a2e"/>
<rect x="128.2" y="231.8" width="42.8" height="28.8" fill="#0a0c10"/>
<rect x="130" y="233.2" width="39.7" height="26" fill="#18222e"/>
<rect x="130" y="233.2" width="39.7" height="1.6" fill="#5a6a80"/>
<rect x="134" y="237.0" width="16" height="0.6" fill="#4a7a5a"/>
<rect x="136" y="239.6" width="20" height="0.6" fill="#6a7a98"/>
<rect x="134" y="242.2" width="12" height="0.6" fill="#8a7a50"/>
<rect x="138" y="244.8" width="22" height="0.6" fill="#5a7090"/>
<rect x="136" y="247.4" width="16" height="0.6" fill="#6a8a6a"/>
<rect x="140" y="250.0" width="26" height="0.6" fill="#506880"/>
<rect x="134" y="252.6" width="16" height="0.6" fill="#6a7a90"/>
<rect x="138" y="255.2" width="20" height="0.6" fill="#5a8070"/>
<rect x="165" y="236" width="2.5" height="22" fill="#3a4a5a"/>
<ellipse cx="143.8" cy="250.5" rx="8.6" ry="10" fill="#2e241e"/>
<ellipse cx="135.6" cy="254" rx="1.6" ry="2.6" fill="#6a4a3a"/>
<ellipse cx="152" cy="254" rx="1.6" ry="2.6" fill="#6a4a3a"/>
<path d="M137,255 Q143.8,263 150.5,255 L150.5,263 L137,263 Z" fill="#4a3428"/>
<path d="M112,281 L115,272 Q119,263 131,261.5 Q143.8,266 156,261.5 Q168,263 172,272 L175,281 Z" fill="#36383b"/>
<path d="M131,261.5 Q143.8,268 156,261.5 Q152,271 143.8,271 Q135.5,271 131,261.5 Z" fill="#26282b"/>
</g></g>
<text x="193.7" y="226.2" font-size="14" fill="#4a72bd" text-anchor="start" font-weight="bold" textLength="148.3" lengthAdjust="spacingAndGlyphs">Core Pulse X Live Signal</text>
<rect x="194" y="239" width="3.3" height="6.5" fill="#1f4fa8"/>
<rect x="197.3" y="239" width="3.4" height="6.5" fill="#ffffff"/>
<rect x="200.7" y="239" width="3.3" height="6.5" fill="#e8413a"/>
<text x="207.3" y="244.6" font-size="10" fill="#444" text-anchor="start" font-weight="normal" textLength="136.7" lengthAdjust="spacingAndGlyphs">Marvin Alain Bernard Barthelemy</text>
<polygon points="366.30,237.50 367.59,240.22 370.58,240.61 368.39,242.68 368.95,245.64 366.30,244.20 363.65,245.64 364.21,242.68 362.02,240.61 365.01,240.22" fill="#d4d4d4"/>
<polygon points="376.40,237.50 377.69,240.22 380.68,240.61 378.49,242.68 379.05,245.64 376.40,244.20 373.75,245.64 374.31,242.68 372.12,240.61 375.11,240.22" fill="#d4d4d4"/>
<polygon points="386.50,237.50 387.79,240.22 390.78,240.61 388.59,242.68 389.15,245.64 386.50,244.20 383.85,245.64 384.41,242.68 382.22,240.61 385.21,240.22" fill="#d4d4d4"/>
<polygon points="396.60,237.50 397.89,240.22 400.88,240.61 398.69,242.68 399.25,245.64 396.60,244.20 393.95,245.64 394.51,242.68 392.32,240.61 395.31,240.22" fill="#d4d4d4"/>
<polygon points="406.70,237.50 407.99,240.22 410.98,240.61 408.79,242.68 409.35,245.64 406.70,244.20 404.05,245.64 404.61,242.68 402.42,240.61 405.41,240.22" fill="#d4d4d4"/>
<text x="416.5" y="244.9" font-size="9.5" fill="#777" text-anchor="start" font-weight="normal" textLength="39.5" lengthAdjust="spacingAndGlyphs">0 reviews</text>
<text x="472.9" y="244.9" font-size="12.5" fill="#3cae4a" text-anchor="start" font-weight="bold" textLength="5.9" lengthAdjust="spacingAndGlyphs">2</text>
<text x="482.2" y="244.9" font-size="9.5" fill="#555" text-anchor="start" font-weight="normal" textLength="25.0" lengthAdjust="spacingAndGlyphs">weeks</text>
<g fill="none" stroke="#c4c4c4" stroke-width="0.9"><circle cx="530" cy="236.8" r="2.1"/><path d="M527,247 L527,241.5 Q530,239.5 533,241.5 L533,247"/><circle cx="525.6" cy="238.8" r="1.6"/><path d="M523.6,246 L523.6,242 Q525.6,240.8 527,241.8"/><circle cx="534.4" cy="238.8" r="1.6"/><path d="M536.4,246 L536.4,242 Q534.4,240.8 533,241.8"/></g>
<text x="542.3" y="244.9" font-size="9.5" fill="#555" text-anchor="start" font-weight="normal" textLength="38.9" lengthAdjust="spacingAndGlyphs">0 / 0 USD</text>
<rect x="193.9" y="254.1" width="140.1" height="22.8" fill="#e3e3e3"/>
<text x="208.0" y="268.6" font-size="10.4" fill="#707070" text-anchor="start" font-weight="normal" textLength="112.4" lengthAdjust="spacingAndGlyphs">Subscription not permitted</text>
<text x="113.7" y="297.9" font-size="9.2" fill="#555" text-anchor="start" font-weight="normal" textLength="70.1" lengthAdjust="spacingAndGlyphs">growth since 2026</text>
<text x="114.6" y="313.9" font-size="14" fill="#3fb44a" text-anchor="start" font-weight="bold" textLength="26.3" lengthAdjust="spacingAndGlyphs">20%</text>
<defs><linearGradient id="spg" x1="0" y1="0" x2="0" y2="1"><stop offset="0" stop-color="#d6e9fa" stop-opacity="0.9"/><stop offset="1" stop-color="#ffffff" stop-opacity="0"/></linearGradient></defs>
<path d="M114.1,384.5 C116.4,383.8 122.8,382.5 127.8,380.0 C132.8,377.5 138.5,373.2 144.2,369.7 C149.9,366.2 156.8,361.6 162.0,358.8 C167.2,356.0 170.6,354.2 175.6,353.0 C180.6,351.8 184.7,352.5 192.0,351.3 C199.3,350.1 210.3,347.6 219.4,345.8 C228.5,344.0 241.2,341.3 246.7,340.3 C252.2,339.3 248.8,341.1 252.2,339.6 C255.6,338.1 261.3,335.1 267.2,331.4 C273.1,327.6 281.5,321.0 287.7,317.1 C293.9,313.2 299.9,310.0 304.1,308.2 C308.3,306.4 311.5,306.5 313.0,306.2 L313,392 L113.8,392 Z" fill="url(#spg)"/>
<path d="M114.1,384.5 C116.4,383.8 122.8,382.5 127.8,380.0 C132.8,377.5 138.5,373.2 144.2,369.7 C149.9,366.2 156.8,361.6 162.0,358.8 C167.2,356.0 170.6,354.2 175.6,353.0 C180.6,351.8 184.7,352.5 192.0,351.3 C199.3,350.1 210.3,347.6 219.4,345.8 C228.5,344.0 241.2,341.3 246.7,340.3 C252.2,339.3 248.8,341.1 252.2,339.6 C255.6,338.1 261.3,335.1 267.2,331.4 C273.1,327.6 281.5,321.0 287.7,317.1 C293.9,313.2 299.9,310.0 304.1,308.2 C308.3,306.4 311.5,306.5 313.0,306.2" fill="none" stroke="#4da6e0" stroke-width="1.4"/>
<path d="M119,403.8 L124,405.6 L124,409 C124,411.5 121.8,413 119,413.8 C116.2,413 114,411.5 114,409 L114,405.6 Z" fill="#3fae49"/>
<path d="M116.6,408.6 L118.5,410.5 L121.6,406.9" fill="none" stroke="#fff" stroke-width="1.2"/>
<text x="127.7" y="411.8" font-size="9.5" fill="#4a6aa8" text-anchor="start" font-weight="normal" textLength="90.1" lengthAdjust="spacingAndGlyphs">BlackBullMarkets-Live</text>
<text x="288.8" y="411.8" font-size="9.8" fill="#333" text-anchor="start" font-weight="bold" textLength="24.9" lengthAdjust="spacingAndGlyphs">1:500</text>
<g fill="none" stroke="#d9d9d9" stroke-width="1">
<polygon points="574.50,336.55 586.06,343.22 586.06,356.57 574.50,363.25 562.94,356.57 562.94,343.22"/>
<polygon points="574.50,323.20 597.62,336.55 597.62,363.25 574.50,376.60 551.38,363.25 551.38,336.55"/>
<polygon points="574.50,309.85 609.18,329.88 609.18,369.92 574.50,389.95 539.82,369.92 539.82,329.88"/>
<polygon points="574.50,296.50 620.75,323.20 620.75,376.60 574.50,403.30 528.25,376.60 528.25,323.20"/>
<line x1="574.5" y1="349.9" x2="574.50" y2="296.50"/>
<line x1="574.5" y1="349.9" x2="620.75" y2="323.20"/>
<line x1="574.5" y1="349.9" x2="620.75" y2="376.60"/>
<line x1="574.5" y1="349.9" x2="574.50" y2="403.30"/>
<line x1="574.5" y1="349.9" x2="528.25" y2="376.60"/>
<line x1="574.5" y1="349.9" x2="528.25" y2="323.20"/>
</g>
<polygon points="574.50,296.50 620.75,323.20 574.5,349.9" fill="#cdeefb" fill-opacity="0.6" stroke="#1eb0ea" stroke-width="2.2" stroke-linejoin="round"/>
<circle cx="574.50" cy="296.50" r="2.8" fill="#1eb0ea"/>
<circle cx="620.75" cy="323.20" r="2.8" fill="#1eb0ea"/>
<circle cx="574.50" cy="349.90" r="2.8" fill="#1eb0ea"/>
<text x="577.6" y="300.1" font-size="7" fill="#aaaaaa" text-anchor="start" font-weight="normal" textLength="21.2" lengthAdjust="spacingAndGlyphs">100+%</text>
<text x="577.6" y="327.0" font-size="7" fill="#aaaaaa" text-anchor="start" font-weight="normal" textLength="12.8" lengthAdjust="spacingAndGlyphs">50%</text>
<text x="577.6" y="352.9" font-size="7" fill="#aaaaaa" text-anchor="start" font-weight="normal" textLength="8.7" lengthAdjust="spacingAndGlyphs">0%</text>
<text x="536.2" y="290.0" font-size="9" fill="#222" text-anchor="start" font-weight="normal" textLength="77.0" lengthAdjust="spacingAndGlyphs">Algo trading: 100%</text>
<text x="623.4" y="325.9" font-size="9" fill="#222" text-anchor="start" font-weight="normal" textLength="79.3" lengthAdjust="spacingAndGlyphs">Profit Trades: 100%</text>
<text x="623.4" y="379.9" font-size="9" fill="#222" text-anchor="start" font-weight="normal" textLength="63.3" lengthAdjust="spacingAndGlyphs">Loss Trades: 0%</text>
<text x="534.6" y="413.1" font-size="9" fill="#222" text-anchor="start" font-weight="normal" textLength="80.6" lengthAdjust="spacingAndGlyphs">Trading activity: 0%</text>
<text x="476.1" y="325.8" font-size="9" fill="#222" text-anchor="start" font-weight="normal" textLength="39.8" lengthAdjust="spacingAndGlyphs">Maximum</text>
<text x="467.0" y="336.9" font-size="9" fill="#222" text-anchor="start" font-weight="normal" textLength="58.9" lengthAdjust="spacingAndGlyphs">drawdown: 0%</text>
<text x="452.3" y="379.4" font-size="9" fill="#222" text-anchor="start" font-weight="normal" textLength="73.4" lengthAdjust="spacingAndGlyphs">Max deposit load:</text>
<text x="483.7" y="390.5" font-size="9" fill="#222" text-anchor="start" font-weight="normal" textLength="10.5" lengthAdjust="spacingAndGlyphs">0%</text>
<text x="880.6" y="298.0" font-size="9.6" fill="#222" text-anchor="start" font-weight="normal" textLength="26.1" lengthAdjust="spacingAndGlyphs">Equity</text>
<text x="930.8" y="298.0" font-size="9.6" fill="#444" text-anchor="start" font-weight="normal" textLength="42.3" lengthAdjust="spacingAndGlyphs">60.06 USD</text>
<text x="883.8" y="322.9" font-size="9.6" fill="#222" text-anchor="start" font-weight="normal" textLength="22.9" lengthAdjust="spacingAndGlyphs">Profit</text>
<text x="931.4" y="322.9" font-size="9.6" fill="#444" text-anchor="start" font-weight="normal" textLength="41.7" lengthAdjust="spacingAndGlyphs">10.06 USD</text>
<text x="848.6" y="348.3" font-size="9.6" fill="#222" text-anchor="start" font-weight="normal" textLength="58.1" lengthAdjust="spacingAndGlyphs">Initial Deposit</text>
<text x="930.8" y="348.3" font-size="9.6" fill="#444" text-anchor="start" font-weight="normal" textLength="42.3" lengthAdjust="spacingAndGlyphs">50.00 USD</text>
<text x="855.5" y="374.0" font-size="9.6" fill="#222" text-anchor="start" font-weight="normal" textLength="51.2" lengthAdjust="spacingAndGlyphs">Withdrawals</text>
<text x="933.3" y="374.0" font-size="9.6" fill="#444" text-anchor="start" font-weight="normal" textLength="37.5" lengthAdjust="spacingAndGlyphs">0.00 USD</text>
<text x="871.7" y="398.7" font-size="9.6" fill="#222" text-anchor="start" font-weight="normal" textLength="35.0" lengthAdjust="spacingAndGlyphs">Deposits</text>
<text x="933.3" y="398.7" font-size="9.6" fill="#444" text-anchor="start" font-weight="normal" textLength="37.5" lengthAdjust="spacingAndGlyphs">0.00 USD</text>
<rect x="997" y="285" width="203" height="19.8" fill="#22b8ef"/>
<rect x="997" y="310.1" width="34.1" height="19.7" fill="#a6e0f6"/>
<rect x="997" y="335.6" width="168.7" height="20" fill="#22b8ef"/>
<rect x="997" y="361" width="1" height="20" fill="#b8e6f8"/>
<rect x="997" y="386" width="1" height="19.7" fill="#b8e6f8"/>
<rect x="948.9" y="411.8" width="141.4" height="22.9" fill="#e3e3e3"/>
<text x="963.6" y="426.1" font-size="10.2" fill="#707070" text-anchor="start" font-weight="normal" textLength="112.4" lengthAdjust="spacingAndGlyphs">Subscription not permitted</text>
<rect x="929.1" y="442.1" width="5.9" height="5.9" fill="#9a9a9a"/>
<text x="939.5" y="448.0" font-size="8" fill="#8a8a8a" text-anchor="start" font-weight="normal" textLength="173.2" lengthAdjust="spacingAndGlyphs">Subscription will be enabled when trading starts</text>
<path d="M114.1,502.5 L114.1,472.6 L170.2,472.6 L170.2,502.5" fill="#fff" stroke="#e6e6e6" stroke-width="1"/>
<rect x="114.1" y="471.6" width="56.1" height="1.6" fill="#a9c0e4"/>
<rect x="103" y="502" width="1330" height="1.2" fill="#dedede"/>
<rect x="114.6" y="501.5" width="55.1" height="1.5" fill="#ffffff"/>
<text x="125.5" y="491.0" font-size="9.8" fill="#333" text-anchor="start" font-weight="normal" textLength="33.2" lengthAdjust="spacingAndGlyphs">Account</text>
<text x="185.0" y="491.0" font-size="9.8" fill="#333" text-anchor="start" font-weight="normal" textLength="61.6" lengthAdjust="spacingAndGlyphs">Trading history</text>
<text x="272.0" y="491.0" font-size="9.8" fill="#333" text-anchor="start" font-weight="normal" textLength="38.0" lengthAdjust="spacingAndGlyphs">Statistics</text>
<text x="336.4" y="491.0" font-size="9.8" fill="#333" text-anchor="start" font-weight="normal" textLength="19.9" lengthAdjust="spacingAndGlyphs">Risks</text>
<text x="381.5" y="491.0" font-size="9.8" fill="#333" text-anchor="start" font-weight="normal" textLength="35.4" lengthAdjust="spacingAndGlyphs">Slippage</text>
<text x="442.6" y="491.0" font-size="9.8" fill="#333" text-anchor="start" font-weight="normal" textLength="46.9" lengthAdjust="spacingAndGlyphs">Description</text>
<text x="515.0" y="491.0" font-size="9.8" fill="#333" text-anchor="start" font-weight="normal" textLength="33.2" lengthAdjust="spacingAndGlyphs">Reviews</text>
<text x="574.3" y="491.0" font-size="9.8" fill="#333" text-anchor="start" font-weight="normal" textLength="46.9" lengthAdjust="spacingAndGlyphs">What's new</text>
<text x="646.7" y="491.0" font-size="9.8" fill="#333" text-anchor="start" font-weight="normal" textLength="47.6" lengthAdjust="spacingAndGlyphs">Subscribers</text>
<text x="120.8" y="527.7" font-size="8.2" fill="#222" text-anchor="start" font-weight="normal" textLength="26.3" lengthAdjust="spacingAndGlyphs">Symbol</text>
<text x="402.5" y="527.7" font-size="8.2" fill="#222" text-anchor="start" font-weight="normal" textLength="18.5" lengthAdjust="spacingAndGlyphs">Time</text>
<text x="539.0" y="527.7" font-size="8.2" fill="#222" text-anchor="start" font-weight="normal" textLength="18.0" lengthAdjust="spacingAndGlyphs">Type</text>
<text x="652.6" y="527.7" font-size="8.2" fill="#222" text-anchor="start" font-weight="normal" textLength="28.0" lengthAdjust="spacingAndGlyphs">Volume</text>
<text x="792.8" y="527.7" font-size="8.2" fill="#222" text-anchor="start" font-weight="normal" textLength="21.0" lengthAdjust="spacingAndGlyphs">Price</text>
<text x="934.5" y="527.7" font-size="8.2" fill="#222" text-anchor="start" font-weight="normal" textLength="12.5" lengthAdjust="spacingAndGlyphs">S/L</text>
<text x="1068.0" y="527.7" font-size="8.2" fill="#222" text-anchor="start" font-weight="normal" textLength="13.0" lengthAdjust="spacingAndGlyphs">T/P</text>
<text x="1193.0" y="527.7" font-size="8.2" fill="#222" text-anchor="start" font-weight="normal" textLength="21.0" lengthAdjust="spacingAndGlyphs">Price</text>
<text x="1293.0" y="527.7" font-size="8.2" fill="#222" text-anchor="start" font-weight="normal" textLength="20.0" lengthAdjust="spacingAndGlyphs">Swap</text>
<text x="1397.0" y="527.7" font-size="8.2" fill="#222" text-anchor="start" font-weight="normal" textLength="21.0" lengthAdjust="spacingAndGlyphs">Profit</text>
<text x="1402.5" y="547.9" font-size="8" fill="#222" text-anchor="start" font-weight="bold" textLength="15.5" lengthAdjust="spacingAndGlyphs">0.00</text>
<rect x="113.5" y="575.8" width="1311" height="21" fill="#f8f8f8"/>
<rect x="113.5" y="575.5" width="1311" height="1" fill="#efefef"/>
<rect x="113.5" y="596.5" width="1311" height="1" fill="#f2f2f2"/>
<text x="120.5" y="567.7" font-size="7.5" fill="#444" text-anchor="start" font-weight="normal" textLength="32.5" lengthAdjust="spacingAndGlyphs">XAUUSDp</text>
<text x="360.3" y="567.7" font-size="7.5" fill="#444" text-anchor="start" font-weight="normal" textLength="60.7" lengthAdjust="spacingAndGlyphs">2026.03.04 01:00</text>
<text x="525.4" y="567.7" font-size="7.5" fill="#444" text-anchor="start" font-weight="normal" textLength="31.2" lengthAdjust="spacingAndGlyphs">Buy Stop</text>
<text x="666.0" y="567.7" font-size="7.5" fill="#444" text-anchor="start" font-weight="normal" textLength="14.5" lengthAdjust="spacingAndGlyphs">0.01</text>
<text x="785.7" y="567.7" font-size="7.5" fill="#444" text-anchor="start" font-weight="normal" textLength="28.0" lengthAdjust="spacingAndGlyphs">5 379.99</text>
<text x="918.5" y="567.7" font-size="7.5" fill="#444" text-anchor="start" font-weight="normal" textLength="28.5" lengthAdjust="spacingAndGlyphs">5 374.99</text>
<text x="1052.5" y="567.7" font-size="7.5" fill="#444" text-anchor="start" font-weight="normal" textLength="28.5" lengthAdjust="spacingAndGlyphs">5 400.12</text>
<text x="1185.5" y="567.7" font-size="7.5" fill="#444" text-anchor="start" font-weight="normal" textLength="28.5" lengthAdjust="spacingAndGlyphs">5 137.62</text>
<text x="120.5" y="588.4" font-size="7.5" fill="#444" text-anchor="start" font-weight="normal" textLength="32.5" lengthAdjust="spacingAndGlyphs">XAUUSDp</text>
<text x="360.3" y="588.4" font-size="7.5" fill="#444" text-anchor="start" font-weight="normal" textLength="60.7" lengthAdjust="spacingAndGlyphs">2026.03.04 01:00</text>
<text x="524.6" y="588.4" font-size="7.5" fill="#444" text-anchor="start" font-weight="normal" textLength="32.0" lengthAdjust="spacingAndGlyphs">Sell Stop</text>
<text x="666.0" y="588.4" font-size="7.5" fill="#444" text-anchor="start" font-weight="normal" textLength="14.5" lengthAdjust="spacingAndGlyphs">0.01</text>
<text x="785.2" y="588.4" font-size="7.5" fill="#444" text-anchor="start" font-weight="normal" textLength="28.5" lengthAdjust="spacingAndGlyphs">4 995.82</text>
<text x="918.5" y="588.4" font-size="7.5" fill="#444" text-anchor="start" font-weight="normal" textLength="28.5" lengthAdjust="spacingAndGlyphs">5 000.82</text>
<text x="1052.5" y="588.4" font-size="7.5" fill="#444" text-anchor="start" font-weight="normal" textLength="28.5" lengthAdjust="spacingAndGlyphs">4 976.39</text>
<text x="1185.5" y="588.4" font-size="7.5" fill="#444" text-anchor="start" font-weight="normal" textLength="28.5" lengthAdjust="spacingAndGlyphs">5 137.50</text>
<rect x="113.9" y="612" width="53.1" height="28.8" fill="#edf2fa"/>
<text x="124.7" y="625.4" font-size="10" fill="#222" text-anchor="start" font-weight="normal" textLength="28.6" lengthAdjust="spacingAndGlyphs">20.12%</text>
<circle cx="126.8" cy="631.9" r="2.1" fill="#5b9be6"/>
<text x="132.8" y="634.0" font-size="7" fill="#222" text-anchor="start" font-weight="bold" textLength="23.6" lengthAdjust="spacingAndGlyphs">Growth</text>
<text x="177.7" y="625.4" font-size="10" fill="#222" text-anchor="start" font-weight="normal" textLength="24.0" lengthAdjust="spacingAndGlyphs">8.91%</text>
<circle cx="179.5" cy="631.9" r="2.1" fill="#b0b4b8"/>
<text x="186.3" y="634.0" font-size="7" fill="#999" text-anchor="start" font-weight="normal" textLength="25.4" lengthAdjust="spacingAndGlyphs">Average</text>
<rect x="1333" y="616" width="45" height="19.5" fill="#4a76b8"/>
<rect x="1378.5" y="616.5" width="46" height="18.5" fill="#fff" stroke="#dcdcdc" stroke-width="1"/>
<text x="1340.4" y="628.8" font-size="9.5" fill="#ffffff" text-anchor="start" font-weight="normal" textLength="30.6" lengthAdjust="spacingAndGlyphs">Growth</text>
<text x="1384.7" y="628.8" font-size="9.5" fill="#222" text-anchor="start" font-weight="normal" textLength="32.3" lengthAdjust="spacingAndGlyphs">Balance</text>
<rect x="113.5" y="665.5" width="1287" height="1" fill="#ececec"/>
<text x="1405.0" y="669.0" font-size="7.5" fill="#555" text-anchor="start" font-weight="normal" textLength="16.0" lengthAdjust="spacingAndGlyphs">20%</text>
<rect x="113.5" y="705.5" width="1287" height="1" fill="#ececec"/>
<text x="1405.0" y="709.0" font-size="7.5" fill="#555" text-anchor="start" font-weight="normal" textLength="16.0" lengthAdjust="spacingAndGlyphs">15%</text>
<rect x="113.5" y="745.5" width="1287" height="1" fill="#ececec"/>
<text x="1405.0" y="749.0" font-size="7.5" fill="#555" text-anchor="start" font-weight="normal" textLength="16.0" lengthAdjust="spacingAndGlyphs">10%</text>
<rect x="113.5" y="785.5" width="1287" height="1" fill="#ececec"/>
<text x="1405.0" y="789.0" font-size="7.5" fill="#555" text-anchor="start" font-weight="normal" textLength="12.0" lengthAdjust="spacingAndGlyphs">5%</text>
<rect x="113.5" y="825.5" width="1287" height="1" fill="#ececec"/>
<text x="1405.0" y="829.0" font-size="7.5" fill="#555" text-anchor="start" font-weight="normal" textLength="12.0" lengthAdjust="spacingAndGlyphs">0%</text>
<rect x="113.5" y="842.3" width="1287" height="1" fill="#e6e6e6"/>
<path d="M113.5,823.3 L1388,680.6" fill="none" stroke="#a9adb0" stroke-width="1.3"/>
<path d="M113.5,826.4 L433.3,771.1" fill="none" stroke="#ccd6f5" stroke-width="2.2"/>
<path d="M433.3,771.1 C447.4,770.8 490.6,770.0 517.7,769.5 C544.8,769.0 573.0,768.6 595.8,768.0 C618.6,767.4 633.7,766.9 654.4,766.0 C675.1,765.1 695.1,764.3 720.0,762.9 C744.9,761.5 772.7,759.8 804.0,757.8 C835.3,755.8 877.6,753.1 908.0,750.7 C938.4,748.3 956.2,746.6 986.5,743.4 C1016.8,740.2 1062.7,735.2 1090.0,731.6 C1117.3,728.0 1130.3,725.5 1150.5,721.6 C1170.7,717.7 1190.8,713.1 1211.0,708.4 C1231.2,703.7 1251.4,698.2 1271.6,693.3 C1291.8,688.4 1312.7,683.8 1332.0,679.2 C1351.3,674.7 1378.4,668.2 1387.7,666.0" fill="none" stroke="#5b9be6" stroke-width="2.4" stroke-linejoin="round"/>
<text x="114.9" y="855.0" font-size="7.5" fill="#444" text-anchor="start" font-weight="normal" textLength="4.0" lengthAdjust="spacingAndGlyphs">0</text>
<text x="434.0" y="855.0" font-size="7.5" fill="#444" text-anchor="start" font-weight="normal" textLength="3.3" lengthAdjust="spacingAndGlyphs">1</text>
<text x="751.5" y="855.0" font-size="7.5" fill="#444" text-anchor="start" font-weight="normal" textLength="3.9" lengthAdjust="spacingAndGlyphs">2</text>
<text x="1069.8" y="855.0" font-size="7.5" fill="#444" text-anchor="start" font-weight="normal" textLength="3.8" lengthAdjust="spacingAndGlyphs">3</text>
<text x="1387.9" y="855.0" font-size="7.5" fill="#444" text-anchor="start" font-weight="normal" textLength="3.8" lengthAdjust="spacingAndGlyphs">4</text>
<text x="287.0" y="870.3" font-size="7" fill="#555" text-anchor="start" font-weight="normal" textLength="11.2" lengthAdjust="spacingAndGlyphs">Jan</text>
<text x="403.1" y="870.3" font-size="7" fill="#555" text-anchor="start" font-weight="normal" textLength="11.8" lengthAdjust="spacingAndGlyphs">Feb</text>
<text x="503.4" y="870.3" font-size="7" fill="#555" text-anchor="start" font-weight="normal" textLength="12.0" lengthAdjust="spacingAndGlyphs">Mar</text>
<text x="587.5" y="870.3" font-size="7" fill="#555" text-anchor="start" font-weight="normal" textLength="12.0" lengthAdjust="spacingAndGlyphs">Apr</text>
<text x="676.0" y="870.3" font-size="7" fill="#555" text-anchor="start" font-weight="normal" textLength="12.0" lengthAdjust="spacingAndGlyphs">May</text>
<text x="762.5" y="870.3" font-size="7" fill="#555" text-anchor="start" font-weight="normal" textLength="11.0" lengthAdjust="spacingAndGlyphs">Jun</text>
<text x="841.5" y="870.3" font-size="7" fill="#555" text-anchor="start" font-weight="normal" textLength="10.0" lengthAdjust="spacingAndGlyphs">Jul</text>
<text x="927.0" y="870.3" font-size="7" fill="#555" text-anchor="start" font-weight="normal" textLength="12.0" lengthAdjust="spacingAndGlyphs">Aug</text>
<text x="1012.0" y="870.3" font-size="7" fill="#555" text-anchor="start" font-weight="normal" textLength="12.0" lengthAdjust="spacingAndGlyphs">Sep</text>
<text x="1097.5" y="870.3" font-size="7" fill="#555" text-anchor="start" font-weight="normal" textLength="11.5" lengthAdjust="spacingAndGlyphs">Oct</text>
<text x="1185.0" y="870.3" font-size="7" fill="#555" text-anchor="start" font-weight="normal" textLength="12.0" lengthAdjust="spacingAndGlyphs">Nov</text>
<text x="1272.3" y="870.3" font-size="7" fill="#555" text-anchor="start" font-weight="normal" textLength="12.0" lengthAdjust="spacingAndGlyphs">Dec</text>
<text x="1405.4" y="870.3" font-size="7" fill="#555" text-anchor="start" font-weight="normal" textLength="14.3" lengthAdjust="spacingAndGlyphs">Year</text>
<rect x="113.5" y="877" width="1311" height="22.2" fill="#f7f9fd"/>
<rect x="113.5" y="898.7" width="1311" height="0.8" fill="#eef0f4"/>
<text x="118.9" y="891.1" font-size="8" fill="#222" text-anchor="start" font-weight="bold" textLength="17.1" lengthAdjust="spacingAndGlyphs">2026</text>
<text x="395.6" y="891.0" font-size="8.2" fill="#2a74b8" text-anchor="start" font-weight="normal" textLength="19.3" lengthAdjust="spacingAndGlyphs">11.44</text>
<text x="500.3" y="891.0" font-size="8.2" fill="#2a74b8" text-anchor="start" font-weight="normal" textLength="15.1" lengthAdjust="spacingAndGlyphs">7.79</text>
<text x="1391.0" y="891.0" font-size="8.2" fill="#2a74b8" text-anchor="start" font-weight="normal" textLength="28.7" lengthAdjust="spacingAndGlyphs">20.12%</text>
<rect x="121.7" y="906.4" width="5.9" height="6.9" fill="#8a8a8a"/>
<text x="132.8" y="913.3" font-size="9" fill="#3f5f9f" text-anchor="start" font-weight="normal" textLength="145.2" lengthAdjust="spacingAndGlyphs">How is the Growth in Signals Calculated?</text>
<text x="1372.0" y="913.3" font-size="8.2" fill="#222" text-anchor="start" font-weight="bold" textLength="16.5" lengthAdjust="spacingAndGlyphs">Total:</text>
<text x="1391.0" y="913.3" font-size="8.2" fill="#2a74b8" text-anchor="start" font-weight="normal" textLength="28.7" lengthAdjust="spacingAndGlyphs">20.12%</text>
</svg>
</body></html>
